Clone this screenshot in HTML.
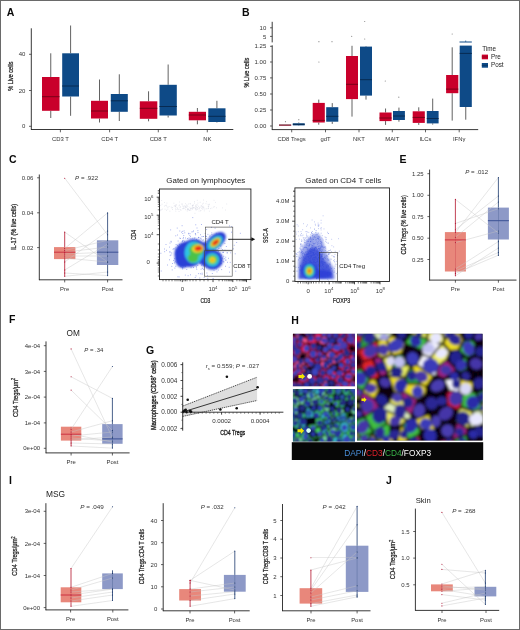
<!DOCTYPE html>
<html><head><meta charset="utf-8"><style>
html,body{margin:0;padding:0;background:#fff;}
body{width:520px;height:630px;overflow:hidden;}
svg{display:block;will-change:transform;}
text{font-family:"Liberation Sans", sans-serif;}
</style></head><body>
<svg width="520" height="630" viewBox="0 0 520 630">
<defs><filter id="bl0_4" x="-20%" y="-20%" width="140%" height="140%"><feGaussianBlur stdDeviation="0.4"/></filter><filter id="bl0_5" x="-20%" y="-20%" width="140%" height="140%"><feGaussianBlur stdDeviation="0.5"/></filter><filter id="bl0_6" x="-20%" y="-20%" width="140%" height="140%"><feGaussianBlur stdDeviation="0.6"/></filter><filter id="bl0_7" x="-20%" y="-20%" width="140%" height="140%"><feGaussianBlur stdDeviation="0.7"/></filter><filter id="bl0_8" x="-20%" y="-20%" width="140%" height="140%"><feGaussianBlur stdDeviation="0.8"/></filter><filter id="bl0_9" x="-20%" y="-20%" width="140%" height="140%"><feGaussianBlur stdDeviation="0.9"/></filter><filter id="bl1_0" x="-20%" y="-20%" width="140%" height="140%"><feGaussianBlur stdDeviation="1.0"/></filter><filter id="bl1_1" x="-20%" y="-20%" width="140%" height="140%"><feGaussianBlur stdDeviation="1.1"/></filter><filter id="bl1_2" x="-20%" y="-20%" width="140%" height="140%"><feGaussianBlur stdDeviation="1.2"/></filter><filter id="bl1_3" x="-20%" y="-20%" width="140%" height="140%"><feGaussianBlur stdDeviation="1.3"/></filter><filter id="bl1_4" x="-20%" y="-20%" width="140%" height="140%"><feGaussianBlur stdDeviation="1.4"/></filter><filter id="bl1_5" x="-20%" y="-20%" width="140%" height="140%"><feGaussianBlur stdDeviation="1.5"/></filter></defs>
<rect x="0" y="0" width="520" height="630" fill="#fff"/>
<text x="6.7" y="15.7" font-size="10.5" text-anchor="start" fill="#0a0a0a" font-weight="bold">A</text>
<line x1="31.3" y1="28.3" x2="31.3" y2="129.8" stroke="#222" stroke-width="0.9"/>
<line x1="31.0" y1="129.5" x2="233.3" y2="129.5" stroke="#222" stroke-width="0.9"/>
<line x1="29" y1="126.3" x2="31.3" y2="126.3" stroke="#222" stroke-width="0.7"/>
<text x="25.4" y="128.4" font-size="6" text-anchor="end" fill="#333" font-weight="normal">0</text>
<line x1="29" y1="90.5" x2="31.3" y2="90.5" stroke="#222" stroke-width="0.7"/>
<text x="25.4" y="92.6" font-size="6" text-anchor="end" fill="#333" font-weight="normal">20</text>
<line x1="29" y1="54.3" x2="31.3" y2="54.3" stroke="#222" stroke-width="0.7"/>
<text x="25.4" y="56.4" font-size="6" text-anchor="end" fill="#333" font-weight="normal">40</text>
<text x="13.4" y="76.2" font-size="7.2" text-anchor="middle" fill="#222" font-weight="normal" transform="rotate(-90 13.4 76.2)" textLength="29.3" lengthAdjust="spacingAndGlyphs" stroke="#222" stroke-width="0.25">% Live cells</text>
<line x1="50.75" y1="53.3" x2="50.75" y2="77" stroke="#3a3a3a" stroke-width="0.8"/>
<line x1="50.75" y1="110.8" x2="50.75" y2="118" stroke="#3a3a3a" stroke-width="0.8"/>
<rect x="42" y="77" width="17.5" height="33.8" fill="#c9002b" stroke="none" stroke-width="0"/>
<line x1="42" y1="96.7" x2="59.5" y2="96.7" stroke="#7a0018" stroke-width="1.0"/>
<line x1="70.6" y1="25.5" x2="70.6" y2="53.3" stroke="#3a3a3a" stroke-width="0.8"/>
<line x1="70.6" y1="96.5" x2="70.6" y2="115.8" stroke="#3a3a3a" stroke-width="0.8"/>
<rect x="62.2" y="53.3" width="16.799999999999997" height="43.2" fill="#0e4a87" stroke="none" stroke-width="0"/>
<line x1="62.2" y1="86" x2="79" y2="86" stroke="#072a52" stroke-width="1.0"/>
<line x1="99.5" y1="79.5" x2="99.5" y2="100.8" stroke="#3a3a3a" stroke-width="0.8"/>
<line x1="99.5" y1="118.5" x2="99.5" y2="122.5" stroke="#3a3a3a" stroke-width="0.8"/>
<rect x="91" y="100.8" width="17" height="17.700000000000003" fill="#c9002b" stroke="none" stroke-width="0"/>
<line x1="91" y1="111" x2="108" y2="111" stroke="#7a0018" stroke-width="1.0"/>
<line x1="119.3" y1="74.3" x2="119.3" y2="94" stroke="#3a3a3a" stroke-width="0.8"/>
<line x1="119.3" y1="111.8" x2="119.3" y2="121" stroke="#3a3a3a" stroke-width="0.8"/>
<rect x="110.8" y="94" width="17.0" height="17.799999999999997" fill="#0e4a87" stroke="none" stroke-width="0"/>
<line x1="110.8" y1="100.8" x2="127.8" y2="100.8" stroke="#072a52" stroke-width="1.0"/>
<line x1="148.55" y1="91.3" x2="148.55" y2="101.3" stroke="#3a3a3a" stroke-width="0.8"/>
<line x1="148.55" y1="118.8" x2="148.55" y2="121.3" stroke="#3a3a3a" stroke-width="0.8"/>
<rect x="139.8" y="101.3" width="17.5" height="17.5" fill="#c9002b" stroke="none" stroke-width="0"/>
<line x1="139.8" y1="108.3" x2="157.3" y2="108.3" stroke="#7a0018" stroke-width="1.0"/>
<line x1="168.15" y1="64.5" x2="168.15" y2="84.8" stroke="#3a3a3a" stroke-width="0.8"/>
<line x1="168.15" y1="115.5" x2="168.15" y2="117.5" stroke="#3a3a3a" stroke-width="0.8"/>
<rect x="159.5" y="84.8" width="17.30000000000001" height="30.700000000000003" fill="#0e4a87" stroke="none" stroke-width="0"/>
<line x1="159.5" y1="106.5" x2="176.8" y2="106.5" stroke="#072a52" stroke-width="1.0"/>
<line x1="197.4" y1="108" x2="197.4" y2="111.8" stroke="#3a3a3a" stroke-width="0.8"/>
<line x1="197.4" y1="120.3" x2="197.4" y2="124.3" stroke="#3a3a3a" stroke-width="0.8"/>
<rect x="188.8" y="111.8" width="17.19999999999999" height="8.5" fill="#c9002b" stroke="none" stroke-width="0"/>
<line x1="188.8" y1="115" x2="206" y2="115" stroke="#7a0018" stroke-width="1.0"/>
<line x1="216.9" y1="100.8" x2="216.9" y2="108.3" stroke="#3a3a3a" stroke-width="0.8"/>
<line x1="216.9" y1="122" x2="216.9" y2="122.5" stroke="#3a3a3a" stroke-width="0.8"/>
<rect x="208.3" y="108.3" width="17.19999999999999" height="13.700000000000003" fill="#0e4a87" stroke="none" stroke-width="0"/>
<line x1="208.3" y1="116.3" x2="225.5" y2="116.3" stroke="#072a52" stroke-width="1.0"/>
<line x1="60.4" y1="129.5" x2="60.4" y2="132.3" stroke="#222" stroke-width="0.7"/>
<text x="60.4" y="140.8" font-size="5.9" text-anchor="middle" fill="#333" font-weight="normal">CD3 T</text>
<line x1="109.6" y1="129.5" x2="109.6" y2="132.3" stroke="#222" stroke-width="0.7"/>
<text x="109.6" y="140.8" font-size="5.9" text-anchor="middle" fill="#333" font-weight="normal">CD4 T</text>
<line x1="158.3" y1="129.5" x2="158.3" y2="132.3" stroke="#222" stroke-width="0.7"/>
<text x="158.3" y="140.8" font-size="5.9" text-anchor="middle" fill="#333" font-weight="normal">CD8 T</text>
<line x1="207.3" y1="129.5" x2="207.3" y2="132.3" stroke="#222" stroke-width="0.7"/>
<text x="207.3" y="140.8" font-size="5.9" text-anchor="middle" fill="#333" font-weight="normal">NK</text>
<text x="242.0" y="15.7" font-size="10.5" text-anchor="start" fill="#0a0a0a" font-weight="bold">B</text>
<line x1="272.2" y1="21.8" x2="272.2" y2="42.4" stroke="#222" stroke-width="0.9"/>
<line x1="272.2" y1="45.3" x2="272.2" y2="129.9" stroke="#222" stroke-width="0.9"/>
<line x1="271.9" y1="129.6" x2="478.2" y2="129.6" stroke="#222" stroke-width="0.9"/>
<line x1="270" y1="27.8" x2="272.2" y2="27.8" stroke="#222" stroke-width="0.7"/>
<text x="266.3" y="29.900000000000002" font-size="6" text-anchor="end" fill="#333" font-weight="normal">10</text>
<line x1="270" y1="36.4" x2="272.2" y2="36.4" stroke="#222" stroke-width="0.7"/>
<text x="266.3" y="38.5" font-size="6" text-anchor="end" fill="#333" font-weight="normal">5</text>
<line x1="270" y1="46.3" x2="272.2" y2="46.3" stroke="#222" stroke-width="0.7"/>
<text x="266.3" y="48.4" font-size="6" text-anchor="end" fill="#333" font-weight="normal">1.25</text>
<line x1="270" y1="62.0" x2="272.2" y2="62.0" stroke="#222" stroke-width="0.7"/>
<text x="266.3" y="64.1" font-size="6" text-anchor="end" fill="#333" font-weight="normal">1.00</text>
<line x1="270" y1="77.9" x2="272.2" y2="77.9" stroke="#222" stroke-width="0.7"/>
<text x="266.3" y="80.0" font-size="6" text-anchor="end" fill="#333" font-weight="normal">0.75</text>
<line x1="270" y1="94.0" x2="272.2" y2="94.0" stroke="#222" stroke-width="0.7"/>
<text x="266.3" y="96.1" font-size="6" text-anchor="end" fill="#333" font-weight="normal">0.50</text>
<line x1="270" y1="110.0" x2="272.2" y2="110.0" stroke="#222" stroke-width="0.7"/>
<text x="266.3" y="112.1" font-size="6" text-anchor="end" fill="#333" font-weight="normal">0.25</text>
<line x1="270" y1="126.0" x2="272.2" y2="126.0" stroke="#222" stroke-width="0.7"/>
<text x="266.3" y="128.1" font-size="6" text-anchor="end" fill="#333" font-weight="normal">0.00</text>
<text x="248.6" y="72.6" font-size="7.2" text-anchor="middle" fill="#222" font-weight="normal" transform="rotate(-90 248.6 72.6)" textLength="29.7" lengthAdjust="spacingAndGlyphs" stroke="#222" stroke-width="0.25">% Live cells</text>
<line x1="285.1" y1="124.9" x2="285.1" y2="124.9" stroke="#3a3a3a" stroke-width="0.8"/>
<line x1="285.1" y1="125.1" x2="285.1" y2="125.1" stroke="#3a3a3a" stroke-width="0.8"/>
<rect x="279" y="124.9" width="12.199999999999989" height="0.6" fill="#c9002b" stroke="none" stroke-width="0"/>
<line x1="279" y1="125" x2="291.2" y2="125" stroke="#5a1020" stroke-width="1.0"/>
<line x1="298.75" y1="122.5" x2="298.75" y2="123.3" stroke="#3a3a3a" stroke-width="0.8"/>
<line x1="298.75" y1="125.4" x2="298.75" y2="125.8" stroke="#3a3a3a" stroke-width="0.8"/>
<rect x="292.8" y="123.3" width="11.899999999999977" height="2.1000000000000085" fill="#0e4a87" stroke="none" stroke-width="0"/>
<line x1="292.8" y1="124.3" x2="304.7" y2="124.3" stroke="#072a52" stroke-width="1.0"/>
<line x1="318.75" y1="99.6" x2="318.75" y2="102.9" stroke="#3a3a3a" stroke-width="0.8"/>
<line x1="318.75" y1="122.5" x2="318.75" y2="124.7" stroke="#3a3a3a" stroke-width="0.8"/>
<rect x="312.7" y="102.9" width="12.100000000000023" height="19.599999999999994" fill="#c9002b" stroke="none" stroke-width="0"/>
<line x1="312.7" y1="120.4" x2="324.8" y2="120.4" stroke="#7a0018" stroke-width="1.0"/>
<line x1="332.25" y1="103.1" x2="332.25" y2="107.2" stroke="#3a3a3a" stroke-width="0.8"/>
<line x1="332.25" y1="121.7" x2="332.25" y2="123.9" stroke="#3a3a3a" stroke-width="0.8"/>
<rect x="326.2" y="107.2" width="12.100000000000023" height="14.5" fill="#0e4a87" stroke="none" stroke-width="0"/>
<line x1="326.2" y1="116.3" x2="338.3" y2="116.3" stroke="#072a52" stroke-width="1.0"/>
<line x1="352.0" y1="45.8" x2="352.0" y2="56" stroke="#3a3a3a" stroke-width="0.8"/>
<line x1="352.0" y1="99.1" x2="352.0" y2="116.6" stroke="#3a3a3a" stroke-width="0.8"/>
<rect x="346" y="56" width="12" height="43.099999999999994" fill="#c9002b" stroke="none" stroke-width="0"/>
<line x1="346" y1="84.3" x2="358" y2="84.3" stroke="#7a0018" stroke-width="1.0"/>
<line x1="366.0" y1="46" x2="366.0" y2="46.6" stroke="#3a3a3a" stroke-width="0.8"/>
<line x1="366.0" y1="95.6" x2="366.0" y2="99.6" stroke="#3a3a3a" stroke-width="0.8"/>
<rect x="360" y="46.6" width="12" height="48.99999999999999" fill="#0e4a87" stroke="none" stroke-width="0"/>
<line x1="360" y1="79.7" x2="372" y2="79.7" stroke="#072a52" stroke-width="1.0"/>
<line x1="385.55" y1="108.5" x2="385.55" y2="112.5" stroke="#3a3a3a" stroke-width="0.8"/>
<line x1="385.55" y1="121.1" x2="385.55" y2="124.9" stroke="#3a3a3a" stroke-width="0.8"/>
<rect x="379.5" y="112.5" width="12.100000000000023" height="8.599999999999994" fill="#c9002b" stroke="none" stroke-width="0"/>
<line x1="379.5" y1="118" x2="391.6" y2="118" stroke="#7a0018" stroke-width="1.0"/>
<line x1="398.95" y1="107.6" x2="398.95" y2="111" stroke="#3a3a3a" stroke-width="0.8"/>
<line x1="398.95" y1="120" x2="398.95" y2="121.7" stroke="#3a3a3a" stroke-width="0.8"/>
<rect x="393" y="111" width="11.899999999999977" height="9" fill="#0e4a87" stroke="none" stroke-width="0"/>
<line x1="393" y1="116" x2="404.9" y2="116" stroke="#072a52" stroke-width="1.0"/>
<line x1="418.75" y1="107.3" x2="418.75" y2="111.3" stroke="#3a3a3a" stroke-width="0.8"/>
<line x1="418.75" y1="122.9" x2="418.75" y2="124.9" stroke="#3a3a3a" stroke-width="0.8"/>
<rect x="412.7" y="111.3" width="12.100000000000023" height="11.600000000000009" fill="#c9002b" stroke="none" stroke-width="0"/>
<line x1="412.7" y1="117.4" x2="424.8" y2="117.4" stroke="#7a0018" stroke-width="1.0"/>
<line x1="432.70000000000005" y1="98.6" x2="432.70000000000005" y2="111" stroke="#3a3a3a" stroke-width="0.8"/>
<line x1="432.70000000000005" y1="123.4" x2="432.70000000000005" y2="124.6" stroke="#3a3a3a" stroke-width="0.8"/>
<rect x="426.8" y="111" width="11.800000000000011" height="12.400000000000006" fill="#0e4a87" stroke="none" stroke-width="0"/>
<line x1="426.8" y1="118.5" x2="438.6" y2="118.5" stroke="#072a52" stroke-width="1.0"/>
<line x1="452.20000000000005" y1="47.3" x2="452.20000000000005" y2="75" stroke="#3a3a3a" stroke-width="0.8"/>
<line x1="452.20000000000005" y1="93.2" x2="452.20000000000005" y2="120.6" stroke="#3a3a3a" stroke-width="0.8"/>
<rect x="446.1" y="75" width="12.199999999999989" height="18.200000000000003" fill="#c9002b" stroke="none" stroke-width="0"/>
<line x1="446.1" y1="89.1" x2="458.3" y2="89.1" stroke="#7a0018" stroke-width="1.0"/>
<line x1="465.75" y1="45.6" x2="465.75" y2="45.6" stroke="#3a3a3a" stroke-width="0.8"/>
<line x1="465.75" y1="107" x2="465.75" y2="119.7" stroke="#3a3a3a" stroke-width="0.8"/>
<rect x="459.7" y="45.6" width="12.100000000000023" height="61.4" fill="#0e4a87" stroke="none" stroke-width="0"/>
<line x1="459.7" y1="53.4" x2="471.8" y2="53.4" stroke="#072a52" stroke-width="1.0"/>
<line x1="459.5" y1="42.0" x2="471.8" y2="42.0" stroke="#0e4a87" stroke-width="1.0"/>
<line x1="465.7" y1="40.5" x2="465.7" y2="42" stroke="#0e4a87" stroke-width="0.7"/>
<circle cx="285.5" cy="121.7" r="0.6" fill="#888"/>
<circle cx="298.8" cy="119.7" r="0.6" fill="#888"/>
<circle cx="318.9" cy="41.7" r="0.6" fill="#888"/>
<circle cx="332" cy="41.7" r="0.6" fill="#888"/>
<circle cx="318.9" cy="62" r="0.6" fill="#888"/>
<circle cx="351.7" cy="36.3" r="0.6" fill="#888"/>
<circle cx="364.7" cy="21.5" r="0.6" fill="#888"/>
<circle cx="364.7" cy="39" r="0.6" fill="#888"/>
<circle cx="385.3" cy="81" r="0.6" fill="#888"/>
<circle cx="398.8" cy="97.2" r="0.6" fill="#888"/>
<circle cx="452.2" cy="34" r="0.6" fill="#888"/>
<line x1="291.7" y1="129.6" x2="291.7" y2="132.3" stroke="#222" stroke-width="0.7"/>
<text x="291.7" y="141.0" font-size="5.9" text-anchor="middle" fill="#333" font-weight="normal">CD8 Tregs</text>
<line x1="325.5" y1="129.6" x2="325.5" y2="132.3" stroke="#222" stroke-width="0.7"/>
<text x="325.5" y="141.0" font-size="5.9" text-anchor="middle" fill="#333" font-weight="normal">gdT</text>
<line x1="359" y1="129.6" x2="359" y2="132.3" stroke="#222" stroke-width="0.7"/>
<text x="359" y="141.0" font-size="5.9" text-anchor="middle" fill="#333" font-weight="normal">NKT</text>
<line x1="392.3" y1="129.6" x2="392.3" y2="132.3" stroke="#222" stroke-width="0.7"/>
<text x="392.3" y="141.0" font-size="5.9" text-anchor="middle" fill="#333" font-weight="normal">MAIT</text>
<line x1="425.5" y1="129.6" x2="425.5" y2="132.3" stroke="#222" stroke-width="0.7"/>
<text x="425.5" y="141.0" font-size="5.9" text-anchor="middle" fill="#333" font-weight="normal">ILCs</text>
<line x1="459.2" y1="129.6" x2="459.2" y2="132.3" stroke="#222" stroke-width="0.7"/>
<text x="459.2" y="141.0" font-size="5.9" text-anchor="middle" fill="#333" font-weight="normal">IFNγ</text>
<text x="482.3" y="50.8" font-size="6.3" text-anchor="start" fill="#222" font-weight="normal">Time</text>
<rect x="481.8" y="54.6" width="6.2" height="4.7" fill="#c9002b" stroke="none" stroke-width="0"/>
<line x1="481.8" y1="56.95" x2="488" y2="56.95" stroke="#7a0018" stroke-width="0.6"/>
<text x="491.0" y="59.0" font-size="6.3" text-anchor="start" fill="#222" font-weight="normal">Pre</text>
<rect x="481.8" y="63.0" width="6.2" height="4.7" fill="#0e4a87" stroke="none" stroke-width="0"/>
<line x1="481.8" y1="65.35" x2="488" y2="65.35" stroke="#072a52" stroke-width="0.6"/>
<text x="491.0" y="67.4" font-size="6.3" text-anchor="start" fill="#222" font-weight="normal">Post</text>
<text x="9.1" y="163.4" font-size="10.5" text-anchor="start" fill="#0a0a0a" font-weight="bold">C</text>
<line x1="39.3" y1="174.5" x2="39.3" y2="280.1" stroke="#222" stroke-width="0.9"/>
<line x1="39.0" y1="279.8" x2="122.5" y2="279.8" stroke="#222" stroke-width="0.9"/>
<line x1="37.099999999999994" y1="177.8" x2="39.3" y2="177.8" stroke="#222" stroke-width="0.7"/>
<text x="33.4" y="179.9" font-size="6" text-anchor="end" fill="#333" font-weight="normal">0.06</text>
<line x1="37.099999999999994" y1="212.8" x2="39.3" y2="212.8" stroke="#222" stroke-width="0.7"/>
<text x="33.4" y="214.9" font-size="6" text-anchor="end" fill="#333" font-weight="normal">0.04</text>
<line x1="37.099999999999994" y1="247.6" x2="39.3" y2="247.6" stroke="#222" stroke-width="0.7"/>
<text x="33.4" y="249.7" font-size="6" text-anchor="end" fill="#333" font-weight="normal">0.02</text>
<line x1="64.7" y1="279.8" x2="64.7" y2="282.40000000000003" stroke="#222" stroke-width="0.7"/>
<text x="64.7" y="290.90000000000003" font-size="5.9" text-anchor="middle" fill="#333" font-weight="normal">Pre</text>
<line x1="107.6" y1="279.8" x2="107.6" y2="282.40000000000003" stroke="#222" stroke-width="0.7"/>
<text x="107.6" y="290.90000000000003" font-size="5.9" text-anchor="middle" fill="#333" font-weight="normal">Post</text>
<text x="15.8" y="226.9" font-size="7.2" text-anchor="middle" fill="#222" font-weight="normal" transform="rotate(-90 15.8 226.9)" textLength="46.3" lengthAdjust="spacingAndGlyphs" stroke="#222" stroke-width="0.25">IL-17 (% live cells)</text>
<rect x="54.0" y="247.1" width="21.4" height="12.000000000000028" fill="#e8877b" stroke="none" stroke-width="0"/>
<rect x="96.89999999999999" y="240.3" width="21.4" height="24.69999999999999" fill="#8d99c7" stroke="none" stroke-width="0"/>
<line x1="64.7" y1="178.2" x2="107.6" y2="234.8" stroke="#c4c4c4" stroke-width="0.5" opacity="0.85"/>
<line x1="64.7" y1="232.1" x2="107.6" y2="262" stroke="#c4c4c4" stroke-width="0.5" opacity="0.85"/>
<line x1="64.7" y1="248.5" x2="107.6" y2="212.9" stroke="#c4c4c4" stroke-width="0.5" opacity="0.85"/>
<line x1="64.7" y1="250.5" x2="107.6" y2="240.3" stroke="#c4c4c4" stroke-width="0.5" opacity="0.85"/>
<line x1="64.7" y1="252.2" x2="107.6" y2="247" stroke="#c4c4c4" stroke-width="0.5" opacity="0.85"/>
<line x1="64.7" y1="254" x2="107.6" y2="252.2" stroke="#c4c4c4" stroke-width="0.5" opacity="0.85"/>
<line x1="64.7" y1="256" x2="107.6" y2="256" stroke="#c4c4c4" stroke-width="0.5" opacity="0.85"/>
<line x1="64.7" y1="258" x2="107.6" y2="262" stroke="#c4c4c4" stroke-width="0.5" opacity="0.85"/>
<line x1="64.7" y1="262" x2="107.6" y2="231" stroke="#c4c4c4" stroke-width="0.5" opacity="0.85"/>
<line x1="64.7" y1="270" x2="107.6" y2="244" stroke="#c4c4c4" stroke-width="0.5" opacity="0.85"/>
<line x1="64.7" y1="276.3" x2="107.6" y2="272" stroke="#c4c4c4" stroke-width="0.5" opacity="0.85"/>
<line x1="64.7" y1="273" x2="107.6" y2="275.6" stroke="#c4c4c4" stroke-width="0.5" opacity="0.85"/>
<line x1="64.7" y1="232.1" x2="64.7" y2="247.1" stroke="#b3142c" stroke-width="0.8"/>
<line x1="64.7" y1="259.1" x2="64.7" y2="276.3" stroke="#b3142c" stroke-width="0.8"/>
<line x1="64.7" y1="247.1" x2="64.7" y2="259.1" stroke="#b3142c" stroke-width="0.5" opacity="0.5"/>
<line x1="54.0" y1="252.2" x2="75.4" y2="252.2" stroke="#cc3040" stroke-width="1.0"/>
<line x1="107.6" y1="212.9" x2="107.6" y2="240.3" stroke="#1d3a6f" stroke-width="0.8"/>
<line x1="107.6" y1="265" x2="107.6" y2="275.6" stroke="#1d3a6f" stroke-width="0.8"/>
<line x1="107.6" y1="240.3" x2="107.6" y2="265" stroke="#1d3a6f" stroke-width="0.5" opacity="0.5"/>
<line x1="96.89999999999999" y1="252.2" x2="118.3" y2="252.2" stroke="#3c5294" stroke-width="1.0"/>
<circle cx="64.7" cy="178.2" r="0.55" fill="#b01030"/>
<circle cx="107.6" cy="234.8" r="0.55" fill="#1d3a6f"/>
<circle cx="64.7" cy="232.1" r="0.55" fill="#b01030"/>
<circle cx="107.6" cy="262" r="0.55" fill="#1d3a6f"/>
<circle cx="64.7" cy="248.5" r="0.55" fill="#b01030"/>
<circle cx="107.6" cy="212.9" r="0.55" fill="#1d3a6f"/>
<circle cx="64.7" cy="250.5" r="0.55" fill="#b01030"/>
<circle cx="107.6" cy="240.3" r="0.55" fill="#1d3a6f"/>
<circle cx="64.7" cy="252.2" r="0.55" fill="#b01030"/>
<circle cx="107.6" cy="247" r="0.55" fill="#1d3a6f"/>
<circle cx="64.7" cy="254" r="0.55" fill="#b01030"/>
<circle cx="107.6" cy="252.2" r="0.55" fill="#1d3a6f"/>
<circle cx="64.7" cy="256" r="0.55" fill="#b01030"/>
<circle cx="107.6" cy="256" r="0.55" fill="#1d3a6f"/>
<circle cx="64.7" cy="258" r="0.55" fill="#b01030"/>
<circle cx="107.6" cy="262" r="0.55" fill="#1d3a6f"/>
<circle cx="64.7" cy="262" r="0.55" fill="#b01030"/>
<circle cx="107.6" cy="231" r="0.55" fill="#1d3a6f"/>
<circle cx="64.7" cy="270" r="0.55" fill="#b01030"/>
<circle cx="107.6" cy="244" r="0.55" fill="#1d3a6f"/>
<circle cx="64.7" cy="276.3" r="0.55" fill="#b01030"/>
<circle cx="107.6" cy="272" r="0.55" fill="#1d3a6f"/>
<circle cx="64.7" cy="273" r="0.55" fill="#b01030"/>
<circle cx="107.6" cy="275.6" r="0.55" fill="#1d3a6f"/>
<text x="75.1" y="179.5" font-size="6.2" fill="#333" textLength="23" lengthAdjust="spacingAndGlyphs"><tspan font-style="italic">P</tspan> = .922</text>
<text x="399.6" y="163.3" font-size="10.5" text-anchor="start" fill="#0a0a0a" font-weight="bold">E</text>
<line x1="429.6" y1="169.6" x2="429.6" y2="280.40000000000003" stroke="#222" stroke-width="0.9"/>
<line x1="429.3" y1="280.1" x2="516.5" y2="280.1" stroke="#222" stroke-width="0.9"/>
<line x1="427.40000000000003" y1="173.7" x2="429.6" y2="173.7" stroke="#222" stroke-width="0.7"/>
<text x="423.70000000000005" y="175.79999999999998" font-size="6" text-anchor="end" fill="#333" font-weight="normal">1.25</text>
<line x1="427.40000000000003" y1="195.3" x2="429.6" y2="195.3" stroke="#222" stroke-width="0.7"/>
<text x="423.70000000000005" y="197.4" font-size="6" text-anchor="end" fill="#333" font-weight="normal">1.00</text>
<line x1="427.40000000000003" y1="216.6" x2="429.6" y2="216.6" stroke="#222" stroke-width="0.7"/>
<text x="423.70000000000005" y="218.7" font-size="6" text-anchor="end" fill="#333" font-weight="normal">0.75</text>
<line x1="427.40000000000003" y1="238.2" x2="429.6" y2="238.2" stroke="#222" stroke-width="0.7"/>
<text x="423.70000000000005" y="240.29999999999998" font-size="6" text-anchor="end" fill="#333" font-weight="normal">0.50</text>
<line x1="427.40000000000003" y1="259.5" x2="429.6" y2="259.5" stroke="#222" stroke-width="0.7"/>
<text x="423.70000000000005" y="261.6" font-size="6" text-anchor="end" fill="#333" font-weight="normal">0.25</text>
<line x1="455.4" y1="280.1" x2="455.4" y2="282.70000000000005" stroke="#222" stroke-width="0.7"/>
<text x="455.4" y="291.20000000000005" font-size="5.9" text-anchor="middle" fill="#333" font-weight="normal">Pre</text>
<line x1="498.4" y1="280.1" x2="498.4" y2="282.70000000000005" stroke="#222" stroke-width="0.7"/>
<text x="498.4" y="291.20000000000005" font-size="5.9" text-anchor="middle" fill="#333" font-weight="normal">Post</text>
<text x="406.3" y="224.9" font-size="7.2" text-anchor="middle" fill="#222" font-weight="normal" transform="rotate(-90 406.3 224.9)" textLength="59.4" lengthAdjust="spacingAndGlyphs" stroke="#222" stroke-width="0.25">CD4 Tregs (% live cells)</text>
<rect x="444.9" y="232.1" width="21.0" height="39.400000000000006" fill="#e8877b" stroke="none" stroke-width="0"/>
<rect x="487.9" y="207.6" width="21.0" height="31.900000000000006" fill="#8d99c7" stroke="none" stroke-width="0"/>
<line x1="455.4" y1="199.4" x2="498.4" y2="233" stroke="#c4c4c4" stroke-width="0.5" opacity="0.85"/>
<line x1="455.4" y1="223.5" x2="498.4" y2="208.7" stroke="#c4c4c4" stroke-width="0.5" opacity="0.85"/>
<line x1="455.4" y1="229.7" x2="498.4" y2="196" stroke="#c4c4c4" stroke-width="0.5" opacity="0.85"/>
<line x1="455.4" y1="232.5" x2="498.4" y2="177.5" stroke="#c4c4c4" stroke-width="0.5" opacity="0.85"/>
<line x1="455.4" y1="237.3" x2="498.4" y2="202" stroke="#c4c4c4" stroke-width="0.5" opacity="0.85"/>
<line x1="455.4" y1="242.6" x2="498.4" y2="231" stroke="#c4c4c4" stroke-width="0.5" opacity="0.85"/>
<line x1="455.4" y1="269" x2="498.4" y2="241.6" stroke="#c4c4c4" stroke-width="0.5" opacity="0.85"/>
<line x1="455.4" y1="271" x2="498.4" y2="252.5" stroke="#c4c4c4" stroke-width="0.5" opacity="0.85"/>
<line x1="455.4" y1="273.4" x2="498.4" y2="255.2" stroke="#c4c4c4" stroke-width="0.5" opacity="0.85"/>
<line x1="455.4" y1="275.8" x2="498.4" y2="248" stroke="#c4c4c4" stroke-width="0.5" opacity="0.85"/>
<line x1="455.4" y1="199.4" x2="455.4" y2="232.1" stroke="#b3142c" stroke-width="0.8"/>
<line x1="455.4" y1="271.5" x2="455.4" y2="275.8" stroke="#b3142c" stroke-width="0.8"/>
<line x1="455.4" y1="232.1" x2="455.4" y2="271.5" stroke="#b3142c" stroke-width="0.5" opacity="0.5"/>
<line x1="444.9" y1="239.9" x2="465.9" y2="239.9" stroke="#cc3040" stroke-width="1.0"/>
<line x1="498.4" y1="177.5" x2="498.4" y2="207.6" stroke="#1d3a6f" stroke-width="0.8"/>
<line x1="498.4" y1="239.5" x2="498.4" y2="255.7" stroke="#1d3a6f" stroke-width="0.8"/>
<line x1="498.4" y1="207.6" x2="498.4" y2="239.5" stroke="#1d3a6f" stroke-width="0.5" opacity="0.5"/>
<line x1="487.9" y1="220.7" x2="508.9" y2="220.7" stroke="#3c5294" stroke-width="1.0"/>
<circle cx="455.4" cy="199.4" r="0.55" fill="#b01030"/>
<circle cx="498.4" cy="233" r="0.55" fill="#1d3a6f"/>
<circle cx="455.4" cy="223.5" r="0.55" fill="#b01030"/>
<circle cx="498.4" cy="208.7" r="0.55" fill="#1d3a6f"/>
<circle cx="455.4" cy="229.7" r="0.55" fill="#b01030"/>
<circle cx="498.4" cy="196" r="0.55" fill="#1d3a6f"/>
<circle cx="455.4" cy="232.5" r="0.55" fill="#b01030"/>
<circle cx="498.4" cy="177.5" r="0.55" fill="#1d3a6f"/>
<circle cx="455.4" cy="237.3" r="0.55" fill="#b01030"/>
<circle cx="498.4" cy="202" r="0.55" fill="#1d3a6f"/>
<circle cx="455.4" cy="242.6" r="0.55" fill="#b01030"/>
<circle cx="498.4" cy="231" r="0.55" fill="#1d3a6f"/>
<circle cx="455.4" cy="269" r="0.55" fill="#b01030"/>
<circle cx="498.4" cy="241.6" r="0.55" fill="#1d3a6f"/>
<circle cx="455.4" cy="271" r="0.55" fill="#b01030"/>
<circle cx="498.4" cy="252.5" r="0.55" fill="#1d3a6f"/>
<circle cx="455.4" cy="273.4" r="0.55" fill="#b01030"/>
<circle cx="498.4" cy="255.2" r="0.55" fill="#1d3a6f"/>
<circle cx="455.4" cy="275.8" r="0.55" fill="#b01030"/>
<circle cx="498.4" cy="248" r="0.55" fill="#1d3a6f"/>
<text x="465.2" y="174.1" font-size="6.2" fill="#333" textLength="23" lengthAdjust="spacingAndGlyphs"><tspan font-style="italic">P</tspan> = .012</text>
<text x="9.1" y="323.1" font-size="10.5" text-anchor="start" fill="#0a0a0a" font-weight="bold">F</text>
<text x="66.6" y="335.9" font-size="8.2" text-anchor="start" fill="#222" font-weight="normal" textLength="13.3" lengthAdjust="spacingAndGlyphs">OM</text>
<line x1="46.0" y1="341.4" x2="46.0" y2="453.2" stroke="#222" stroke-width="0.9"/>
<line x1="45.7" y1="452.9" x2="129.6" y2="452.9" stroke="#222" stroke-width="0.9"/>
<line x1="43.8" y1="345.7" x2="46.0" y2="345.7" stroke="#222" stroke-width="0.7"/>
<text x="40.1" y="347.8" font-size="6" text-anchor="end" fill="#333" font-weight="normal">4e-04</text>
<line x1="43.8" y1="371.4" x2="46.0" y2="371.4" stroke="#222" stroke-width="0.7"/>
<text x="40.1" y="373.5" font-size="6" text-anchor="end" fill="#333" font-weight="normal">3e-04</text>
<line x1="43.8" y1="397.1" x2="46.0" y2="397.1" stroke="#222" stroke-width="0.7"/>
<text x="40.1" y="399.20000000000005" font-size="6" text-anchor="end" fill="#333" font-weight="normal">2e-04</text>
<line x1="43.8" y1="422.9" x2="46.0" y2="422.9" stroke="#222" stroke-width="0.7"/>
<text x="40.1" y="425.0" font-size="6" text-anchor="end" fill="#333" font-weight="normal">1e-04</text>
<line x1="43.8" y1="448.3" x2="46.0" y2="448.3" stroke="#222" stroke-width="0.7"/>
<text x="40.1" y="450.40000000000003" font-size="6" text-anchor="end" fill="#333" font-weight="normal">0e+00</text>
<line x1="71.1" y1="452.9" x2="71.1" y2="455.5" stroke="#222" stroke-width="0.7"/>
<text x="71.1" y="464.0" font-size="5.9" text-anchor="middle" fill="#333" font-weight="normal">Pre</text>
<line x1="112.4" y1="452.9" x2="112.4" y2="455.5" stroke="#222" stroke-width="0.7"/>
<text x="112.4" y="464.0" font-size="5.9" text-anchor="middle" fill="#333" font-weight="normal">Post</text>
<text x="17.6" y="397.5" font-size="7.2" text-anchor="middle" fill="#222" font-weight="normal" transform="rotate(-90 17.6 397.5)" textLength="39" lengthAdjust="spacingAndGlyphs" stroke="#222" stroke-width="0.25">CD4 Tregs/μm<tspan dy="-2.5" font-size="4.5">2</tspan></text>
<rect x="60.89999999999999" y="426.7" width="20.4" height="13.900000000000034" fill="#e8877b" stroke="none" stroke-width="0"/>
<rect x="102.2" y="424.1" width="20.4" height="19.69999999999999" fill="#8d99c7" stroke="none" stroke-width="0"/>
<line x1="71.1" y1="348.9" x2="112.4" y2="437.9" stroke="#c4c4c4" stroke-width="0.5" opacity="0.85"/>
<line x1="71.1" y1="376.8" x2="112.4" y2="398.4" stroke="#c4c4c4" stroke-width="0.5" opacity="0.85"/>
<line x1="71.1" y1="390.1" x2="112.4" y2="430.4" stroke="#c4c4c4" stroke-width="0.5" opacity="0.85"/>
<line x1="71.1" y1="429.3" x2="112.4" y2="366.5" stroke="#c4c4c4" stroke-width="0.5" opacity="0.85"/>
<line x1="71.1" y1="432" x2="112.4" y2="420.7" stroke="#c4c4c4" stroke-width="0.5" opacity="0.85"/>
<line x1="71.1" y1="436" x2="112.4" y2="432" stroke="#c4c4c4" stroke-width="0.5" opacity="0.85"/>
<line x1="71.1" y1="438" x2="112.4" y2="441" stroke="#c4c4c4" stroke-width="0.5" opacity="0.85"/>
<line x1="71.1" y1="440" x2="112.4" y2="437" stroke="#c4c4c4" stroke-width="0.5" opacity="0.85"/>
<line x1="71.1" y1="443" x2="112.4" y2="444" stroke="#c4c4c4" stroke-width="0.5" opacity="0.85"/>
<line x1="71.1" y1="446" x2="112.4" y2="448.1" stroke="#c4c4c4" stroke-width="0.5" opacity="0.85"/>
<line x1="71.1" y1="434.2" x2="112.4" y2="442" stroke="#c4c4c4" stroke-width="0.5" opacity="0.85"/>
<line x1="71.1" y1="426.7" x2="71.1" y2="426.7" stroke="#b3142c" stroke-width="0.8"/>
<line x1="71.1" y1="440.6" x2="71.1" y2="446" stroke="#b3142c" stroke-width="0.8"/>
<line x1="71.1" y1="426.7" x2="71.1" y2="440.6" stroke="#b3142c" stroke-width="0.5" opacity="0.5"/>
<line x1="60.89999999999999" y1="434.2" x2="81.3" y2="434.2" stroke="#cc3040" stroke-width="1.0"/>
<line x1="112.4" y1="398.4" x2="112.4" y2="424.1" stroke="#1d3a6f" stroke-width="0.8"/>
<line x1="112.4" y1="443.8" x2="112.4" y2="448.1" stroke="#1d3a6f" stroke-width="0.8"/>
<line x1="112.4" y1="424.1" x2="112.4" y2="443.8" stroke="#1d3a6f" stroke-width="0.5" opacity="0.5"/>
<line x1="102.2" y1="438.9" x2="122.60000000000001" y2="438.9" stroke="#3c5294" stroke-width="1.0"/>
<circle cx="71.1" cy="348.9" r="0.55" fill="#b01030"/>
<circle cx="112.4" cy="437.9" r="0.55" fill="#1d3a6f"/>
<circle cx="71.1" cy="376.8" r="0.55" fill="#b01030"/>
<circle cx="112.4" cy="398.4" r="0.55" fill="#1d3a6f"/>
<circle cx="71.1" cy="390.1" r="0.55" fill="#b01030"/>
<circle cx="112.4" cy="430.4" r="0.55" fill="#1d3a6f"/>
<circle cx="71.1" cy="429.3" r="0.55" fill="#b01030"/>
<circle cx="112.4" cy="366.5" r="0.55" fill="#1d3a6f"/>
<circle cx="71.1" cy="432" r="0.55" fill="#b01030"/>
<circle cx="112.4" cy="420.7" r="0.55" fill="#1d3a6f"/>
<circle cx="71.1" cy="436" r="0.55" fill="#b01030"/>
<circle cx="112.4" cy="432" r="0.55" fill="#1d3a6f"/>
<circle cx="71.1" cy="438" r="0.55" fill="#b01030"/>
<circle cx="112.4" cy="441" r="0.55" fill="#1d3a6f"/>
<circle cx="71.1" cy="440" r="0.55" fill="#b01030"/>
<circle cx="112.4" cy="437" r="0.55" fill="#1d3a6f"/>
<circle cx="71.1" cy="443" r="0.55" fill="#b01030"/>
<circle cx="112.4" cy="444" r="0.55" fill="#1d3a6f"/>
<circle cx="71.1" cy="446" r="0.55" fill="#b01030"/>
<circle cx="112.4" cy="448.1" r="0.55" fill="#1d3a6f"/>
<circle cx="71.1" cy="434.2" r="0.55" fill="#b01030"/>
<circle cx="112.4" cy="442" r="0.55" fill="#1d3a6f"/>
<text x="84.3" y="352.2" font-size="6.2" fill="#333" textLength="19" lengthAdjust="spacingAndGlyphs"><tspan font-style="italic">P</tspan> = .34</text>
<text x="9.1" y="483.8" font-size="10.5" text-anchor="start" fill="#0a0a0a" font-weight="bold">I</text>
<text x="46.0" y="496.9" font-size="8.4" text-anchor="start" fill="#222" font-weight="normal" textLength="19.1" lengthAdjust="spacingAndGlyphs">MSG</text>
<line x1="45.9" y1="503.2" x2="45.9" y2="610.1999999999999" stroke="#222" stroke-width="0.9"/>
<line x1="45.6" y1="609.9" x2="128.4" y2="609.9" stroke="#222" stroke-width="0.9"/>
<line x1="43.699999999999996" y1="511.3" x2="45.9" y2="511.3" stroke="#222" stroke-width="0.7"/>
<text x="40.0" y="513.4" font-size="6" text-anchor="end" fill="#333" font-weight="normal">3e-04</text>
<line x1="43.699999999999996" y1="543.4" x2="45.9" y2="543.4" stroke="#222" stroke-width="0.7"/>
<text x="40.0" y="545.5" font-size="6" text-anchor="end" fill="#333" font-weight="normal">2e-04</text>
<line x1="43.699999999999996" y1="575.5" x2="45.9" y2="575.5" stroke="#222" stroke-width="0.7"/>
<text x="40.0" y="577.6" font-size="6" text-anchor="end" fill="#333" font-weight="normal">1e-04</text>
<line x1="43.699999999999996" y1="607.6" x2="45.9" y2="607.6" stroke="#222" stroke-width="0.7"/>
<text x="40.0" y="609.7" font-size="6" text-anchor="end" fill="#333" font-weight="normal">0e+00</text>
<line x1="70.6" y1="609.9" x2="70.6" y2="612.5" stroke="#222" stroke-width="0.7"/>
<text x="70.6" y="621.0" font-size="5.9" text-anchor="middle" fill="#333" font-weight="normal">Pre</text>
<line x1="112.8" y1="609.9" x2="112.8" y2="612.5" stroke="#222" stroke-width="0.7"/>
<text x="112.8" y="621.0" font-size="5.9" text-anchor="middle" fill="#333" font-weight="normal">Post</text>
<text x="17.2" y="556.2" font-size="7.2" text-anchor="middle" fill="#222" font-weight="normal" transform="rotate(-90 17.2 556.2)" textLength="39.3" lengthAdjust="spacingAndGlyphs" stroke="#222" stroke-width="0.25">CD4 Tregs/μm<tspan dy="-2.5" font-size="4.5">2</tspan></text>
<rect x="60.7" y="587.3" width="20.6" height="15.0" fill="#e8877b" stroke="none" stroke-width="0"/>
<rect x="102.2" y="573.4" width="20.6" height="15.700000000000045" fill="#8d99c7" stroke="none" stroke-width="0"/>
<line x1="71.0" y1="568.5" x2="112.5" y2="506.8" stroke="#c4c4c4" stroke-width="0.5" opacity="0.85"/>
<line x1="71.0" y1="587.3" x2="112.5" y2="573.4" stroke="#c4c4c4" stroke-width="0.5" opacity="0.85"/>
<line x1="71.0" y1="590" x2="112.5" y2="578" stroke="#c4c4c4" stroke-width="0.5" opacity="0.85"/>
<line x1="71.0" y1="592" x2="112.5" y2="589" stroke="#c4c4c4" stroke-width="0.5" opacity="0.85"/>
<line x1="71.0" y1="595" x2="112.5" y2="589.1" stroke="#c4c4c4" stroke-width="0.5" opacity="0.85"/>
<line x1="71.0" y1="598" x2="112.5" y2="592" stroke="#c4c4c4" stroke-width="0.5" opacity="0.85"/>
<line x1="71.0" y1="601" x2="112.5" y2="595" stroke="#c4c4c4" stroke-width="0.5" opacity="0.85"/>
<line x1="71.0" y1="606.3" x2="112.5" y2="600.5" stroke="#c4c4c4" stroke-width="0.5" opacity="0.85"/>
<line x1="71.0" y1="568.5" x2="71.0" y2="587.3" stroke="#b3142c" stroke-width="0.8"/>
<line x1="71.0" y1="602.3" x2="71.0" y2="606.3" stroke="#b3142c" stroke-width="0.8"/>
<line x1="71.0" y1="587.3" x2="71.0" y2="602.3" stroke="#b3142c" stroke-width="0.5" opacity="0.5"/>
<line x1="60.7" y1="595" x2="81.3" y2="595" stroke="#cc3040" stroke-width="1.0"/>
<line x1="112.5" y1="570.3" x2="112.5" y2="573.4" stroke="#1d3a6f" stroke-width="0.8"/>
<line x1="112.5" y1="589.1" x2="112.5" y2="600.5" stroke="#1d3a6f" stroke-width="0.8"/>
<line x1="112.5" y1="573.4" x2="112.5" y2="589.1" stroke="#1d3a6f" stroke-width="0.5" opacity="0.5"/>
<circle cx="71.0" cy="568.5" r="0.55" fill="#b01030"/>
<circle cx="112.5" cy="506.8" r="0.55" fill="#1d3a6f"/>
<circle cx="71.0" cy="587.3" r="0.55" fill="#b01030"/>
<circle cx="112.5" cy="573.4" r="0.55" fill="#1d3a6f"/>
<circle cx="71.0" cy="590" r="0.55" fill="#b01030"/>
<circle cx="112.5" cy="578" r="0.55" fill="#1d3a6f"/>
<circle cx="71.0" cy="592" r="0.55" fill="#b01030"/>
<circle cx="112.5" cy="589" r="0.55" fill="#1d3a6f"/>
<circle cx="71.0" cy="595" r="0.55" fill="#b01030"/>
<circle cx="112.5" cy="589.1" r="0.55" fill="#1d3a6f"/>
<circle cx="71.0" cy="598" r="0.55" fill="#b01030"/>
<circle cx="112.5" cy="592" r="0.55" fill="#1d3a6f"/>
<circle cx="71.0" cy="601" r="0.55" fill="#b01030"/>
<circle cx="112.5" cy="595" r="0.55" fill="#1d3a6f"/>
<circle cx="71.0" cy="606.3" r="0.55" fill="#b01030"/>
<circle cx="112.5" cy="600.5" r="0.55" fill="#1d3a6f"/>
<text x="80.2" y="509.2" font-size="6.2" fill="#333" textLength="23.6" lengthAdjust="spacingAndGlyphs"><tspan font-style="italic">P</tspan> = .049</text>
<line x1="163.2" y1="503.2" x2="163.2" y2="611.0999999999999" stroke="#222" stroke-width="0.9"/>
<line x1="162.89999999999998" y1="610.8" x2="249.7" y2="610.8" stroke="#222" stroke-width="0.9"/>
<line x1="161.0" y1="520.5" x2="163.2" y2="520.5" stroke="#222" stroke-width="0.7"/>
<text x="157.29999999999998" y="522.6" font-size="6" text-anchor="end" fill="#333" font-weight="normal">40</text>
<line x1="161.0" y1="542.7" x2="163.2" y2="542.7" stroke="#222" stroke-width="0.7"/>
<text x="157.29999999999998" y="544.8000000000001" font-size="6" text-anchor="end" fill="#333" font-weight="normal">30</text>
<line x1="161.0" y1="564.6" x2="163.2" y2="564.6" stroke="#222" stroke-width="0.7"/>
<text x="157.29999999999998" y="566.7" font-size="6" text-anchor="end" fill="#333" font-weight="normal">20</text>
<line x1="161.0" y1="586.8" x2="163.2" y2="586.8" stroke="#222" stroke-width="0.7"/>
<text x="157.29999999999998" y="588.9" font-size="6" text-anchor="end" fill="#333" font-weight="normal">10</text>
<line x1="161.0" y1="609" x2="163.2" y2="609" stroke="#222" stroke-width="0.7"/>
<text x="157.29999999999998" y="611.1" font-size="6" text-anchor="end" fill="#333" font-weight="normal">0</text>
<line x1="190.0" y1="610.8" x2="190.0" y2="613.4" stroke="#222" stroke-width="0.7"/>
<text x="190.0" y="621.9" font-size="5.9" text-anchor="middle" fill="#333" font-weight="normal">Pre</text>
<line x1="234.6" y1="610.8" x2="234.6" y2="613.4" stroke="#222" stroke-width="0.7"/>
<text x="234.6" y="621.9" font-size="5.9" text-anchor="middle" fill="#333" font-weight="normal">Post</text>
<text x="143.9" y="556.7" font-size="7.2" text-anchor="middle" fill="#222" font-weight="normal" transform="rotate(-90 143.9 556.7)" textLength="55.3" lengthAdjust="spacingAndGlyphs" stroke="#222" stroke-width="0.25">CD4 Tregs:CD4 T cells</text>
<rect x="179.2" y="589.1" width="21.8" height="11.399999999999977" fill="#e8877b" stroke="none" stroke-width="0"/>
<rect x="223.9" y="574.9" width="21.8" height="16.800000000000068" fill="#8d99c7" stroke="none" stroke-width="0"/>
<line x1="190.1" y1="580.4" x2="234.8" y2="551.1" stroke="#c4c4c4" stroke-width="0.5" opacity="0.85"/>
<line x1="190.1" y1="583" x2="234.8" y2="507.7" stroke="#c4c4c4" stroke-width="0.5" opacity="0.85"/>
<line x1="190.1" y1="580.4" x2="234.8" y2="590" stroke="#c4c4c4" stroke-width="0.5" opacity="0.85"/>
<line x1="190.1" y1="589.1" x2="234.8" y2="583" stroke="#c4c4c4" stroke-width="0.5" opacity="0.85"/>
<line x1="190.1" y1="592" x2="234.8" y2="587" stroke="#c4c4c4" stroke-width="0.5" opacity="0.85"/>
<line x1="190.1" y1="596" x2="234.8" y2="591.7" stroke="#c4c4c4" stroke-width="0.5" opacity="0.85"/>
<line x1="190.1" y1="600.5" x2="234.8" y2="594" stroke="#c4c4c4" stroke-width="0.5" opacity="0.85"/>
<line x1="190.1" y1="606.3" x2="234.8" y2="598.6" stroke="#c4c4c4" stroke-width="0.5" opacity="0.85"/>
<line x1="190.1" y1="580.4" x2="190.1" y2="589.1" stroke="#b3142c" stroke-width="0.8"/>
<line x1="190.1" y1="600.5" x2="190.1" y2="606.3" stroke="#b3142c" stroke-width="0.8"/>
<line x1="190.1" y1="589.1" x2="190.1" y2="600.5" stroke="#b3142c" stroke-width="0.5" opacity="0.5"/>
<line x1="234.8" y1="551.1" x2="234.8" y2="574.9" stroke="#1d3a6f" stroke-width="0.8"/>
<line x1="234.8" y1="591.7" x2="234.8" y2="598.6" stroke="#1d3a6f" stroke-width="0.8"/>
<line x1="234.8" y1="574.9" x2="234.8" y2="591.7" stroke="#1d3a6f" stroke-width="0.5" opacity="0.5"/>
<circle cx="190.1" cy="580.4" r="0.55" fill="#b01030"/>
<circle cx="234.8" cy="551.1" r="0.55" fill="#1d3a6f"/>
<circle cx="190.1" cy="583" r="0.55" fill="#b01030"/>
<circle cx="234.8" cy="507.7" r="0.55" fill="#1d3a6f"/>
<circle cx="190.1" cy="580.4" r="0.55" fill="#b01030"/>
<circle cx="234.8" cy="590" r="0.55" fill="#1d3a6f"/>
<circle cx="190.1" cy="589.1" r="0.55" fill="#b01030"/>
<circle cx="234.8" cy="583" r="0.55" fill="#1d3a6f"/>
<circle cx="190.1" cy="592" r="0.55" fill="#b01030"/>
<circle cx="234.8" cy="587" r="0.55" fill="#1d3a6f"/>
<circle cx="190.1" cy="596" r="0.55" fill="#b01030"/>
<circle cx="234.8" cy="591.7" r="0.55" fill="#1d3a6f"/>
<circle cx="190.1" cy="600.5" r="0.55" fill="#b01030"/>
<circle cx="234.8" cy="594" r="0.55" fill="#1d3a6f"/>
<circle cx="190.1" cy="606.3" r="0.55" fill="#b01030"/>
<circle cx="234.8" cy="598.6" r="0.55" fill="#1d3a6f"/>
<text x="200.7" y="508.8" font-size="6.2" fill="#333" textLength="23" lengthAdjust="spacingAndGlyphs"><tspan font-style="italic">P</tspan> = .032</text>
<line x1="282.5" y1="504" x2="282.5" y2="611.0999999999999" stroke="#222" stroke-width="0.9"/>
<line x1="282.2" y1="610.8" x2="370.5" y2="610.8" stroke="#222" stroke-width="0.9"/>
<line x1="280.3" y1="520.5" x2="282.5" y2="520.5" stroke="#222" stroke-width="0.7"/>
<text x="276.6" y="522.6" font-size="6" text-anchor="end" fill="#333" font-weight="normal">5</text>
<line x1="280.3" y1="539.2" x2="282.5" y2="539.2" stroke="#222" stroke-width="0.7"/>
<text x="276.6" y="541.3000000000001" font-size="6" text-anchor="end" fill="#333" font-weight="normal">4</text>
<line x1="280.3" y1="558" x2="282.5" y2="558" stroke="#222" stroke-width="0.7"/>
<text x="276.6" y="560.1" font-size="6" text-anchor="end" fill="#333" font-weight="normal">3</text>
<line x1="280.3" y1="576.7" x2="282.5" y2="576.7" stroke="#222" stroke-width="0.7"/>
<text x="276.6" y="578.8000000000001" font-size="6" text-anchor="end" fill="#333" font-weight="normal">2</text>
<line x1="280.3" y1="595.5" x2="282.5" y2="595.5" stroke="#222" stroke-width="0.7"/>
<text x="276.6" y="597.6" font-size="6" text-anchor="end" fill="#333" font-weight="normal">1</text>
<line x1="311.0" y1="610.8" x2="311.0" y2="613.4" stroke="#222" stroke-width="0.7"/>
<text x="311.0" y="621.9" font-size="5.9" text-anchor="middle" fill="#333" font-weight="normal">Pre</text>
<line x1="357.1" y1="610.8" x2="357.1" y2="613.4" stroke="#222" stroke-width="0.7"/>
<text x="357.1" y="621.9" font-size="5.9" text-anchor="middle" fill="#333" font-weight="normal">Post</text>
<text x="267.8" y="556.5" font-size="7.2" text-anchor="middle" fill="#222" font-weight="normal" transform="rotate(-90 267.8 556.5)" textLength="55.6" lengthAdjust="spacingAndGlyphs" stroke="#222" stroke-width="0.25">CD4 Tregs:CD8 T cells</text>
<rect x="299.59999999999997" y="588.2" width="22.6" height="15.399999999999977" fill="#e8877b" stroke="none" stroke-width="0"/>
<rect x="345.8" y="545.7" width="22.6" height="46.19999999999993" fill="#8d99c7" stroke="none" stroke-width="0"/>
<line x1="310.9" y1="570" x2="357.1" y2="558" stroke="#c4c4c4" stroke-width="0.5" opacity="0.85"/>
<line x1="310.9" y1="588.2" x2="357.1" y2="506.4" stroke="#c4c4c4" stroke-width="0.5" opacity="0.85"/>
<line x1="310.9" y1="590" x2="357.1" y2="524.7" stroke="#c4c4c4" stroke-width="0.5" opacity="0.85"/>
<line x1="310.9" y1="557.7" x2="357.1" y2="557.7" stroke="#c4c4c4" stroke-width="0.5" opacity="0.85"/>
<line x1="310.9" y1="593" x2="357.1" y2="552" stroke="#c4c4c4" stroke-width="0.5" opacity="0.85"/>
<line x1="310.9" y1="597" x2="357.1" y2="585.8" stroke="#c4c4c4" stroke-width="0.5" opacity="0.85"/>
<line x1="310.9" y1="600" x2="357.1" y2="590.8" stroke="#c4c4c4" stroke-width="0.5" opacity="0.85"/>
<line x1="310.9" y1="603.6" x2="357.1" y2="595" stroke="#c4c4c4" stroke-width="0.5" opacity="0.85"/>
<line x1="310.9" y1="606.3" x2="357.1" y2="596.8" stroke="#c4c4c4" stroke-width="0.5" opacity="0.85"/>
<line x1="310.9" y1="570" x2="310.9" y2="588.2" stroke="#b3142c" stroke-width="0.8"/>
<line x1="310.9" y1="603.6" x2="310.9" y2="606.3" stroke="#b3142c" stroke-width="0.8"/>
<line x1="310.9" y1="588.2" x2="310.9" y2="603.6" stroke="#b3142c" stroke-width="0.5" opacity="0.5"/>
<line x1="357.1" y1="506.4" x2="357.1" y2="545.7" stroke="#1d3a6f" stroke-width="0.8"/>
<line x1="357.1" y1="591.9" x2="357.1" y2="597.7" stroke="#1d3a6f" stroke-width="0.8"/>
<line x1="357.1" y1="545.7" x2="357.1" y2="591.9" stroke="#1d3a6f" stroke-width="0.5" opacity="0.5"/>
<circle cx="310.9" cy="570" r="0.55" fill="#b01030"/>
<circle cx="357.1" cy="558" r="0.55" fill="#1d3a6f"/>
<circle cx="310.9" cy="588.2" r="0.55" fill="#b01030"/>
<circle cx="357.1" cy="506.4" r="0.55" fill="#1d3a6f"/>
<circle cx="310.9" cy="590" r="0.55" fill="#b01030"/>
<circle cx="357.1" cy="524.7" r="0.55" fill="#1d3a6f"/>
<circle cx="310.9" cy="557.7" r="0.55" fill="#b01030"/>
<circle cx="357.1" cy="557.7" r="0.55" fill="#1d3a6f"/>
<circle cx="310.9" cy="593" r="0.55" fill="#b01030"/>
<circle cx="357.1" cy="552" r="0.55" fill="#1d3a6f"/>
<circle cx="310.9" cy="597" r="0.55" fill="#b01030"/>
<circle cx="357.1" cy="585.8" r="0.55" fill="#1d3a6f"/>
<circle cx="310.9" cy="600" r="0.55" fill="#b01030"/>
<circle cx="357.1" cy="590.8" r="0.55" fill="#1d3a6f"/>
<circle cx="310.9" cy="603.6" r="0.55" fill="#b01030"/>
<circle cx="357.1" cy="595" r="0.55" fill="#1d3a6f"/>
<circle cx="310.9" cy="606.3" r="0.55" fill="#b01030"/>
<circle cx="357.1" cy="596.8" r="0.55" fill="#1d3a6f"/>
<text x="322.6" y="508.8" font-size="6.2" fill="#333" textLength="23" lengthAdjust="spacingAndGlyphs"><tspan font-style="italic">P</tspan> = .042</text>
<text x="386.0" y="484.0" font-size="10.5" text-anchor="start" fill="#0a0a0a" font-weight="bold">J</text>
<text x="415.7" y="502.7" font-size="7.8" text-anchor="start" fill="#222" font-weight="normal" textLength="15.0" lengthAdjust="spacingAndGlyphs">Skin</text>
<line x1="415.4" y1="508.6" x2="415.4" y2="610.6999999999999" stroke="#222" stroke-width="0.9"/>
<line x1="415.09999999999997" y1="610.4" x2="499.2" y2="610.4" stroke="#222" stroke-width="0.9"/>
<line x1="413.2" y1="531.5" x2="415.4" y2="531.5" stroke="#222" stroke-width="0.7"/>
<text x="409.5" y="533.6" font-size="6" text-anchor="end" fill="#333" font-weight="normal">1.5</text>
<line x1="413.2" y1="558.1" x2="415.4" y2="558.1" stroke="#222" stroke-width="0.7"/>
<text x="409.5" y="560.2" font-size="6" text-anchor="end" fill="#333" font-weight="normal">1.0</text>
<line x1="413.2" y1="584.8" x2="415.4" y2="584.8" stroke="#222" stroke-width="0.7"/>
<text x="409.5" y="586.9" font-size="6" text-anchor="end" fill="#333" font-weight="normal">0.5</text>
<line x1="442.0" y1="610.4" x2="442.0" y2="613.0" stroke="#222" stroke-width="0.7"/>
<text x="442.0" y="621.5" font-size="5.9" text-anchor="middle" fill="#333" font-weight="normal">Pre</text>
<line x1="486.0" y1="610.4" x2="486.0" y2="613.0" stroke="#222" stroke-width="0.7"/>
<text x="486.0" y="621.5" font-size="5.9" text-anchor="middle" fill="#333" font-weight="normal">Post</text>
<text x="395.2" y="559.5" font-size="7.2" text-anchor="middle" fill="#222" font-weight="normal" transform="rotate(-90 395.2 559.5)" textLength="39.3" lengthAdjust="spacingAndGlyphs" stroke="#222" stroke-width="0.25">CD4 Tregs/μm<tspan dy="-2.5" font-size="4.5">2</tspan></text>
<rect x="431.0" y="584.4" width="21.8" height="6.899999999999977" fill="#e8877b" stroke="none" stroke-width="0"/>
<rect x="474.5" y="586.8" width="21.8" height="9.600000000000023" fill="#8d99c7" stroke="none" stroke-width="0"/>
<line x1="441.9" y1="512.4" x2="485.4" y2="583.1" stroke="#c4c4c4" stroke-width="0.5" opacity="0.85"/>
<line x1="441.9" y1="564.3" x2="485.4" y2="604.5" stroke="#c4c4c4" stroke-width="0.5" opacity="0.85"/>
<line x1="441.9" y1="569.4" x2="485.4" y2="573" stroke="#c4c4c4" stroke-width="0.5" opacity="0.85"/>
<line x1="441.9" y1="584" x2="485.4" y2="570.3" stroke="#c4c4c4" stroke-width="0.5" opacity="0.85"/>
<line x1="441.9" y1="586" x2="485.4" y2="590" stroke="#c4c4c4" stroke-width="0.5" opacity="0.85"/>
<line x1="441.9" y1="588" x2="485.4" y2="586.8" stroke="#c4c4c4" stroke-width="0.5" opacity="0.85"/>
<line x1="441.9" y1="589.5" x2="485.4" y2="596.4" stroke="#c4c4c4" stroke-width="0.5" opacity="0.85"/>
<line x1="441.9" y1="591.3" x2="485.4" y2="588" stroke="#c4c4c4" stroke-width="0.5" opacity="0.85"/>
<line x1="441.9" y1="594.6" x2="485.4" y2="600" stroke="#c4c4c4" stroke-width="0.5" opacity="0.85"/>
<line x1="441.9" y1="603.2" x2="485.4" y2="593" stroke="#c4c4c4" stroke-width="0.5" opacity="0.85"/>
<line x1="441.9" y1="605.9" x2="485.4" y2="598" stroke="#c4c4c4" stroke-width="0.5" opacity="0.85"/>
<line x1="485.4" y1="570.3" x2="485.4" y2="586.8" stroke="#1d3a6f" stroke-width="0.8"/>
<line x1="485.4" y1="596.4" x2="485.4" y2="604.5" stroke="#1d3a6f" stroke-width="0.8"/>
<line x1="485.4" y1="586.8" x2="485.4" y2="596.4" stroke="#1d3a6f" stroke-width="0.5" opacity="0.5"/>
<circle cx="441.9" cy="512.4" r="0.55" fill="#b01030"/>
<circle cx="485.4" cy="583.1" r="0.55" fill="#1d3a6f"/>
<circle cx="441.9" cy="564.3" r="0.55" fill="#b01030"/>
<circle cx="485.4" cy="604.5" r="0.55" fill="#1d3a6f"/>
<circle cx="441.9" cy="569.4" r="0.55" fill="#b01030"/>
<circle cx="485.4" cy="573" r="0.55" fill="#1d3a6f"/>
<circle cx="441.9" cy="584" r="0.55" fill="#b01030"/>
<circle cx="485.4" cy="570.3" r="0.55" fill="#1d3a6f"/>
<circle cx="441.9" cy="586" r="0.55" fill="#b01030"/>
<circle cx="485.4" cy="590" r="0.55" fill="#1d3a6f"/>
<circle cx="441.9" cy="588" r="0.55" fill="#b01030"/>
<circle cx="485.4" cy="586.8" r="0.55" fill="#1d3a6f"/>
<circle cx="441.9" cy="589.5" r="0.55" fill="#b01030"/>
<circle cx="485.4" cy="596.4" r="0.55" fill="#1d3a6f"/>
<circle cx="441.9" cy="591.3" r="0.55" fill="#b01030"/>
<circle cx="485.4" cy="588" r="0.55" fill="#1d3a6f"/>
<circle cx="441.9" cy="594.6" r="0.55" fill="#b01030"/>
<circle cx="485.4" cy="600" r="0.55" fill="#1d3a6f"/>
<circle cx="441.9" cy="603.2" r="0.55" fill="#b01030"/>
<circle cx="485.4" cy="593" r="0.55" fill="#1d3a6f"/>
<circle cx="441.9" cy="605.9" r="0.55" fill="#b01030"/>
<circle cx="485.4" cy="598" r="0.55" fill="#1d3a6f"/>
<text x="452.2" y="512.8" font-size="6.2" fill="#333" textLength="23.4" lengthAdjust="spacingAndGlyphs"><tspan font-style="italic">P</tspan> = .268</text>
<text x="131.3" y="162.9" font-size="10.5" text-anchor="start" fill="#0a0a0a" font-weight="bold">D</text>
<text x="205.8" y="182.9" font-size="8" text-anchor="middle" fill="#222" font-weight="normal" textLength="79" lengthAdjust="spacingAndGlyphs">Gated on lymphocytes</text>
<text x="343.3" y="182.9" font-size="8" text-anchor="middle" fill="#222" font-weight="normal" textLength="76" lengthAdjust="spacingAndGlyphs">Gated on CD4 T cells</text>
<path d="M184.4 208.3h0.7M184.8 206.2h0.7M175.0 206.4h0.7M203.6 208.1h0.7M202.5 207.6h0.7M193.5 207.5h0.7M164.7 209.2h0.7M195.1 208.3h0.7M164.3 202.5h0.7M175.5 205.8h0.7M192.3 206.9h0.7M195.3 205.3h0.7M192.3 208.0h0.7M178.7 211.5h0.7M195.8 210.1h0.7M179.3 205.1h0.7M183.2 206.7h0.7M196.8 207.6h0.7M181.7 204.5h0.7M180.7 210.2h0.7M176.7 207.6h0.7M194.0 203.1h0.7M188.7 210.4h0.7M186.5 204.9h0.7M195.0 206.8h0.7M167.5 209.2h0.7M197.4 209.5h0.7M208.2 207.9h0.7M189.7 203.6h0.7M196.6 205.4h0.7M181.7 203.7h0.7M174.5 205.6h0.7M206.0 201.7h0.7M167.6 207.6h0.7M208.2 208.5h0.7M161.4 200.5h0.7M193.0 205.1h0.7M172.3 209.5h0.7M203.4 207.4h0.7M191.4 208.1h0.7M210.3 208.6h0.7M195.3 208.4h0.7M166.0 210.3h0.7M201.4 208.4h0.7M160.4 205.4h0.7M199.8 202.3h0.7M185.4 209.7h0.7M169.6 211.2h0.7M195.7 206.6h0.7M192.5 208.7h0.7M189.7 210.0h0.7M178.7 205.9h0.7M202.6 207.1h0.7M175.7 209.5h0.7M208.5 205.8h0.7M168.7 206.6h0.7M185.9 206.2h0.7M207.7 204.3h0.7M205.6 203.7h0.7M177.0 208.6h0.7M203.8 209.2h0.7M192.8 207.4h0.7M190.1 208.5h0.7M185.5 207.7h0.7M196.0 207.0h0.7M198.7 208.5h0.7M216.1 207.8h0.7M182.0 206.0h0.7M187.8 209.4h0.7M183.3 208.0h0.7M213.7 200.3h0.7M172.3 207.6h0.7M193.6 207.6h0.7M182.0 208.7h0.7M191.9 205.6h0.7M222.0 207.9h0.7M180.2 206.7h0.7M184.8 206.8h0.7M202.1 204.0h0.7M187.1 209.5h0.7M200.0 210.9h0.7M164.2 206.1h0.7M183.2 208.6h0.7M203.3 200.0h0.7M203.2 203.2h0.7M197.6 203.1h0.7M190.5 210.1h0.7M185.9 207.5h0.7M199.2 207.4h0.7M186.8 211.0h0.7M202.7 206.2h0.7M226.4 204.0h0.7M200.8 206.3h0.7M189.9 208.8h0.7M191.1 208.7h0.7M166.6 203.1h0.7M196.6 204.5h0.7M173.6 203.2h0.7M205.7 208.9h0.7M208.6 204.6h0.7M188.0 204.0h0.7M198.7 211.1h0.7M175.5 211.1h0.7M201.8 206.5h0.7M160.4 210.7h0.7M186.7 205.4h0.7M193.6 208.1h0.7M209.0 204.3h0.7M203.9 210.9h0.7M208.3 206.5h0.7M177.6 209.6h0.7M189.6 207.3h0.7M207.9 206.3h0.7M162.0 209.1h0.7M192.4 205.4h0.7M187.9 209.2h0.7M189.1 210.4h0.7M187.1 209.7h0.7M208.9 211.2h0.7M178.6 209.3h0.7M161.7 204.2h0.7M160.5 209.8h0.7M170.8 207.0h0.7M185.3 206.9h0.7M179.7 207.6h0.7M213.1 207.1h0.7M195.4 209.6h0.7M185.2 203.7h0.7M180.2 209.8h0.7M165.0 205.4h0.7M202.1 209.1h0.7M188.1 209.1h0.7M190.3 203.9h0.7M166.1 205.3h0.7M200.9 205.5h0.7M175.4 205.0h0.7M166.6 206.7h0.7M171.5 207.9h0.7M179.0 202.0h0.7M198.1 206.3h0.7M192.1 205.8h0.7M198.9 208.9h0.7M197.3 207.8h0.7M206.7 208.7h0.7M194.3 201.6h0.7M200.6 210.4h0.7M183.8 205.8h0.7M215.2 202.4h0.7M194.6 213.3h0.7M175.0 208.8h0.7M214.4 206.7h0.7M195.9 209.3h0.7M175.3 206.8h0.7M192.1 209.1h0.7M187.5 206.5h0.7M173.8 206.1h0.7M200.5 207.3h0.7M176.1 204.8h0.7M225.3 210.0h0.7M196.9 200.3h0.7M196.7 208.2h0.7M211.6 208.1h0.7M187.1 208.4h0.7M160.8 209.7h0.7M192.5 205.2h0.7" stroke="#b8bcd0" stroke-width="0.7" opacity="0.6"/>
<path d="M217.9 270.1h0.8M177.0 245.3h0.8M202.4 253.8h0.8M192.0 242.3h0.8M229.8 262.4h0.8M180.1 238.5h0.8M223.5 261.9h0.8M225.3 260.1h0.8M184.9 254.6h0.8M165.6 244.5h0.8M197.1 257.2h0.8M187.1 250.8h0.8M204.9 255.8h0.8M207.6 254.1h0.8M193.1 259.9h0.8M198.7 243.7h0.8M188.6 252.0h0.8M196.4 253.6h0.8M198.0 253.8h0.8M196.0 239.4h0.8M204.3 262.5h0.8M204.5 250.1h0.8M204.7 242.3h0.8M169.6 252.6h0.8M184.0 259.4h0.8M181.7 225.7h0.8M182.4 267.8h0.8M192.3 238.3h0.8M186.5 257.2h0.8M205.5 253.8h0.8M220.3 259.1h0.8M197.7 258.0h0.8M222.8 261.7h0.8M213.4 241.2h0.8M195.8 259.3h0.8M193.6 262.7h0.8M206.9 261.1h0.8M194.8 277.5h0.8M216.6 249.8h0.8M199.4 278.0h0.8M192.9 260.7h0.8M212.7 252.1h0.8M180.5 253.9h0.8M203.4 263.3h0.8M209.7 252.2h0.8M210.8 257.4h0.8M201.1 252.6h0.8M194.3 258.9h0.8M182.2 245.7h0.8M198.1 237.4h0.8M191.5 231.9h0.8M187.8 257.7h0.8M206.5 251.5h0.8M194.5 237.8h0.8M225.4 257.2h0.8M214.4 243.2h0.8M195.2 233.8h0.8M209.7 261.4h0.8M169.5 251.5h0.8M207.5 234.4h0.8M170.6 241.3h0.8M188.6 238.0h0.8M198.5 254.5h0.8M207.5 259.0h0.8M220.5 263.6h0.8M178.3 246.9h0.8M182.1 241.2h0.8M196.8 252.1h0.8M205.4 236.1h0.8M179.4 251.8h0.8M195.0 248.9h0.8M197.1 244.4h0.8M208.5 255.5h0.8M196.7 245.3h0.8M195.4 224.8h0.8M183.3 252.4h0.8M175.4 254.0h0.8M200.2 238.2h0.8M194.2 248.9h0.8M204.9 258.1h0.8M197.5 243.5h0.8M195.8 251.3h0.8M209.0 254.9h0.8M187.2 238.5h0.8M192.4 244.6h0.8M181.3 250.8h0.8M190.6 253.1h0.8M205.8 247.9h0.8M232.9 248.8h0.8M214.5 253.2h0.8M214.7 228.2h0.8M186.7 254.5h0.8M207.0 275.4h0.8M202.8 264.8h0.8M209.5 261.5h0.8M205.7 250.4h0.8M205.6 241.2h0.8M215.7 241.8h0.8M201.7 273.2h0.8M194.6 252.2h0.8M215.4 252.3h0.8M185.9 254.6h0.8M206.7 259.1h0.8M186.4 269.5h0.8M223.0 252.2h0.8M202.0 247.7h0.8M219.2 245.0h0.8M208.1 247.2h0.8M187.6 259.2h0.8M218.0 251.9h0.8M187.8 260.1h0.8M197.3 255.1h0.8M220.8 263.3h0.8M190.2 274.8h0.8M198.1 259.9h0.8M188.3 251.6h0.8M171.8 269.9h0.8M218.5 239.8h0.8M175.4 235.8h0.8M215.6 247.4h0.8M197.1 248.9h0.8M196.2 241.1h0.8M198.4 237.6h0.8M196.9 255.1h0.8M205.0 249.7h0.8M184.4 253.6h0.8M190.7 267.7h0.8M209.5 250.8h0.8M190.9 245.0h0.8M183.9 248.5h0.8M202.4 257.2h0.8M206.5 273.0h0.8M187.4 252.1h0.8M239.9 233.3h0.8M190.2 253.7h0.8M200.3 256.1h0.8M194.4 255.7h0.8M198.8 259.7h0.8M169.6 243.1h0.8M198.0 241.7h0.8M182.3 258.3h0.8M188.3 258.3h0.8M209.2 255.1h0.8M205.6 251.0h0.8M176.9 251.7h0.8M204.8 246.7h0.8M196.5 259.5h0.8M184.8 258.4h0.8M225.9 246.5h0.8M200.2 250.5h0.8M221.1 255.2h0.8M211.5 245.1h0.8M197.8 251.9h0.8M171.4 266.4h0.8M211.5 234.5h0.8M209.2 250.7h0.8M204.7 255.7h0.8M175.5 249.9h0.8M220.4 246.3h0.8M182.7 238.4h0.8M179.7 255.4h0.8M223.4 256.3h0.8M201.7 274.3h0.8M190.2 245.3h0.8M205.9 257.5h0.8M182.8 240.3h0.8M202.4 254.5h0.8M178.4 250.0h0.8M189.9 256.6h0.8M196.2 251.1h0.8M192.7 262.5h0.8M218.9 248.3h0.8M210.7 244.4h0.8M199.1 259.5h0.8M220.7 248.2h0.8M196.9 254.0h0.8M175.5 252.2h0.8M187.9 255.7h0.8M181.1 232.2h0.8M198.6 254.6h0.8M189.8 260.9h0.8M193.9 245.9h0.8M205.2 236.3h0.8M187.8 251.8h0.8M210.7 250.4h0.8M202.6 245.4h0.8M202.5 268.6h0.8M187.7 275.7h0.8M188.3 252.2h0.8M200.6 262.2h0.8M179.4 231.0h0.8M207.1 260.0h0.8M207.4 278.3h0.8M201.1 254.5h0.8M211.9 255.7h0.8M223.0 239.6h0.8M192.4 217.6h0.8M210.2 248.3h0.8M211.9 273.5h0.8M197.9 249.5h0.8M190.5 243.6h0.8M188.5 258.4h0.8M198.6 252.7h0.8M195.4 261.1h0.8M205.4 250.6h0.8M208.0 250.5h0.8M180.7 266.6h0.8M205.0 242.4h0.8M214.2 255.4h0.8M174.5 268.1h0.8M203.0 260.9h0.8M201.0 250.5h0.8M174.8 261.7h0.8M198.5 249.1h0.8M203.3 252.8h0.8M208.1 248.3h0.8M197.5 230.6h0.8M191.7 258.8h0.8M218.1 248.4h0.8M196.2 267.8h0.8M193.1 259.3h0.8M223.2 252.4h0.8M216.4 244.9h0.8M201.1 251.2h0.8M199.7 263.3h0.8M233.8 245.3h0.8M189.4 257.0h0.8M182.2 257.0h0.8M206.6 249.2h0.8M206.0 236.5h0.8M209.4 236.6h0.8M187.6 246.4h0.8M192.0 260.6h0.8M199.2 248.0h0.8M206.2 267.8h0.8M198.1 255.7h0.8M216.6 254.7h0.8M178.7 276.9h0.8M231.1 232.2h0.8M197.4 256.2h0.8M212.5 258.7h0.8M193.9 241.5h0.8M199.5 262.3h0.8M181.7 241.7h0.8M197.6 232.6h0.8M194.1 247.6h0.8M204.8 245.0h0.8M184.8 248.1h0.8M197.3 245.4h0.8M198.2 259.5h0.8M215.8 269.0h0.8M186.2 247.8h0.8M160.8 271.0h0.8M187.1 251.7h0.8M205.8 238.4h0.8M205.0 251.7h0.8M170.6 254.9h0.8M215.9 233.3h0.8M210.1 254.1h0.8M205.1 256.4h0.8M217.6 249.8h0.8M211.1 247.9h0.8M208.9 243.9h0.8M196.4 269.3h0.8M204.7 250.4h0.8M180.8 244.1h0.8M200.9 261.4h0.8M204.4 257.2h0.8M197.4 265.5h0.8M192.1 246.5h0.8M211.3 252.6h0.8M193.8 246.2h0.8M194.1 258.2h0.8M203.3 239.9h0.8M204.4 253.8h0.8M183.0 259.7h0.8M193.8 248.6h0.8M209.9 265.2h0.8M187.7 256.4h0.8M184.9 275.1h0.8M190.6 263.9h0.8M188.3 260.1h0.8M231.3 226.6h0.8M191.5 257.0h0.8M196.6 245.3h0.8M230.3 252.8h0.8M173.3 260.5h0.8M172.2 263.5h0.8M189.3 253.4h0.8M216.9 253.2h0.8M177.1 235.0h0.8M215.7 259.4h0.8M185.8 260.6h0.8M205.4 258.5h0.8M164.1 249.0h0.8M211.5 259.3h0.8M211.2 227.4h0.8M200.5 256.9h0.8M236.3 242.5h0.8M193.1 252.4h0.8M211.3 247.6h0.8M215.2 244.1h0.8M202.0 246.7h0.8M200.4 245.1h0.8M174.0 262.9h0.8M202.6 246.4h0.8M201.0 261.9h0.8M183.3 250.9h0.8M206.1 257.3h0.8M193.0 230.9h0.8M216.6 255.3h0.8M198.2 249.2h0.8M202.0 247.7h0.8M182.6 244.6h0.8M189.0 245.9h0.8M180.6 258.4h0.8M178.4 258.6h0.8M182.8 255.5h0.8M218.6 254.0h0.8M187.0 252.5h0.8M200.2 234.7h0.8M188.9 253.6h0.8M191.0 252.8h0.8M209.0 259.7h0.8M211.6 257.9h0.8M193.7 251.8h0.8M193.9 248.9h0.8M195.3 234.8h0.8M193.0 251.8h0.8M183.4 251.8h0.8M205.7 250.4h0.8M229.1 225.9h0.8M194.9 233.7h0.8M212.7 278.5h0.8M160.5 253.3h0.8M205.8 249.0h0.8M206.3 229.6h0.8M210.8 255.7h0.8M198.3 246.1h0.8M207.6 247.1h0.8M201.3 246.9h0.8M164.3 251.7h0.8M201.0 259.5h0.8M184.9 251.7h0.8M207.3 253.5h0.8M216.6 271.9h0.8M184.4 232.8h0.8M210.8 267.3h0.8M211.8 260.1h0.8M188.7 244.9h0.8M211.3 242.9h0.8M170.8 242.0h0.8M235.4 271.2h0.8M187.7 244.7h0.8M201.5 244.5h0.8M217.7 251.2h0.8M181.7 265.1h0.8M189.3 254.2h0.8M197.8 248.9h0.8M202.9 245.1h0.8M170.3 229.9h0.8M179.0 244.4h0.8M197.7 252.6h0.8M206.3 253.2h0.8M186.1 244.9h0.8M166.2 250.3h0.8M205.3 257.3h0.8M196.2 250.3h0.8M212.0 252.2h0.8M209.1 257.8h0.8M201.2 265.1h0.8M189.4 248.4h0.8M185.9 244.0h0.8M221.3 269.6h0.8M198.3 257.7h0.8M215.6 260.1h0.8M216.1 239.4h0.8M188.4 256.5h0.8M219.5 253.0h0.8M185.1 248.5h0.8M188.1 243.4h0.8M220.5 245.7h0.8M198.3 273.6h0.8M215.8 255.4h0.8M188.8 256.1h0.8M222.3 258.2h0.8M216.9 253.0h0.8M205.7 250.0h0.8M204.4 265.0h0.8M176.5 251.4h0.8M201.6 246.3h0.8M193.4 259.9h0.8M228.0 258.3h0.8M202.9 236.5h0.8M226.9 252.8h0.8M197.5 240.8h0.8M197.1 241.0h0.8M199.1 256.7h0.8M198.5 254.8h0.8M185.2 266.3h0.8M188.2 233.8h0.8M195.2 244.4h0.8M182.9 248.5h0.8M202.4 240.2h0.8M195.9 266.3h0.8M208.2 250.5h0.8M199.9 250.8h0.8M197.3 259.3h0.8M196.6 228.0h0.8M197.7 243.1h0.8M207.8 245.9h0.8M200.2 273.8h0.8M182.3 240.8h0.8M176.8 228.1h0.8M169.8 255.6h0.8M188.4 233.3h0.8M175.8 258.2h0.8M186.4 248.3h0.8M203.0 265.6h0.8M227.1 262.3h0.8M200.2 253.8h0.8M225.0 266.3h0.8M193.3 256.6h0.8M202.3 252.5h0.8M190.5 238.7h0.8M190.0 236.6h0.8M216.4 257.4h0.8M179.9 266.0h0.8M211.4 232.9h0.8M225.6 260.1h0.8M229.0 239.7h0.8M206.0 256.2h0.8M201.0 253.7h0.8M213.8 237.1h0.8M179.4 238.1h0.8M189.6 245.9h0.8M203.5 254.7h0.8M198.5 245.2h0.8M191.4 261.5h0.8M209.5 253.0h0.8M193.2 267.5h0.8M189.1 258.5h0.8M215.3 249.3h0.8M210.4 240.8h0.8M213.2 254.0h0.8M174.2 258.7h0.8M184.6 264.8h0.8M187.8 250.4h0.8M202.2 248.7h0.8M201.9 246.5h0.8M208.1 252.1h0.8M201.2 224.5h0.8M215.4 252.3h0.8M171.3 253.0h0.8M205.0 262.7h0.8M181.8 267.5h0.8M195.6 275.9h0.8M195.8 258.8h0.8M192.5 240.8h0.8M214.4 261.1h0.8M221.1 260.6h0.8M189.4 235.4h0.8M188.2 245.2h0.8M185.8 257.8h0.8M202.9 249.3h0.8M200.6 250.5h0.8M201.2 259.5h0.8M212.4 245.1h0.8M175.4 266.3h0.8M199.7 263.1h0.8M173.4 248.7h0.8M198.4 237.6h0.8M190.3 259.2h0.8M214.2 267.9h0.8M185.0 238.0h0.8M205.8 261.4h0.8M200.9 239.0h0.8M209.7 259.9h0.8M206.3 247.1h0.8M202.6 259.9h0.8M189.6 233.6h0.8M202.9 256.8h0.8M198.2 260.9h0.8M189.2 251.2h0.8M193.4 257.7h0.8M221.9 249.5h0.8M228.8 267.3h0.8M209.9 257.9h0.8M224.6 250.2h0.8M196.3 241.4h0.8M205.1 265.4h0.8M206.0 256.2h0.8M195.0 253.7h0.8M176.6 262.5h0.8M191.9 241.0h0.8M186.7 243.8h0.8M210.8 262.6h0.8M177.6 261.3h0.8M211.3 246.2h0.8M175.7 244.5h0.8M188.5 255.4h0.8M192.6 231.7h0.8M201.5 236.7h0.8M211.6 239.9h0.8M187.6 243.5h0.8M189.9 265.0h0.8M210.8 258.0h0.8M202.8 236.5h0.8M190.2 246.5h0.8M183.3 257.1h0.8M186.9 244.9h0.8M182.3 231.4h0.8M206.9 265.3h0.8M200.6 242.2h0.8M216.2 255.0h0.8M211.9 266.8h0.8M214.9 247.6h0.8M213.8 259.8h0.8M174.9 247.9h0.8M176.6 250.9h0.8M206.7 241.3h0.8M167.2 265.0h0.8M203.7 266.7h0.8M178.1 262.6h0.8M229.1 272.1h0.8M194.8 254.7h0.8M195.7 262.0h0.8M213.6 252.9h0.8M177.6 259.4h0.8M191.0 258.3h0.8M201.9 268.2h0.8M215.1 247.5h0.8M203.2 269.6h0.8M189.9 256.3h0.8M215.9 264.6h0.8M205.8 238.8h0.8M179.1 254.5h0.8M203.8 277.5h0.8M185.1 263.4h0.8M209.6 235.3h0.8M185.7 253.7h0.8M190.6 250.5h0.8M205.1 243.9h0.8M205.0 245.6h0.8M189.8 257.4h0.8M189.4 254.9h0.8M222.0 252.3h0.8M195.8 259.4h0.8M192.5 262.8h0.8M178.8 258.2h0.8M190.3 244.0h0.8M224.5 243.5h0.8M224.4 258.6h0.8M219.8 242.2h0.8M216.0 266.6h0.8M196.3 250.7h0.8M234.8 253.8h0.8M191.7 245.7h0.8M204.7 255.3h0.8M200.7 269.2h0.8M193.1 256.7h0.8M219.9 242.0h0.8M213.6 270.3h0.8M177.7 241.0h0.8M182.4 233.5h0.8M204.8 233.4h0.8M205.5 266.5h0.8M173.8 248.8h0.8M169.2 259.8h0.8M186.9 249.3h0.8M198.8 257.5h0.8M192.8 252.2h0.8M189.8 253.1h0.8M180.4 252.6h0.8M169.0 247.1h0.8M226.7 252.8h0.8M179.1 254.6h0.8M183.4 235.5h0.8M187.0 259.4h0.8M203.8 251.0h0.8M184.1 241.2h0.8M218.2 254.4h0.8M183.7 230.9h0.8M177.5 276.8h0.8M180.8 251.2h0.8M201.2 250.4h0.8M193.8 238.3h0.8M182.2 268.9h0.8M186.7 260.5h0.8M172.6 249.3h0.8M201.9 262.4h0.8M181.2 258.0h0.8M203.8 244.6h0.8M205.2 243.0h0.8M186.1 251.8h0.8M183.0 237.4h0.8M191.6 259.6h0.8M191.9 264.7h0.8" stroke="#4a60dc" stroke-width="0.8" opacity="0.7"/>
<g filter="url(#bl0_9)">
<ellipse cx="189" cy="254" rx="14.5" ry="13" transform="rotate(0 189 254)" fill="#2b3fd6" opacity="1"/>
<ellipse cx="194" cy="246" rx="10" ry="7" transform="rotate(0 194 246)" fill="#2b3fd6" opacity="1"/>
<ellipse cx="215.5" cy="241.5" rx="12" ry="7" transform="rotate(-40 215.5 241.5)" fill="#2b3fd6" opacity="1"/>
<ellipse cx="212.5" cy="259.7" rx="10.5" ry="10" transform="rotate(0 212.5 259.7)" fill="#2b3fd6" opacity="1"/>
<ellipse cx="204" cy="254" rx="6" ry="12" transform="rotate(0 204 254)" fill="#2b3fd6" opacity="1"/>
<ellipse cx="183" cy="259" rx="8" ry="9" transform="rotate(0 183 259)" fill="#2b3fd6" opacity="1"/>
<ellipse cx="194" cy="252.5" rx="9.5" ry="11" transform="rotate(0 194 252.5)" fill="#2ec4e6" opacity="1"/>
<ellipse cx="215" cy="242.8" rx="9" ry="5.3" transform="rotate(-40 215 242.8)" fill="#2ec4e6" opacity="1"/>
<ellipse cx="212.4" cy="259.7" rx="7" ry="6.8" transform="rotate(0 212.4 259.7)" fill="#2ec4e6" opacity="1"/>
<ellipse cx="196.5" cy="250" rx="7.5" ry="6.5" transform="rotate(-10 196.5 250)" fill="#4cc24a" opacity="1"/>
<ellipse cx="193" cy="258" rx="5.5" ry="4.5" transform="rotate(0 193 258)" fill="#4cc24a" opacity="1"/>
<ellipse cx="215.2" cy="242.6" rx="6.6" ry="4" transform="rotate(-40 215.2 242.6)" fill="#4cc24a" opacity="1"/>
<ellipse cx="212.4" cy="259.7" rx="5" ry="4.8" transform="rotate(0 212.4 259.7)" fill="#4cc24a" opacity="1"/>
<ellipse cx="197.8" cy="248.6" rx="5.8" ry="4.0" transform="rotate(-10 197.8 248.6)" fill="#f2e52a" opacity="1"/>
<ellipse cx="215.4" cy="242.5" rx="5.6" ry="3.0" transform="rotate(-40 215.4 242.5)" fill="#f2e52a" opacity="1"/>
<ellipse cx="212.4" cy="259.9" rx="3.0" ry="2.8" transform="rotate(0 212.4 259.9)" fill="#f2e52a" opacity="1"/>
<ellipse cx="198.2" cy="248.5" rx="4.4" ry="3.0" transform="rotate(-10 198.2 248.5)" fill="#f58a1e" opacity="1"/>
<ellipse cx="215.5" cy="242.5" rx="4.4" ry="2.3" transform="rotate(-40 215.5 242.5)" fill="#f58a1e" opacity="1"/>
<ellipse cx="212.4" cy="260" rx="1.4" ry="1.3" transform="rotate(0 212.4 260)" fill="#f58a1e" opacity="1"/>
<ellipse cx="198.5" cy="248.4" rx="3.2" ry="2.0" transform="rotate(-10 198.5 248.4)" fill="#e41f1a" opacity="1"/>
<ellipse cx="215.6" cy="242.5" rx="3.3" ry="1.6" transform="rotate(-40 215.6 242.5)" fill="#e41f1a" opacity="1"/>
</g>
<rect x="159.5" y="189" width="91.4" height="90.6" fill="none" stroke="#222" stroke-width="0.9"/>
<rect x="205.6" y="227.1" width="27.2" height="23.1" fill="none" stroke="#444" stroke-width="0.6"/>
<rect x="204.5" y="250.8" width="27.7" height="25.4" fill="none" stroke="#444" stroke-width="0.6"/>
<text x="220.0" y="224.2" font-size="6" text-anchor="middle" fill="#222" font-weight="normal">CD4 T</text>
<text x="233.3" y="267.6" font-size="6" text-anchor="start" fill="#222" font-weight="normal" textLength="17.4" lengthAdjust="spacingAndGlyphs">CD8 T</text>
<line x1="228.2" y1="239.3" x2="252.5" y2="239.3" stroke="#111" stroke-width="0.9"/>
<path d="M255.2 239.3 L251.4 237.3 L251.4 241.3 Z" fill="#111"/>
<line x1="156.7" y1="197.2" x2="159.5" y2="197.2" stroke="#222" stroke-width="0.8"/>
<line x1="156.7" y1="215.2" x2="159.5" y2="215.2" stroke="#222" stroke-width="0.8"/>
<line x1="156.7" y1="234.7" x2="159.5" y2="234.7" stroke="#222" stroke-width="0.8"/>
<line x1="156.7" y1="263.1" x2="159.5" y2="263.1" stroke="#222" stroke-width="0.8"/>
<path d="M157.8 209.8h1.7M157.8 206.6h1.7M157.8 204.4h1.7M157.8 202.6h1.7M157.8 201.2h1.7M157.8 200.0h1.7M157.8 198.9h1.7M157.8 198.0h1.7M157.8 228.8h1.7M157.8 225.4h1.7M157.8 223.0h1.7M157.8 221.1h1.7M157.8 219.5h1.7M157.8 218.2h1.7M157.8 217.1h1.7M157.8 216.1h1.7M157.8 244.0h1.7M157.8 250.0h1.7M157.8 254.0h1.7M157.8 257.0h1.7M157.8 259.5h1.7M157.8 261.0h1.7M157.8 262.0h1.7M157.8 264.2h1.7M157.8 265.5h1.7M157.8 268.0h1.7M157.8 272.0h1.7M157.8 276.0h1.7M157.8 270.0h1.7M157.8 190.5h1.7M157.8 192.0h1.7M157.8 193.5h1.7" stroke="#222" stroke-width="0.6"/>
<text x="144.2" y="200.9" font-size="6" fill="#333" text-anchor="start">10<tspan dy="-2.6" font-size="4.3">6</tspan></text>
<text x="144.2" y="219.0" font-size="6" fill="#333" text-anchor="start">10<tspan dy="-2.6" font-size="4.3">5</tspan></text>
<text x="144.2" y="237.7" font-size="6" fill="#333" text-anchor="start">10<tspan dy="-2.6" font-size="4.3">4</tspan></text>
<text x="149.8" y="264.4" font-size="6" text-anchor="end" fill="#333" font-weight="normal">0</text>
<text x="136.2" y="235" font-size="6.8" text-anchor="middle" fill="#222" font-weight="normal" transform="rotate(-90 136.2 235)" textLength="10" lengthAdjust="spacingAndGlyphs" stroke="#222" stroke-width="0.2">CD4</text>
<path d="M182.3 279.5v2.6M213.0 279.5v2.6M232.8 279.5v2.6M246.5 279.5v2.6" stroke="#222" stroke-width="0.8"/>
<path d="M219.0 279.5v1.8M222.4 279.5v1.8M224.9 279.5v1.8M226.8 279.5v1.8M228.4 279.5v1.8M229.7 279.5v1.8M230.9 279.5v1.8M231.9 279.5v1.8M236.9 279.5v1.8M239.3 279.5v1.8M241.0 279.5v1.8M242.4 279.5v1.8M243.5 279.5v1.8M244.4 279.5v1.8M245.2 279.5v1.8M245.9 279.5v1.8M163.0 279.5v1.8M166.0 279.5v1.8M169.0 279.5v1.8M172.0 279.5v1.8M175.0 279.5v1.8M177.0 279.5v1.8M179.0 279.5v1.8M180.5 279.5v1.8M184.0 279.5v1.8M185.5 279.5v1.8M187.0 279.5v1.8M190.0 279.5v1.8M193.0 279.5v1.8M196.0 279.5v1.8M200.0 279.5v1.8M204.0 279.5v1.8M208.0 279.5v1.8" stroke="#222" stroke-width="0.6"/>
<text x="182.3" y="291.2" font-size="6" text-anchor="middle" fill="#333" font-weight="normal">0</text>
<text x="208.4" y="291.2" font-size="6" fill="#333" text-anchor="start">10<tspan dy="-2.6" font-size="4.3">4</tspan></text>
<text x="228.2" y="291.2" font-size="6" fill="#333" text-anchor="start">10<tspan dy="-2.6" font-size="4.3">5</tspan></text>
<text x="241.5" y="291.2" font-size="6" fill="#333" text-anchor="start">10<tspan dy="-2.6" font-size="4.3">6</tspan></text>
<text x="205.4" y="302.6" font-size="6.8" text-anchor="middle" fill="#222" font-weight="normal" textLength="10" lengthAdjust="spacingAndGlyphs" stroke="#222" stroke-width="0.2">CD3</text>
<path d="M300.6 231.6h0.8M325.0 250.4h0.8M319.5 236.9h0.8M318.2 248.9h0.8M316.8 246.3h0.8M321.9 238.9h0.8M302.3 229.7h0.8M321.4 237.9h0.8M301.6 235.7h0.8M307.0 232.0h0.8M308.4 239.1h0.8M306.0 235.4h0.8M311.3 240.9h0.8M312.0 248.7h0.8M314.1 221.9h0.8M306.2 237.2h0.8M318.0 228.6h0.8M304.6 242.8h0.8M308.0 256.9h0.8M307.0 256.6h0.8M297.8 226.1h0.8M322.0 250.8h0.8M315.4 247.4h0.8M315.4 232.6h0.8M319.5 240.1h0.8M319.9 247.0h0.8M321.1 244.5h0.8M307.4 248.7h0.8M307.2 240.0h0.8M311.9 247.6h0.8M324.7 246.5h0.8M327.9 265.8h0.8M326.4 257.7h0.8M312.2 247.5h0.8M309.7 238.0h0.8M310.4 239.0h0.8M325.8 251.9h0.8M307.0 224.9h0.8M310.5 241.4h0.8M301.2 233.5h0.8M310.4 274.4h0.8M310.7 244.4h0.8M324.0 247.5h0.8M312.5 241.9h0.8M305.6 262.5h0.8M320.0 264.9h0.8M307.9 246.3h0.8M303.1 256.6h0.8M298.5 252.2h0.8M320.9 261.5h0.8M302.5 258.0h0.8M304.6 237.7h0.8M299.1 258.7h0.8M325.8 239.5h0.8M304.2 242.3h0.8M333.6 257.0h0.8M306.1 226.3h0.8M304.9 259.1h0.8M327.8 243.1h0.8M304.8 240.4h0.8M301.2 257.7h0.8M295.6 232.0h0.8M313.6 237.6h0.8M318.0 246.1h0.8M300.4 252.8h0.8M318.6 225.0h0.8M327.4 251.5h0.8M317.8 225.5h0.8M304.5 242.2h0.8M320.7 229.9h0.8M303.0 223.7h0.8M308.8 249.8h0.8M295.8 239.5h0.8M315.6 263.4h0.8M317.0 242.7h0.8M300.4 235.7h0.8M305.0 247.6h0.8M310.6 264.3h0.8M313.6 234.2h0.8M324.9 256.4h0.8M311.9 238.1h0.8M319.2 237.2h0.8M299.1 248.2h0.8M313.2 252.7h0.8M316.9 261.5h0.8M303.4 256.8h0.8M302.1 253.6h0.8M312.6 248.7h0.8M319.7 245.8h0.8M321.0 255.6h0.8M312.2 239.8h0.8M304.2 240.2h0.8M309.2 245.7h0.8M337.8 253.0h0.8M317.9 236.5h0.8M304.6 242.5h0.8M312.7 234.6h0.8M325.5 239.8h0.8M320.7 220.3h0.8M310.9 249.1h0.8M312.7 252.6h0.8M313.5 247.8h0.8M313.8 243.9h0.8M303.6 239.6h0.8M327.6 265.0h0.8M310.5 260.2h0.8M296.7 224.7h0.8M306.7 236.4h0.8M306.0 248.1h0.8M338.2 238.7h0.8M311.4 249.0h0.8M310.7 256.2h0.8M327.0 232.3h0.8M312.5 243.1h0.8M314.2 229.2h0.8M315.7 248.1h0.8M311.7 220.0h0.8M307.6 237.7h0.8M298.3 235.9h0.8M317.3 252.0h0.8M310.8 251.7h0.8M305.6 246.8h0.8M311.4 252.1h0.8M310.4 244.4h0.8M309.8 238.9h0.8M331.1 251.7h0.8M314.9 271.2h0.8M323.6 228.9h0.8M317.3 255.2h0.8M328.0 260.5h0.8M317.9 233.1h0.8M303.2 249.0h0.8M315.5 234.8h0.8M307.5 241.6h0.8M311.5 249.7h0.8M308.4 232.4h0.8M322.2 263.6h0.8M310.0 257.3h0.8M315.0 253.3h0.8M315.3 237.6h0.8M316.2 257.1h0.8M302.9 267.6h0.8M329.8 266.1h0.8M328.9 254.2h0.8M308.0 239.4h0.8M303.7 247.3h0.8M310.7 253.4h0.8M331.5 245.7h0.8M317.1 251.2h0.8M313.5 243.7h0.8M309.9 236.9h0.8M312.6 245.7h0.8M313.9 236.6h0.8M311.4 246.5h0.8M316.4 234.3h0.8M314.8 256.8h0.8M316.4 241.9h0.8M306.6 243.4h0.8M317.6 263.1h0.8M309.6 238.9h0.8M314.4 248.2h0.8M302.8 237.9h0.8M310.1 253.4h0.8M300.3 234.8h0.8M315.5 232.5h0.8M312.0 249.9h0.8M310.0 234.8h0.8M310.5 242.3h0.8M314.0 236.8h0.8M320.8 227.6h0.8M309.4 246.1h0.8M319.7 239.3h0.8M315.9 239.8h0.8M317.6 265.1h0.8M307.4 250.9h0.8M302.7 256.7h0.8M321.9 246.4h0.8M300.8 250.4h0.8M321.3 258.0h0.8M318.3 225.9h0.8M304.9 261.6h0.8M300.0 258.4h0.8M327.9 254.4h0.8M321.1 242.3h0.8M300.0 244.9h0.8M309.2 245.5h0.8M317.3 244.4h0.8M312.7 250.7h0.8M311.0 266.3h0.8M315.0 246.9h0.8M309.1 239.1h0.8M323.1 247.7h0.8M301.3 239.8h0.8M309.8 241.1h0.8M320.8 233.2h0.8M315.4 247.6h0.8M300.4 246.5h0.8M310.2 251.5h0.8M306.9 249.3h0.8M296.0 234.1h0.8M318.1 257.5h0.8M310.9 239.4h0.8M320.7 223.0h0.8M303.8 253.4h0.8M316.9 234.6h0.8M312.4 236.1h0.8M311.5 255.9h0.8M317.7 223.1h0.8M317.9 226.4h0.8M321.3 250.4h0.8M331.3 239.3h0.8M311.0 257.5h0.8M305.2 238.2h0.8M307.7 245.2h0.8M301.3 251.3h0.8M315.9 246.8h0.8M326.3 242.4h0.8M322.8 240.0h0.8M317.8 224.7h0.8M312.8 244.1h0.8M306.5 239.3h0.8M307.9 238.1h0.8M306.1 240.2h0.8M301.5 244.5h0.8M318.1 243.2h0.8M306.6 260.9h0.8M319.8 256.1h0.8M321.4 242.4h0.8M309.8 258.2h0.8M306.0 244.7h0.8M314.4 250.1h0.8M308.5 256.8h0.8M309.4 254.0h0.8M320.6 253.3h0.8M317.6 233.2h0.8M299.2 239.2h0.8M315.3 262.5h0.8M300.0 249.4h0.8M303.3 237.9h0.8M308.5 253.6h0.8M312.9 259.0h0.8M302.1 255.8h0.8M319.4 246.8h0.8M315.3 239.8h0.8M301.2 241.5h0.8M305.2 277.8h0.8M306.6 264.2h0.8M312.8 249.4h0.8M317.7 237.4h0.8M319.2 250.1h0.8M297.4 252.6h0.8M316.0 251.0h0.8M325.3 241.4h0.8M315.6 254.2h0.8M302.9 259.2h0.8M297.9 231.7h0.8M315.7 234.0h0.8M310.0 227.9h0.8M311.6 233.5h0.8M314.1 229.1h0.8M315.0 243.1h0.8M311.6 245.3h0.8M312.2 231.5h0.8M302.6 241.0h0.8M314.8 224.2h0.8M304.1 239.3h0.8M301.5 249.6h0.8M309.7 237.0h0.8M302.1 254.9h0.8M305.1 252.4h0.8M315.0 225.2h0.8M301.2 246.0h0.8M314.1 254.6h0.8M318.2 257.4h0.8M307.6 243.7h0.8M318.0 241.3h0.8M320.5 228.5h0.8M316.9 244.1h0.8M313.8 246.2h0.8M301.3 240.9h0.8M324.6 236.9h0.8M300.2 244.5h0.8M307.5 236.0h0.8M303.4 257.5h0.8M298.0 267.5h0.8M306.1 234.0h0.8M318.1 252.2h0.8M301.6 254.2h0.8M321.1 243.2h0.8M299.3 251.7h0.8M319.3 245.8h0.8M314.8 254.5h0.8M327.7 243.2h0.8M306.7 245.6h0.8M321.9 235.6h0.8M322.7 215.8h0.8M318.2 238.6h0.8M315.1 253.6h0.8M300.4 245.0h0.8M313.2 252.5h0.8M302.6 235.1h0.8M309.3 243.6h0.8M297.5 256.2h0.8" stroke="#6a7ce0" stroke-width="0.8" opacity="0.6"/>
<path d="M318.7 273.5h0.8M329.8 262.2h0.8M328.8 253.1h0.8M320.4 257.4h0.8M312.8 262.1h0.8M321.8 273.5h0.8M296.2 256.6h0.8M315.7 258.3h0.8M326.4 265.2h0.8M323.2 258.2h0.8M327.0 264.9h0.8M308.3 259.9h0.8M312.0 252.5h0.8M324.2 262.5h0.8M323.9 255.0h0.8M321.4 254.7h0.8M326.1 267.5h0.8M337.0 272.1h0.8M316.6 258.3h0.8M315.5 264.4h0.8M338.8 267.7h0.8M305.4 251.9h0.8M312.7 266.1h0.8M323.0 264.4h0.8M337.3 255.4h0.8M316.2 277.7h0.8M325.7 255.8h0.8M306.8 249.8h0.8M303.4 262.5h0.8M323.4 269.9h0.8M321.9 256.5h0.8M317.1 277.2h0.8M308.9 263.4h0.8M323.2 266.9h0.8M319.8 266.0h0.8M329.5 260.8h0.8M319.3 260.5h0.8M315.3 260.3h0.8M320.6 263.7h0.8M333.7 272.5h0.8M319.4 266.8h0.8M325.4 268.1h0.8M323.2 264.1h0.8M319.2 255.7h0.8M330.0 272.4h0.8M328.3 265.5h0.8M325.1 258.4h0.8M308.7 267.3h0.8M324.6 257.6h0.8M315.3 272.2h0.8M308.6 276.1h0.8M328.1 281.0h0.8M317.3 261.8h0.8M318.9 263.2h0.8M321.3 256.0h0.8M331.6 255.7h0.8M318.9 266.4h0.8M318.7 258.5h0.8M325.8 259.1h0.8M313.0 261.2h0.8M321.2 275.6h0.8M314.2 269.8h0.8M316.7 259.2h0.8M320.4 264.2h0.8M329.9 276.0h0.8M317.9 272.6h0.8M331.0 268.5h0.8M316.9 269.2h0.8M322.1 264.8h0.8M320.8 267.3h0.8M331.9 271.0h0.8M321.4 270.0h0.8M334.6 254.5h0.8M334.8 251.3h0.8M327.3 266.8h0.8M334.9 264.2h0.8M319.2 255.6h0.8M313.0 268.1h0.8M321.1 256.3h0.8M327.3 255.9h0.8M319.5 258.3h0.8M336.2 273.7h0.8M321.7 249.4h0.8M325.2 262.6h0.8M325.8 266.5h0.8M320.4 269.4h0.8M329.7 263.7h0.8M319.7 258.2h0.8M328.5 253.2h0.8M321.7 256.0h0.8M311.9 266.8h0.8M322.8 262.3h0.8M330.0 250.0h0.8M322.5 264.3h0.8M329.7 253.3h0.8M328.7 263.8h0.8M333.8 271.1h0.8M327.4 279.2h0.8M323.0 258.6h0.8M320.3 254.5h0.8M322.8 247.0h0.8M322.3 265.4h0.8M330.9 259.2h0.8M334.1 256.8h0.8M321.9 247.0h0.8M316.9 255.7h0.8M334.7 266.1h0.8M314.4 266.2h0.8M326.8 260.2h0.8M323.2 259.6h0.8M318.8 248.2h0.8M322.3 272.0h0.8M334.2 259.8h0.8M317.2 260.3h0.8M330.0 264.7h0.8M318.4 264.8h0.8M321.4 266.0h0.8M319.8 250.5h0.8M323.5 267.9h0.8M314.4 261.2h0.8M329.8 259.1h0.8M317.9 277.8h0.8M329.5 270.0h0.8M315.6 274.7h0.8M310.1 258.0h0.8M328.8 272.4h0.8M315.8 256.8h0.8M324.5 247.0h0.8M328.0 266.4h0.8M319.5 266.2h0.8M329.0 264.4h0.8M327.1 273.8h0.8M319.3 263.3h0.8M318.9 270.0h0.8M319.8 265.7h0.8M324.1 262.5h0.8M336.3 261.3h0.8M334.0 268.4h0.8M333.2 260.7h0.8M330.2 267.9h0.8M318.2 264.1h0.8M322.0 261.7h0.8M333.1 256.4h0.8M310.0 248.5h0.8M319.5 257.0h0.8M323.1 266.4h0.8M336.6 264.4h0.8M326.6 256.3h0.8M327.5 272.5h0.8M333.3 246.9h0.8M329.9 274.2h0.8M329.4 250.5h0.8M320.6 266.5h0.8M326.2 255.7h0.8M316.1 269.4h0.8M312.7 273.1h0.8M323.2 264.3h0.8M312.7 257.4h0.8M328.3 250.7h0.8M338.9 251.2h0.8" stroke="#5a6ed8" stroke-width="0.8" opacity="0.6"/>
<g filter="url(#bl0_9)">
<path d="M298 279 L298 262 L300 252 L304 244 L309 238 L314 234 L319 234 L323 241 L326 251 L330 262 L334 268 L335 279 Z" fill="#3a4ed6" opacity="0.5"/>
<path d="M299 279 L300 266 L303 257 L308 250 L314 247 L319 250 L323 258 L331 268 L333 279 Z" fill="#2e42d4" opacity="0.75"/>
</g>
<path d="M304.8 258.4h0.8M316.2 265.1h0.8M310.5 256.0h0.8M311.4 252.5h0.8M295.6 267.2h0.8M314.7 259.5h0.8M308.8 260.4h0.8M312.9 257.3h0.8M320.4 241.5h0.8M314.7 247.8h0.8M310.9 272.4h0.8M305.7 257.0h0.8M309.0 267.1h0.8M306.4 241.8h0.8M316.5 254.6h0.8M310.9 268.4h0.8M307.0 254.4h0.8M314.0 262.0h0.8M309.5 267.9h0.8M328.1 254.1h0.8M325.6 237.7h0.8M322.5 254.7h0.8M313.9 254.7h0.8M308.7 245.7h0.8M310.3 270.4h0.8M320.7 254.7h0.8M309.5 251.3h0.8M304.9 275.3h0.8M317.5 259.1h0.8M309.7 248.2h0.8M321.8 265.5h0.8M306.6 267.5h0.8M305.6 264.2h0.8M306.5 254.0h0.8M316.3 262.2h0.8M319.8 250.0h0.8M323.6 270.9h0.8M312.9 262.5h0.8M307.8 256.5h0.8M304.1 258.9h0.8M314.3 270.9h0.8M319.4 265.8h0.8M310.6 255.8h0.8M310.7 260.1h0.8M300.0 265.4h0.8M302.5 253.1h0.8M313.1 253.1h0.8M324.2 257.1h0.8M323.6 269.3h0.8M309.7 261.8h0.8M321.7 254.8h0.8M313.6 252.6h0.8M313.4 254.6h0.8M313.6 267.6h0.8M322.4 259.3h0.8M314.4 266.2h0.8M311.1 247.8h0.8M320.5 249.0h0.8M319.3 248.7h0.8M325.3 248.0h0.8M318.7 272.4h0.8M306.5 272.3h0.8M307.5 241.1h0.8M317.9 264.7h0.8M311.6 233.8h0.8M312.6 255.1h0.8M310.5 255.2h0.8M301.0 252.6h0.8M325.1 272.8h0.8M310.6 251.2h0.8M315.7 268.2h0.8M317.9 246.8h0.8M314.1 259.3h0.8M322.7 269.5h0.8M316.5 269.7h0.8M310.3 272.8h0.8M310.1 261.8h0.8M319.2 249.2h0.8M308.3 241.1h0.8M314.1 257.5h0.8M310.8 262.8h0.8M298.8 257.8h0.8M313.6 255.4h0.8M318.3 274.8h0.8M310.0 249.0h0.8M308.9 258.9h0.8M316.9 249.7h0.8M319.7 248.2h0.8M318.6 262.1h0.8M316.1 278.7h0.8M311.2 256.4h0.8M316.2 266.3h0.8M304.0 260.6h0.8M308.0 264.1h0.8M322.2 258.5h0.8M312.3 259.8h0.8M316.8 259.6h0.8M310.3 251.0h0.8M311.8 269.6h0.8M312.3 270.9h0.8M295.7 253.6h0.8M314.8 257.9h0.8M301.8 251.6h0.8M321.4 245.6h0.8M306.3 247.5h0.8M309.3 264.2h0.8M317.0 238.5h0.8M322.8 252.3h0.8M309.0 274.0h0.8M312.5 246.1h0.8M308.7 251.0h0.8M306.2 254.8h0.8M318.9 261.4h0.8M306.3 259.1h0.8M313.2 265.3h0.8M310.8 262.4h0.8M327.2 258.9h0.8M305.7 261.2h0.8M307.6 254.4h0.8M314.3 261.2h0.8M311.1 266.1h0.8M311.7 245.5h0.8M318.9 254.5h0.8M321.2 251.7h0.8M316.8 261.0h0.8M305.5 271.5h0.8M300.3 266.8h0.8M320.3 262.8h0.8M317.5 253.2h0.8M312.9 260.2h0.8M315.8 264.8h0.8M311.6 251.3h0.8M309.2 261.9h0.8M301.8 246.0h0.8M310.2 252.7h0.8M311.2 232.4h0.8M310.7 255.6h0.8M318.2 239.0h0.8M310.9 262.6h0.8M316.3 269.5h0.8M320.1 247.9h0.8M317.3 254.8h0.8M307.6 272.7h0.8M308.8 249.8h0.8M310.3 249.8h0.8M319.8 261.7h0.8M322.4 262.0h0.8M308.9 268.1h0.8M308.6 253.6h0.8M311.9 258.4h0.8M321.0 252.2h0.8M315.4 257.7h0.8M304.5 247.5h0.8M311.5 261.9h0.8M315.2 262.6h0.8M313.3 253.7h0.8M315.9 248.3h0.8M303.9 254.8h0.8M303.4 253.0h0.8M308.0 252.7h0.8M312.7 250.3h0.8M310.1 241.5h0.8M314.0 249.5h0.8M315.7 230.7h0.8M307.6 260.3h0.8M296.5 254.5h0.8M313.6 259.0h0.8M302.9 260.2h0.8M314.0 248.6h0.8M318.0 257.5h0.8M313.1 253.7h0.8M316.7 258.9h0.8M320.7 262.4h0.8M308.8 255.8h0.8M319.2 254.5h0.8M315.6 263.0h0.8M311.8 235.5h0.8M313.9 260.1h0.8M313.9 250.7h0.8M321.2 256.7h0.8M308.8 251.1h0.8M315.4 247.5h0.8M306.2 277.3h0.8M321.9 268.2h0.8M322.2 263.8h0.8M301.6 269.6h0.8M321.4 262.7h0.8M299.7 270.0h0.8M322.3 253.2h0.8M313.9 265.5h0.8M312.4 268.6h0.8M313.6 264.7h0.8M313.6 243.7h0.8M314.9 270.7h0.8M320.7 274.6h0.8M316.8 252.2h0.8M313.1 239.4h0.8M311.7 266.8h0.8M298.3 259.9h0.8M318.6 270.9h0.8M306.7 251.7h0.8M300.3 248.1h0.8M316.6 278.1h0.8M305.2 271.4h0.8M315.9 253.2h0.8M327.9 233.5h0.8M312.5 260.1h0.8M327.5 275.5h0.8M328.4 259.3h0.8M319.7 271.3h0.8M316.5 261.5h0.8M311.8 254.0h0.8M304.6 276.9h0.8M310.0 237.8h0.8M314.8 257.7h0.8M314.2 275.6h0.8M312.3 255.4h0.8M307.9 257.8h0.8M310.0 260.0h0.8M334.3 261.8h0.8M307.2 276.8h0.8M318.9 265.9h0.8M317.9 266.0h0.8M317.6 271.7h0.8M319.9 271.1h0.8M309.6 258.0h0.8M308.0 267.3h0.8M318.7 253.5h0.8M321.4 247.1h0.8M312.4 264.2h0.8M312.8 261.8h0.8M321.0 261.2h0.8M305.5 265.0h0.8M312.3 259.1h0.8M309.1 244.5h0.8M304.5 254.6h0.8M305.7 231.6h0.8M320.8 246.7h0.8M308.1 263.2h0.8M296.6 271.1h0.8M307.8 264.4h0.8M309.7 261.0h0.8M313.7 258.0h0.8M300.5 243.7h0.8M312.7 271.7h0.8M309.3 263.2h0.8M314.1 262.7h0.8M319.8 243.4h0.8M314.9 256.3h0.8M310.9 249.7h0.8M307.6 248.0h0.8M324.6 258.1h0.8M318.1 248.5h0.8" stroke="#3048d8" stroke-width="0.8" opacity="0.7"/>
<g filter="url(#bl0_8)">
<ellipse cx="309.4" cy="270.7" rx="8.5" ry="8" transform="rotate(0 309.4 270.7)" fill="#2b3fd6" opacity="1"/>
<ellipse cx="322" cy="274" rx="10" ry="4" transform="rotate(0 322 274)" fill="#2b3fd6" opacity="0.9"/>
<ellipse cx="309.4" cy="270.9" rx="5.2" ry="6.6" transform="rotate(0 309.4 270.9)" fill="#2ec4e6" opacity="1"/>
<ellipse cx="309.4" cy="271.0" rx="4.0" ry="5.0" transform="rotate(0 309.4 271.0)" fill="#4cc24a" opacity="1"/>
<ellipse cx="309.4" cy="271.0" rx="2.7" ry="3.3" transform="rotate(0 309.4 271.0)" fill="#f2e52a" opacity="1"/>
<ellipse cx="309.4" cy="271.0" rx="1.7" ry="2.1" transform="rotate(0 309.4 271.0)" fill="#f58a1e" opacity="1"/>
<ellipse cx="309.4" cy="271.0" rx="1.0" ry="1.2" transform="rotate(0 309.4 271.0)" fill="#e41f1a" opacity="1"/>
</g>
<rect x="294.9" y="187.9" width="94.6" height="93.6" fill="none" stroke="#222" stroke-width="0.9"/>
<rect x="319.6" y="252.3" width="18" height="29.4" fill="none" stroke="#333" stroke-width="0.6"/>
<text x="339.2" y="267.6" font-size="6" text-anchor="start" fill="#222" font-weight="normal" textLength="25.9" lengthAdjust="spacingAndGlyphs">CD4 Treg</text>
<path d="M292.2 201.2h2.7M292.2 221.2h2.7M292.2 241.2h2.7M292.2 261.2h2.7M292.2 281.2h2.7" stroke="#222" stroke-width="0.8"/>
<path d="M293.2 191.2h1.7M293.2 206.2h1.7M293.2 211.2h1.7M293.2 216.2h1.7M293.2 226.2h1.7M293.2 231.2h1.7M293.2 236.2h1.7M293.2 246.2h1.7M293.2 251.2h1.7M293.2 256.2h1.7M293.2 266.2h1.7M293.2 271.2h1.7M293.2 276.2h1.7M293.2 191.2h1.7M293.2 196.2h1.7" stroke="#222" stroke-width="0.6"/>
<text x="289.4" y="203.2" font-size="6" text-anchor="end" fill="#333" font-weight="normal">4.0M</text>
<text x="289.4" y="223.2" font-size="6" text-anchor="end" fill="#333" font-weight="normal">3.0M</text>
<text x="289.4" y="243.2" font-size="6" text-anchor="end" fill="#333" font-weight="normal">2.0M</text>
<text x="289.4" y="263.2" font-size="6" text-anchor="end" fill="#333" font-weight="normal">1.0M</text>
<text x="289.4" y="283.3" font-size="6" text-anchor="end" fill="#333" font-weight="normal">0</text>
<text x="268.4" y="235.6" font-size="6.8" text-anchor="middle" fill="#222" font-weight="normal" transform="rotate(-90 268.4 235.6)" textLength="15" lengthAdjust="spacingAndGlyphs" stroke="#222" stroke-width="0.2">SSC-A</text>
<path d="M308.2 281.7v2.6M329.2 281.7v2.6M354.5 281.7v2.6M380 281.7v2.6" stroke="#222" stroke-width="0.8"/>
<path d="M333.0 281.7v1.8M335.2 281.7v1.8M336.8 281.7v1.8M338.0 281.7v1.8M339.0 281.7v1.8M339.9 281.7v1.8M340.6 281.7v1.8M341.3 281.7v1.8M345.7 281.7v1.8M347.9 281.7v1.8M349.5 281.7v1.8M350.7 281.7v1.8M351.7 281.7v1.8M352.5 281.7v1.8M353.3 281.7v1.8M353.9 281.7v1.8M358.3 281.7v1.8M360.6 281.7v1.8M362.2 281.7v1.8M363.4 281.7v1.8M364.4 281.7v1.8M365.3 281.7v1.8M366.0 281.7v1.8M366.7 281.7v1.8M371.1 281.7v1.8M373.3 281.7v1.8M374.9 281.7v1.8M376.2 281.7v1.8M377.2 281.7v1.8M378.0 281.7v1.8M378.8 281.7v1.8M379.4 281.7v1.8M298.0 281.7v1.8M300.5 281.7v1.8M303.0 281.7v1.8M305.0 281.7v1.8M306.5 281.7v1.8M310.0 281.7v1.8M311.5 281.7v1.8M313.5 281.7v1.8M316.0 281.7v1.8M319.0 281.7v1.8M322.0 281.7v1.8M325.0 281.7v1.8" stroke="#222" stroke-width="0.6"/>
<text x="308.2" y="292.6" font-size="6" text-anchor="middle" fill="#333" font-weight="normal">0</text>
<text x="324.3" y="292.6" font-size="6" fill="#333" text-anchor="start">10<tspan dy="-2.6" font-size="4.3">4</tspan></text>
<text x="350.2" y="292.6" font-size="6" fill="#333" text-anchor="start">10<tspan dy="-2.6" font-size="4.3">6</tspan></text>
<text x="375.8" y="292.6" font-size="6" fill="#333" text-anchor="start">10<tspan dy="-2.6" font-size="4.3">8</tspan></text>
<text x="341.5" y="302.6" font-size="6.8" text-anchor="middle" fill="#222" font-weight="normal" textLength="17.5" lengthAdjust="spacingAndGlyphs" stroke="#222" stroke-width="0.2">FOXP3</text>
<text x="145.9" y="354.2" font-size="10.5" text-anchor="start" fill="#0a0a0a" font-weight="bold">G</text>
<path d="M182.7 406.1 L257.1 377.2 L257.1 400.5 L182.7 416.4 Z" fill="#dedede"/>
<line x1="182.7" y1="406.1" x2="257.1" y2="377.2" stroke="#222" stroke-width="0.8" stroke-dasharray="1.2,0.8"/>
<line x1="182.7" y1="416.4" x2="257.1" y2="400.5" stroke="#222" stroke-width="0.8" stroke-dasharray="1.2,0.8"/>
<line x1="182.7" y1="412" x2="257.1" y2="389.1" stroke="#222" stroke-width="0.9"/>
<line x1="182.7" y1="362.3" x2="182.7" y2="430.7" stroke="#222" stroke-width="0.9"/>
<line x1="182.4" y1="412.2" x2="283.4" y2="412.2" stroke="#222" stroke-width="0.9"/>
<line x1="180.4" y1="364.6" x2="182.7" y2="364.6" stroke="#222" stroke-width="0.7"/>
<text x="177.3" y="366.8" font-size="6.4" text-anchor="end" fill="#333" font-weight="normal">0.006</text>
<line x1="180.4" y1="380.5" x2="182.7" y2="380.5" stroke="#222" stroke-width="0.7"/>
<text x="177.3" y="382.7" font-size="6.4" text-anchor="end" fill="#333" font-weight="normal">0.004</text>
<line x1="180.4" y1="396.3" x2="182.7" y2="396.3" stroke="#222" stroke-width="0.7"/>
<text x="177.3" y="398.5" font-size="6.4" text-anchor="end" fill="#333" font-weight="normal">0.002</text>
<line x1="180.4" y1="412.2" x2="182.7" y2="412.2" stroke="#222" stroke-width="0.7"/>
<text x="177.3" y="414.4" font-size="6.4" text-anchor="end" fill="#333" font-weight="normal">0.000</text>
<line x1="180.4" y1="428.6" x2="182.7" y2="428.6" stroke="#222" stroke-width="0.7"/>
<text x="177.3" y="430.8" font-size="6.4" text-anchor="end" fill="#333" font-weight="normal">-0.002</text>
<path d="M181.3 364.6h1.4M181.3 372.6h1.4M181.3 380.5h1.4M181.3 388.5h1.4M181.3 396.4h1.4M181.3 404.4h1.4M181.3 412.3h1.4M181.3 420.2h1.4M181.3 428.2h1.4" stroke="#222" stroke-width="0.5"/>
<path d="M183.0 412.2v1.6M186.8 412.2v1.6M190.7 412.2v1.6M194.6 412.2v1.6M198.4 412.2v1.6M202.2 412.2v1.6M206.1 412.2v1.6M209.9 412.2v1.6M213.8 412.2v1.6M217.7 412.2v1.6M221.5 412.2v1.6M225.3 412.2v1.6M229.2 412.2v1.6M233.1 412.2v1.6M236.9 412.2v1.6M240.8 412.2v1.6M244.6 412.2v1.6M248.4 412.2v1.6M252.3 412.2v1.6M256.1 412.2v1.6M260.0 412.2v1.6M263.9 412.2v1.6M267.7 412.2v1.6M271.6 412.2v1.6M275.4 412.2v1.6M279.2 412.2v1.6" stroke="#222" stroke-width="0.5"/>
<line x1="221.6" y1="412.2" x2="221.6" y2="414.8" stroke="#222" stroke-width="0.7"/>
<text x="221.6" y="423.2" font-size="6.2" text-anchor="middle" fill="#333" font-weight="normal">0.0002</text>
<line x1="260.1" y1="412.2" x2="260.1" y2="414.8" stroke="#222" stroke-width="0.7"/>
<text x="260.1" y="423.2" font-size="6.2" text-anchor="middle" fill="#333" font-weight="normal">0.0004</text>
<text x="155.6" y="395.2" font-size="7.6" text-anchor="middle" fill="#222" font-weight="normal" transform="rotate(-90 155.6 395.2)" textLength="69.6" lengthAdjust="spacingAndGlyphs" stroke="#222" stroke-width="0.35">Macrophages (CD68<tspan dy="-2.4" font-size="4.5">+</tspan><tspan dy="2.4"> cells)</tspan></text>
<text x="232.7" y="434.8" font-size="7.7" text-anchor="middle" fill="#222" font-weight="normal" textLength="25.1" lengthAdjust="spacingAndGlyphs" stroke="#222" stroke-width="0.35">CD4 Tregs</text>
<text x="205.8" y="368.3" font-size="6.2" fill="#333"><tspan font-style="italic">r</tspan><tspan dy="1.5" font-size="4">s</tspan><tspan dy="-1.5"> = 0.559; </tspan><tspan font-style="italic">P</tspan> = .027</text>
<circle cx="226.9" cy="376.8" r="1.3" fill="#111"/>
<circle cx="257.6" cy="387.3" r="1.3" fill="#111"/>
<circle cx="187.7" cy="399.7" r="1.3" fill="#111"/>
<circle cx="220.4" cy="409.5" r="1.3" fill="#111"/>
<circle cx="236.7" cy="408.2" r="1.3" fill="#111"/>
<circle cx="185.7" cy="409.7" r="1.3" fill="#111"/>
<circle cx="189.8" cy="411" r="1.3" fill="#111"/>
<circle cx="183.5" cy="411.5" r="1.3" fill="#111"/>
<circle cx="186.5" cy="412" r="1.3" fill="#111"/>
<circle cx="191" cy="411.6" r="1.3" fill="#111"/>
<circle cx="184.5" cy="410.5" r="1.3" fill="#111"/>
<text x="291.3" y="323.5" font-size="10.5" text-anchor="start" fill="#0a0a0a" font-weight="bold">H</text>
<clipPath id="cl11"><rect x="292.9" y="333.7" width="62.1" height="52.8"/></clipPath>
<g clip-path="url(#cl11)">
<rect x="292.9" y="333.7" width="62.1" height="52.8" fill="#10060e" stroke="none" stroke-width="0"/>
<g filter="url(#bl0_8)">
<path d="M294.2 331.7L296.4 335.0L297.1 334.6L300.2 331.7Z" fill="#d01848" stroke="#050308" stroke-width="0.8"/>
<path d="M313.7 331.7L314.0 334.8L314.0 334.8L318.9 332.8L318.5 331.7Z" fill="#e82058" stroke="#050308" stroke-width="0.8"/>
<path d="M321.4 331.7L320.0 333.3L318.9 332.8L318.5 331.7Z" fill="#d01848" stroke="#050308" stroke-width="0.6"/>
<path d="M290.9 331.7L294.2 331.7L296.4 335.0L295.9 336.0L290.9 336.8Z" fill="#e82058" stroke="#050308" stroke-width="1.0"/>
<path d="M307.6 339.0L297.1 334.6L300.2 331.7L300.4 331.7L308.7 336.0Z" fill="#d01848" stroke="#050308" stroke-width="0.9"/>
<path d="M308.9 331.7L309.4 335.2L308.7 336.0L300.4 331.7Z" fill="#a01448" stroke="#050308" stroke-width="1.0"/>
<path d="M313.7 331.7L308.9 331.7L309.4 335.2L314.0 334.8Z" fill="#a01448" stroke="#050308" stroke-width="0.7"/>
<path d="M322.2 335.9L326.2 336.4L327.6 331.7L321.4 331.7L320.0 333.3Z" fill="#f05088" stroke="#050308" stroke-width="1.2"/>
<path d="M333.8 331.7L331.8 336.9L327.7 337.8L326.2 336.4L327.6 331.7Z" fill="#a01448" stroke="#050308" stroke-width="0.7"/>
<path d="M338.5 331.7L338.9 336.3L335.9 339.4L331.8 336.9L333.8 331.7Z" fill="#e82058" stroke="#050308" stroke-width="1.3"/>
<path d="M345.8 339.1L338.9 336.3L338.5 331.7L345.4 331.7L346.7 337.7Z" fill="#e82058" stroke="#050308" stroke-width="1.3"/>
<path d="M345.4 331.7L346.7 337.7L353.9 335.6L353.4 331.7Z" fill="#a01448" stroke="#050308" stroke-width="0.6"/>
<path d="M353.9 335.6L353.4 331.7L357.0 331.7L357.0 336.4L355.9 337.1Z" fill="#e82058" stroke="#050308" stroke-width="1.1"/>
<path d="M290.9 336.8L295.9 336.0L296.5 338.4L290.9 344.1Z" fill="#e82058" stroke="#050308" stroke-width="0.5"/>
<path d="M296.8 344.5L290.9 346.8L290.9 344.1L296.5 338.4L297.2 339.6Z" fill="#a01448" stroke="#050308" stroke-width="0.8"/>
<path d="M297.2 339.6L296.5 338.4L295.9 336.0L296.4 335.0L297.1 334.6L307.6 339.0L307.5 343.2L306.1 343.5Z" fill="#f05088" stroke="#050308" stroke-width="0.6"/>
<path d="M314.0 334.8L309.4 335.2L308.7 336.0L307.6 339.0L307.5 343.2L308.0 343.6L317.4 343.4L314.0 334.8Z" fill="#e82058" stroke="#050308" stroke-width="1.1"/>
<path d="M318.0 343.4L322.2 335.9L320.0 333.3L318.9 332.8L314.0 334.8L317.4 343.4L317.6 343.5Z" fill="#e82058" stroke="#050308" stroke-width="0.6"/>
<path d="M318.0 343.4L322.2 335.9L326.2 336.4L327.7 337.8L327.7 341.9L325.5 345.2L324.0 345.3Z" fill="#f05088" stroke="#050308" stroke-width="1.3"/>
<path d="M336.4 343.2L334.5 344.0L327.7 341.9L327.7 337.8L331.8 336.9L335.9 339.4Z" fill="#200818" stroke="#050308" stroke-width="0.6"/>
<path d="M345.8 339.1L345.8 340.7L337.1 343.6L336.4 343.2L335.9 339.4L338.9 336.3Z" fill="#d01848" stroke="#050308" stroke-width="1.1"/>
<path d="M345.8 339.1L345.8 340.7L347.9 345.0L352.2 344.4L355.9 337.4L355.9 337.1L353.9 335.6L346.7 337.7Z" fill="#d01848" stroke="#050308" stroke-width="1.1"/>
<path d="M352.2 344.4L355.9 337.4L357.0 338.5L357.0 345.8L356.3 346.9Z" fill="#e82058" stroke="#050308" stroke-width="0.5"/>
<path d="M357.0 336.4L355.9 337.1L355.9 337.4L357.0 338.5Z" fill="#e82058" stroke="#050308" stroke-width="0.5"/>
<path d="M296.8 344.5L290.9 346.8L290.9 349.1L292.0 351.0L299.1 347.5Z" fill="#d01848" stroke="#050308" stroke-width="0.9"/>
<path d="M296.8 344.5L299.1 347.5L300.6 348.1L306.1 343.5L297.2 339.6Z" fill="#d01848" stroke="#050308" stroke-width="0.6"/>
<path d="M306.1 343.5L307.5 343.2L308.0 343.6L309.6 351.9L308.7 353.9L301.1 351.9L300.6 348.1Z" fill="#e82058" stroke="#050308" stroke-width="0.6"/>
<path d="M316.9 350.4L309.6 351.9L308.0 343.6L317.4 343.4L317.6 343.5Z" fill="#a01448" stroke="#050308" stroke-width="1.3"/>
<path d="M316.9 350.4L317.6 343.5L318.0 343.4L324.0 345.3L321.5 351.3L317.1 350.6Z" fill="#200818" stroke="#050308" stroke-width="0.5"/>
<path d="M334.5 344.0L327.7 341.9L325.5 345.2L329.2 350.5L330.5 350.5Z" fill="#e82058" stroke="#050308" stroke-width="1.3"/>
<path d="M337.1 343.6L340.5 350.5L340.4 350.6L336.4 354.1L330.5 350.5L334.5 344.0L336.4 343.2Z" fill="#d01848" stroke="#050308" stroke-width="1.1"/>
<path d="M346.6 348.2L340.5 350.5L337.1 343.6L345.8 340.7L347.9 345.0Z" fill="#e82058" stroke="#050308" stroke-width="0.9"/>
<path d="M346.6 348.2L350.5 353.8L357.0 350.1L357.0 348.3L356.3 346.9L352.2 344.4L347.9 345.0Z" fill="#d01848" stroke="#050308" stroke-width="0.8"/>
<path d="M357.0 348.3L357.0 345.8L356.3 346.9Z" fill="#d01848" stroke="#050308" stroke-width="0.5"/>
<path d="M290.9 355.6L292.6 354.6L292.0 351.0L290.9 349.1Z" fill="#f05088" stroke="#050308" stroke-width="1.2"/>
<path d="M300.6 348.1L301.1 351.9L296.9 356.9L292.6 354.6L292.0 351.0L299.1 347.5Z" fill="#e82058" stroke="#050308" stroke-width="0.9"/>
<path d="M308.7 353.9L309.0 355.8L304.7 358.8L297.7 358.7L296.9 356.9L301.1 351.9Z" fill="#f05088" stroke="#050308" stroke-width="0.8"/>
<path d="M316.9 350.4L309.6 351.9L308.7 353.9L309.0 355.8L310.6 357.5L312.7 358.7L317.6 356.3L317.1 350.6Z" fill="#e82058" stroke="#050308" stroke-width="0.6"/>
<path d="M317.1 350.6L317.6 356.3L320.0 357.2L324.5 354.3L321.5 351.3Z" fill="#d01848" stroke="#050308" stroke-width="0.5"/>
<path d="M321.5 351.3L324.5 354.3L325.7 354.4L329.2 350.5L325.5 345.2L324.0 345.3Z" fill="#a01448" stroke="#050308" stroke-width="1.2"/>
<path d="M336.4 354.5L336.4 354.1L330.5 350.5L329.2 350.5L325.7 354.4L327.2 358.0L332.6 357.9Z" fill="#f05088" stroke="#050308" stroke-width="1.2"/>
<path d="M336.4 354.5L336.4 354.1L340.4 350.6L346.1 358.1L341.7 362.3L340.6 362.2Z" fill="#d01848" stroke="#050308" stroke-width="0.8"/>
<path d="M346.6 348.2L340.5 350.5L340.4 350.6L346.1 358.1L348.9 357.1L350.4 354.5L350.5 353.8Z" fill="#d01848" stroke="#050308" stroke-width="0.9"/>
<path d="M357.0 350.1L350.5 353.8L350.4 354.5L357.0 357.8Z" fill="#200818" stroke="#050308" stroke-width="1.2"/>
<path d="M293.5 364.9L290.9 362.7L290.9 355.6L292.6 354.6L296.9 356.9L297.7 358.7L297.6 360.2Z" fill="#e82058" stroke="#050308" stroke-width="1.3"/>
<path d="M301.9 365.8L305.5 364.9L304.7 358.8L297.7 358.7L297.6 360.2Z" fill="#f05088" stroke="#050308" stroke-width="1.2"/>
<path d="M310.6 357.5L306.9 365.3L305.5 364.9L304.7 358.8L309.0 355.8Z" fill="#a01448" stroke="#050308" stroke-width="0.8"/>
<path d="M319.9 363.5L314.4 363.5L312.7 358.7L317.6 356.3L320.0 357.2L320.9 361.7Z" fill="#a01448" stroke="#050308" stroke-width="1.2"/>
<path d="M325.7 354.4L327.2 358.0L326.6 360.7L320.9 361.7L320.0 357.2L324.5 354.3Z" fill="#f05088" stroke="#050308" stroke-width="1.1"/>
<path d="M329.9 366.5L326.6 360.7L327.2 358.0L332.6 357.9L332.3 364.5Z" fill="#f05088" stroke="#050308" stroke-width="0.8"/>
<path d="M332.3 364.5L332.6 357.9L336.4 354.5L340.6 362.2L340.4 362.3Z" fill="#f05088" stroke="#050308" stroke-width="0.5"/>
<path d="M346.1 358.1L341.7 362.3L343.0 363.8L350.2 364.9L351.8 362.1L348.9 357.1Z" fill="#e82058" stroke="#050308" stroke-width="0.9"/>
<path d="M357.0 357.8L350.4 354.5L348.9 357.1L351.8 362.1L356.9 362.0L357.0 361.3Z" fill="#e82058" stroke="#050308" stroke-width="0.8"/>
<path d="M357.0 362.1L356.9 362.0L357.0 361.3Z" fill="#d01848" stroke="#050308" stroke-width="1.0"/>
<path d="M290.9 369.7L290.9 362.7L293.5 364.9L292.6 369.2L292.6 369.3L291.6 369.8Z" fill="#e82058" stroke="#050308" stroke-width="1.3"/>
<path d="M293.5 364.9L297.6 360.2L301.9 365.8L301.3 367.4L292.6 369.2Z" fill="#f05088" stroke="#050308" stroke-width="0.8"/>
<path d="M302.9 373.6L302.8 373.6L301.3 367.4L301.9 365.8L305.5 364.9L306.9 365.3L308.6 366.7Z" fill="#f05088" stroke="#050308" stroke-width="1.0"/>
<path d="M312.7 358.7L314.4 363.5L312.5 366.8L310.9 367.4L308.6 366.7L306.9 365.3L310.6 357.5Z" fill="#d01848" stroke="#050308" stroke-width="0.8"/>
<path d="M319.9 363.5L314.4 363.5L312.5 366.8L318.3 372.1L322.1 367.8Z" fill="#200818" stroke="#050308" stroke-width="1.0"/>
<path d="M329.6 367.9L328.2 368.4L322.1 367.8L319.9 363.5L320.9 361.7L326.6 360.7L329.9 366.5Z" fill="#f05088" stroke="#050308" stroke-width="1.1"/>
<path d="M329.6 367.9L332.9 371.2L335.4 372.0L337.6 370.2L340.4 362.3L332.3 364.5L329.9 366.5Z" fill="#200818" stroke="#050308" stroke-width="0.5"/>
<path d="M337.6 370.2L340.4 370.3L343.3 365.1L343.0 363.8L341.7 362.3L340.6 362.2L340.4 362.3Z" fill="#d01848" stroke="#050308" stroke-width="1.1"/>
<path d="M350.2 364.9L343.0 363.8L343.3 365.1L346.3 372.4L349.9 371.5L351.0 368.0Z" fill="#e82058" stroke="#050308" stroke-width="0.8"/>
<path d="M357.0 366.8L351.0 368.0L350.2 364.9L351.8 362.1L356.9 362.0L357.0 362.1Z" fill="#e82058" stroke="#050308" stroke-width="0.6"/>
<path d="M290.9 369.7L291.6 369.8L291.2 373.3L290.9 373.8Z" fill="#e82058" stroke="#050308" stroke-width="0.5"/>
<path d="M291.6 369.8L292.6 369.3L299.9 375.7L299.6 376.8L292.2 375.1L291.2 373.3Z" fill="#e82058" stroke="#050308" stroke-width="1.3"/>
<path d="M292.6 369.2L292.6 369.3L299.9 375.7L302.8 373.6L301.3 367.4Z" fill="#d01848" stroke="#050308" stroke-width="0.9"/>
<path d="M309.2 375.6L302.9 373.6L308.6 366.7L310.9 367.4L309.6 375.4Z" fill="#200818" stroke="#050308" stroke-width="1.0"/>
<path d="M317.6 376.3L309.6 375.4L310.9 367.4L312.5 366.8L318.3 372.1L318.1 376.0Z" fill="#200818" stroke="#050308" stroke-width="1.0"/>
<path d="M328.2 368.4L322.1 367.8L318.3 372.1L318.1 376.0L322.5 377.2L325.6 374.3Z" fill="#a01448" stroke="#050308" stroke-width="0.5"/>
<path d="M329.6 367.9L328.2 368.4L325.6 374.3L330.4 377.0L332.9 371.2Z" fill="#d01848" stroke="#050308" stroke-width="1.1"/>
<path d="M335.4 372.0L337.0 374.4L343.7 377.2L345.9 372.9L340.4 370.3L337.6 370.2Z" fill="#e82058" stroke="#050308" stroke-width="1.3"/>
<path d="M343.3 365.1L346.3 372.4L345.9 372.9L340.4 370.3Z" fill="#e82058" stroke="#050308" stroke-width="0.9"/>
<path d="M357.0 366.8L351.0 368.0L349.9 371.5L353.0 373.5L356.3 373.6L357.0 372.4Z" fill="#e82058" stroke="#050308" stroke-width="0.9"/>
<path d="M357.0 374.5L356.3 373.6L357.0 372.4Z" fill="#d01848" stroke="#050308" stroke-width="0.5"/>
<path d="M290.9 381.0L290.9 373.8L291.2 373.3L292.2 375.1L295.1 381.5Z" fill="#200818" stroke="#050308" stroke-width="0.8"/>
<path d="M295.1 381.5L292.2 375.1L299.6 376.8L298.5 381.4L297.0 382.2Z" fill="#d01848" stroke="#050308" stroke-width="1.0"/>
<path d="M302.5 383.0L298.5 381.4L299.6 376.8L299.9 375.7L302.8 373.6L302.9 373.6L309.2 375.6L308.1 381.4Z" fill="#e82058" stroke="#050308" stroke-width="0.7"/>
<path d="M308.1 381.4L309.2 375.6L309.6 375.4L317.6 376.3L316.1 382.6L314.1 384.1L311.5 384.5Z" fill="#d01848" stroke="#050308" stroke-width="1.0"/>
<path d="M321.1 385.6L316.1 382.6L317.6 376.3L318.1 376.0L322.5 377.2L325.1 380.5L321.6 385.6Z" fill="#e82058" stroke="#050308" stroke-width="1.1"/>
<path d="M330.4 377.0L325.6 374.3L322.5 377.2L325.1 380.5L327.2 381.0L330.5 379.3Z" fill="#e82058" stroke="#050308" stroke-width="0.5"/>
<path d="M335.4 372.0L337.0 374.4L334.2 380.7L330.5 379.3L330.4 377.0L332.9 371.2Z" fill="#e82058" stroke="#050308" stroke-width="0.5"/>
<path d="M337.0 374.4L343.7 377.2L344.2 380.2L341.8 382.5L335.9 383.2L334.2 380.7Z" fill="#e82058" stroke="#050308" stroke-width="1.1"/>
<path d="M345.9 372.9L343.7 377.2L344.2 380.2L349.2 382.3L350.8 382.2L353.0 373.5L349.9 371.5L346.3 372.4Z" fill="#e82058" stroke="#050308" stroke-width="1.3"/>
<path d="M357.0 384.2L356.6 384.6L350.8 382.2L353.0 373.5L356.3 373.6L357.0 374.5Z" fill="#f05088" stroke="#050308" stroke-width="0.5"/>
<path d="M290.9 388.5L291.8 388.5L290.9 387.5Z" fill="#200818" stroke="#050308" stroke-width="1.3"/>
<path d="M290.9 387.5L291.8 388.5L294.6 388.5L295.4 387.9L297.0 382.2L295.1 381.5L290.9 381.0Z" fill="#e82058" stroke="#050308" stroke-width="1.3"/>
<path d="M303.2 384.8L302.5 388.5L296.2 388.5L295.4 387.9L297.0 382.2L298.5 381.4L302.5 383.0Z" fill="#e82058" stroke="#050308" stroke-width="0.9"/>
<path d="M303.2 384.8L306.8 388.5L309.6 388.5L311.5 384.5L308.1 381.4L302.5 383.0Z" fill="#200818" stroke="#050308" stroke-width="0.7"/>
<path d="M319.1 388.5L315.7 388.5L314.1 384.1L316.1 382.6L321.1 385.6Z" fill="#d01848" stroke="#050308" stroke-width="1.3"/>
<path d="M324.4 388.5L327.3 388.5L328.9 386.4L327.2 381.0L325.1 380.5L321.6 385.6Z" fill="#f05088" stroke="#050308" stroke-width="0.9"/>
<path d="M330.5 379.3L327.2 381.0L328.9 386.4L334.4 386.1L335.9 383.2L334.2 380.7Z" fill="#200818" stroke="#050308" stroke-width="1.2"/>
<path d="M334.4 386.1L335.0 388.5L342.4 388.5L341.8 382.5L335.9 383.2Z" fill="#d01848" stroke="#050308" stroke-width="0.6"/>
<path d="M342.4 388.5L341.8 382.5L344.2 380.2L349.2 382.3L347.6 388.5Z" fill="#d01848" stroke="#050308" stroke-width="0.9"/>
<path d="M355.0 388.5L356.6 384.9L356.6 384.6L350.8 382.2L349.2 382.3L347.6 388.5Z" fill="#e82058" stroke="#050308" stroke-width="0.5"/>
<path d="M357.0 384.2L356.6 384.6L356.6 384.9L357.0 385.4Z" fill="#d01848" stroke="#050308" stroke-width="0.6"/>
<path d="M294.6 388.5L295.4 387.9L296.2 388.5Z" fill="#d01848" stroke="#050308" stroke-width="1.1"/>
<path d="M306.8 388.5L303.2 384.8L302.5 388.5Z" fill="#d01848" stroke="#050308" stroke-width="0.7"/>
<path d="M315.7 388.5L314.1 384.1L311.5 384.5L309.6 388.5Z" fill="#d01848" stroke="#050308" stroke-width="0.8"/>
<path d="M319.1 388.5L321.1 385.6L321.6 385.6L324.4 388.5Z" fill="#f05088" stroke="#050308" stroke-width="0.9"/>
<path d="M335.0 388.5L334.4 386.1L328.9 386.4L327.3 388.5Z" fill="#200818" stroke="#050308" stroke-width="1.3"/>
<path d="M357.0 388.5L355.0 388.5L356.6 384.9L357.0 385.4Z" fill="#f05088" stroke="#050308" stroke-width="0.7"/>
<ellipse cx="297.3" cy="333.4" rx="1.7" ry="1.4" transform="rotate(110 297.3 333.4)" fill="#3a40b8"/>
<ellipse cx="315.4" cy="332.9" rx="1.6" ry="1.3" transform="rotate(45 315.4 332.9)" fill="#2a3098"/>
<ellipse cx="320.2" cy="331.8" rx="0.9" ry="0.7" transform="rotate(47 320.2 331.8)" fill="#2e36a8"/>
<path d="M291.7 332.5L294.0 332.5L295.6 334.8L295.2 335.5L291.7 336.1Z" fill="#050308"/>
<path d="M306.2 337.7L298.8 334.6L301.0 332.6L301.1 332.6L307.0 335.6Z" fill="#050308"/>
<ellipse cx="307.2" cy="334.1" rx="1.8" ry="1.6" transform="rotate(114 307.2 334.1)" fill="#2a3098"/>
<ellipse cx="311.1" cy="333.2" rx="1.8" ry="1.4" transform="rotate(157 311.1 333.2)" fill="#3438a0"/>
<ellipse cx="323.9" cy="334.2" rx="2.3" ry="1.9" transform="rotate(76 323.9 334.2)" fill="#3c44c0"/>
<ellipse cx="329.3" cy="335.1" rx="2.9" ry="2.4" transform="rotate(99 329.3 335.1)" fill="#4a3ab0"/>
<ellipse cx="335.7" cy="335.1" rx="3.2" ry="2.7" transform="rotate(58 335.7 335.1)" fill="#2e36a8"/>
<ellipse cx="343.1" cy="335.7" rx="3.0" ry="2.4" transform="rotate(140 343.1 335.7)" fill="#262c88"/>
<ellipse cx="350.1" cy="333.7" rx="2.5" ry="2.2" transform="rotate(138 350.1 333.7)" fill="#3a40b8"/>
<ellipse cx="355.1" cy="334.7" rx="2.0" ry="1.7" transform="rotate(21 355.1 334.7)" fill="#3a40b8"/>
<ellipse cx="294.0" cy="339.4" rx="2.4" ry="2.0" transform="rotate(145 294.0 339.4)" fill="#3a40b8"/>
<ellipse cx="294.3" cy="343.2" rx="2.3" ry="1.8" transform="rotate(65 294.3 343.2)" fill="#4a3ab0"/>
<ellipse cx="300.4" cy="338.5" rx="3.0" ry="2.8" transform="rotate(66 300.4 338.5)" fill="#2a3098"/>
<ellipse cx="310.9" cy="338.4" rx="3.0" ry="2.9" transform="rotate(159 310.9 338.4)" fill="#2e36a8"/>
<ellipse cx="318.3" cy="338.2" rx="2.6" ry="2.2" transform="rotate(4 318.3 338.2)" fill="#4a3ab0"/>
<ellipse cx="324.6" cy="340.6" rx="3.6" ry="2.8" transform="rotate(15 324.6 340.6)" fill="#4a3ab0"/>
<ellipse cx="331.8" cy="340.7" rx="3.6" ry="2.8" transform="rotate(147 331.8 340.7)" fill="#2a3098"/>
<ellipse cx="340.0" cy="340.9" rx="3.0" ry="2.8" transform="rotate(71 340.0 340.9)" fill="#3a40b8"/>
<ellipse cx="350.7" cy="339.6" rx="3.9" ry="3.7" transform="rotate(13 350.7 339.6)" fill="#4a3ab0"/>
<ellipse cx="356.0" cy="343.2" rx="1.8" ry="1.8" transform="rotate(145 356.0 343.2)" fill="#3a40b8"/>
<ellipse cx="357.0" cy="337.5" rx="0.6" ry="0.5" transform="rotate(2 357.0 337.5)" fill="#4a3ab0"/>
<ellipse cx="294.4" cy="347.5" rx="2.6" ry="2.6" transform="rotate(68 294.4 347.5)" fill="#2a3098"/>
<ellipse cx="299.9" cy="344.4" rx="2.6" ry="2.3" transform="rotate(132 299.9 344.4)" fill="#2e36a8"/>
<ellipse cx="306.4" cy="348.5" rx="3.1" ry="2.7" transform="rotate(105 306.4 348.5)" fill="#3c44c0"/>
<ellipse cx="313.4" cy="346.2" rx="3.0" ry="2.7" transform="rotate(108 313.4 346.2)" fill="#2a3098"/>
<ellipse cx="319.1" cy="347.9" rx="2.9" ry="2.3" transform="rotate(136 319.1 347.9)" fill="#262c88"/>
<ellipse cx="329.8" cy="346.4" rx="3.0" ry="2.6" transform="rotate(72 329.8 346.4)" fill="#3a40b8"/>
<ellipse cx="336.8" cy="347.6" rx="3.8" ry="3.1" transform="rotate(9 336.8 347.6)" fill="#3c44c0"/>
<ellipse cx="343.4" cy="345.6" rx="3.8" ry="3.6" transform="rotate(142 343.4 345.6)" fill="#4a3ab0"/>
<path d="M348.4 348.2L351.1 352.1L355.7 349.5L355.7 348.2L355.2 347.3L352.3 345.5L349.3 345.9Z" fill="#050308"/>
<ellipse cx="357.2" cy="347.5" rx="0.4" ry="0.4" transform="rotate(128 357.2 347.5)" fill="#262c88"/>
<ellipse cx="291.2" cy="352.4" rx="1.0" ry="0.9" transform="rotate(146 291.2 352.4)" fill="#3a40b8"/>
<ellipse cx="297.2" cy="351.7" rx="3.7" ry="2.9" transform="rotate(139 297.2 351.7)" fill="#2e36a8"/>
<path d="M307.0 354.5L307.2 355.8L304.2 358.0L299.3 357.9L298.7 356.6L301.7 353.1Z" fill="#050308"/>
<ellipse cx="313.1" cy="353.9" rx="3.5" ry="3.2" transform="rotate(95 313.1 353.9)" fill="#3a40b8"/>
<ellipse cx="319.6" cy="354.2" rx="2.5" ry="2.4" transform="rotate(55 319.6 354.2)" fill="#4a3ab0"/>
<ellipse cx="325.6" cy="349.7" rx="2.8" ry="2.4" transform="rotate(7 325.6 349.7)" fill="#3c44c0"/>
<ellipse cx="331.7" cy="354.8" rx="3.3" ry="2.7" transform="rotate(14 331.7 354.8)" fill="#3a40b8"/>
<ellipse cx="340.5" cy="356.8" rx="3.6" ry="2.8" transform="rotate(120 340.5 356.8)" fill="#3438a0"/>
<ellipse cx="346.6" cy="352.8" rx="3.8" ry="2.9" transform="rotate(68 346.6 352.8)" fill="#262c88"/>
<ellipse cx="353.8" cy="354.0" rx="2.0" ry="1.9" transform="rotate(152 353.8 354.0)" fill="#2e36a8"/>
<ellipse cx="293.9" cy="359.2" rx="3.4" ry="3.2" transform="rotate(172 293.9 359.2)" fill="#4a3ab0"/>
<ellipse cx="301.0" cy="361.3" rx="2.7" ry="2.6" transform="rotate(59 301.0 361.3)" fill="#262c88"/>
<ellipse cx="307.6" cy="360.3" rx="2.6" ry="2.2" transform="rotate(18 307.6 360.3)" fill="#3c44c0"/>
<ellipse cx="317.7" cy="359.8" rx="2.6" ry="2.2" transform="rotate(151 317.7 359.8)" fill="#2a3098"/>
<ellipse cx="323.8" cy="357.3" rx="2.3" ry="2.0" transform="rotate(139 323.8 357.3)" fill="#2e36a8"/>
<ellipse cx="330.2" cy="361.1" rx="2.9" ry="2.7" transform="rotate(148 330.2 361.1)" fill="#2a3098"/>
<ellipse cx="336.3" cy="359.7" rx="2.9" ry="2.6" transform="rotate(57 336.3 359.7)" fill="#262c88"/>
<ellipse cx="347.6" cy="361.4" rx="2.8" ry="2.4" transform="rotate(62 347.6 361.4)" fill="#3a40b8"/>
<ellipse cx="353.5" cy="359.2" rx="2.5" ry="2.1" transform="rotate(18 353.5 359.2)" fill="#3c44c0"/>
<ellipse cx="357.0" cy="361.6" rx="0.1" ry="0.1" transform="rotate(90 357.0 361.6)" fill="#2a3098"/>
<ellipse cx="292.6" cy="367.6" rx="1.7" ry="1.5" transform="rotate(168 292.6 367.6)" fill="#3438a0"/>
<ellipse cx="297.6" cy="365.8" rx="2.6" ry="2.1" transform="rotate(104 297.6 365.8)" fill="#2a3098"/>
<ellipse cx="304.8" cy="368.0" rx="2.3" ry="2.2" transform="rotate(81 304.8 368.0)" fill="#262c88"/>
<ellipse cx="311.0" cy="363.8" rx="2.7" ry="2.4" transform="rotate(48 311.0 363.8)" fill="#2e36a8"/>
<ellipse cx="317.8" cy="366.9" rx="3.5" ry="3.4" transform="rotate(1 317.8 366.9)" fill="#2e36a8"/>
<ellipse cx="325.6" cy="365.1" rx="3.3" ry="2.6" transform="rotate(99 325.6 365.1)" fill="#2a3098"/>
<ellipse cx="333.6" cy="368.4" rx="3.0" ry="2.4" transform="rotate(136 333.6 368.4)" fill="#3438a0"/>
<ellipse cx="341.2" cy="365.3" rx="2.7" ry="2.1" transform="rotate(36 341.2 365.3)" fill="#3c44c0"/>
<ellipse cx="347.2" cy="367.7" rx="2.6" ry="2.2" transform="rotate(24 347.2 367.7)" fill="#2a3098"/>
<ellipse cx="353.4" cy="364.7" rx="2.9" ry="2.6" transform="rotate(26 353.4 364.7)" fill="#3438a0"/>
<ellipse cx="291.1" cy="371.5" rx="0.6" ry="0.6" transform="rotate(102 291.1 371.5)" fill="#4a3ab0"/>
<ellipse cx="295.0" cy="373.3" rx="2.2" ry="2.1" transform="rotate(149 295.0 373.3)" fill="#3c44c0"/>
<ellipse cx="298.4" cy="370.8" rx="2.6" ry="2.2" transform="rotate(163 298.4 370.8)" fill="#4a3ab0"/>
<ellipse cx="308.5" cy="372.2" rx="2.4" ry="2.0" transform="rotate(58 308.5 372.2)" fill="#3438a0"/>
<ellipse cx="314.9" cy="372.0" rx="3.8" ry="3.3" transform="rotate(90 314.9 372.0)" fill="#3c44c0"/>
<ellipse cx="322.7" cy="372.7" rx="2.9" ry="2.6" transform="rotate(118 322.7 372.7)" fill="#2a3098"/>
<ellipse cx="329.9" cy="372.0" rx="3.0" ry="2.8" transform="rotate(156 329.9 372.0)" fill="#3c44c0"/>
<ellipse cx="339.7" cy="373.1" rx="3.4" ry="2.7" transform="rotate(13 339.7 373.1)" fill="#4a3ab0"/>
<ellipse cx="344.5" cy="370.3" rx="1.9" ry="1.4" transform="rotate(44 344.5 370.3)" fill="#262c88"/>
<ellipse cx="353.5" cy="371.4" rx="2.5" ry="2.2" transform="rotate(25 353.5 371.4)" fill="#3c44c0"/>
<ellipse cx="356.5" cy="373.4" rx="0.4" ry="0.3" transform="rotate(90 356.5 373.4)" fill="#3a40b8"/>
<ellipse cx="292.0" cy="376.6" rx="2.1" ry="2.0" transform="rotate(125 292.0 376.6)" fill="#3a40b8"/>
<path d="M295.5 380.8L293.5 376.4L298.7 377.6L297.9 380.8L296.8 381.4Z" fill="#050308"/>
<ellipse cx="303.4" cy="377.1" rx="4.0" ry="3.9" transform="rotate(179 303.4 377.1)" fill="#3438a0"/>
<ellipse cx="312.0" cy="380.5" rx="3.6" ry="3.3" transform="rotate(55 312.0 380.5)" fill="#2e36a8"/>
<ellipse cx="320.0" cy="380.5" rx="3.9" ry="3.2" transform="rotate(172 320.0 380.5)" fill="#2a3098"/>
<ellipse cx="326.5" cy="378.7" rx="2.4" ry="2.2" transform="rotate(35 326.5 378.7)" fill="#2e36a8"/>
<ellipse cx="333.6" cy="376.1" rx="2.4" ry="2.3" transform="rotate(94 333.6 376.1)" fill="#3a40b8"/>
<ellipse cx="340.0" cy="380.2" rx="3.3" ry="3.1" transform="rotate(50 340.0 380.2)" fill="#2a3098"/>
<ellipse cx="348.5" cy="376.4" rx="3.4" ry="2.6" transform="rotate(163 348.5 376.4)" fill="#4a3ab0"/>
<path d="M356.4 382.6L356.1 382.8L352.1 381.2L353.6 375.0L356.0 375.1L356.4 375.8Z" fill="#050308"/>
<ellipse cx="291.1" cy="388.2" rx="0.3" ry="0.2" transform="rotate(136 291.1 388.2)" fill="#2a3098"/>
<ellipse cx="293.7" cy="384.9" rx="2.3" ry="2.3" transform="rotate(6 293.7 384.9)" fill="#2a3098"/>
<ellipse cx="299.2" cy="385.7" rx="3.3" ry="2.6" transform="rotate(12 299.2 385.7)" fill="#262c88"/>
<ellipse cx="306.7" cy="385.1" rx="3.2" ry="2.8" transform="rotate(91 306.7 385.1)" fill="#2e36a8"/>
<ellipse cx="317.3" cy="386.4" rx="2.3" ry="2.1" transform="rotate(139 317.3 386.4)" fill="#2a3098"/>
<ellipse cx="325.9" cy="385.2" rx="2.5" ry="2.4" transform="rotate(142 325.9 385.2)" fill="#3a40b8"/>
<ellipse cx="331.5" cy="382.9" rx="3.0" ry="2.5" transform="rotate(36 331.5 382.9)" fill="#262c88"/>
<ellipse cx="337.8" cy="386.2" rx="2.5" ry="2.0" transform="rotate(3 337.8 386.2)" fill="#3a40b8"/>
<ellipse cx="345.0" cy="384.1" rx="3.2" ry="2.4" transform="rotate(21 345.0 384.1)" fill="#3c44c0"/>
<ellipse cx="352.7" cy="385.4" rx="3.1" ry="2.5" transform="rotate(56 352.7 385.4)" fill="#4a3ab0"/>
<path d="M356.9 384.4L356.7 384.6L356.6 384.9L356.9 385.2Z" fill="#050308"/>
<ellipse cx="295.4" cy="388.0" rx="0.3" ry="0.3" transform="rotate(117 295.4 388.0)" fill="#4a3ab0"/>
<ellipse cx="303.9" cy="387.3" rx="1.1" ry="1.1" transform="rotate(142 303.9 387.3)" fill="#3438a0"/>
<ellipse cx="312.6" cy="386.1" rx="2.0" ry="1.5" transform="rotate(136 312.6 386.1)" fill="#2e36a8"/>
<ellipse cx="321.8" cy="387.1" rx="1.2" ry="0.9" transform="rotate(74 321.8 387.1)" fill="#2e36a8"/>
<ellipse cx="331.5" cy="387.3" rx="1.4" ry="1.4" transform="rotate(122 331.5 387.3)" fill="#2e36a8"/>
<ellipse cx="356.5" cy="386.6" rx="1.0" ry="0.9" transform="rotate(44 356.5 386.6)" fill="#2e36a8"/>
</g>
<path d="M298.5 374.9 h3.3 v-1.6 l3.3 3.1 l-3.3 3.1 v-1.6 h-3.3 z" fill="#f2e600"/>
<g filter="url(#bl0_5)"><circle cx="309.6" cy="376.4" r="2.4" fill="#ffffff"/></g>
</g>
<clipPath id="cl23"><rect x="292.9" y="389.0" width="62.1" height="52.6"/></clipPath>
<g clip-path="url(#cl23)">
<rect x="292.9" y="389.0" width="62.1" height="52.6" fill="#040612" stroke="none" stroke-width="0"/>
<g filter="url(#bl0_8)">
<path d="M300.4 387.0L292.6 387.0L296.6 388.6L297.6 388.6Z" fill="#40c85a" stroke="#050308" stroke-width="0.9"/>
<path d="M302.5 387.0L307.0 387.0L307.0 387.0L303.4 387.3Z" fill="#40c85a" stroke="#050308" stroke-width="0.5"/>
<path d="M327.0 387.0L325.6 387.3L325.2 387.0Z" fill="#78e0a0" stroke="#050308" stroke-width="1.3"/>
<path d="M350.9 387.0L349.1 389.6L344.1 387.0Z" fill="#38b8c8" stroke="#050308" stroke-width="1.1"/>
<path d="M290.9 387.0L292.5 387.0L290.9 389.0Z" fill="#40c85a" stroke="#050308" stroke-width="1.0"/>
<path d="M290.9 396.1L290.9 389.0L292.5 387.0L292.6 387.0L296.6 388.6L293.5 396.1L291.0 396.7Z" fill="#78e0a0" stroke="#050308" stroke-width="1.1"/>
<path d="M302.5 387.0L300.4 387.0L297.6 388.6L300.0 396.2L300.4 396.1L303.1 394.4L303.4 387.3Z" fill="#38b880" stroke="#050308" stroke-width="0.5"/>
<path d="M303.4 387.3L307.0 387.0L309.2 391.0L306.5 395.2L303.1 394.4Z" fill="#060c14" stroke="#050308" stroke-width="0.7"/>
<path d="M307.0 387.0L307.0 387.0L309.2 391.0L314.5 393.0L316.7 387.0Z" fill="#38b8c8" stroke="#050308" stroke-width="0.9"/>
<path d="M325.2 387.0L325.6 387.3L325.3 390.4L315.6 395.6L314.5 393.0L316.7 387.0Z" fill="#38b8c8" stroke="#050308" stroke-width="0.8"/>
<path d="M326.1 393.1L328.5 395.5L333.2 395.3L335.3 393.7L335.1 387.0L327.0 387.0L325.6 387.3L325.3 390.4Z" fill="#40c85a" stroke="#050308" stroke-width="0.8"/>
<path d="M342.1 392.0L342.4 387.0L335.1 387.0L335.3 393.7L338.6 395.7Z" fill="#38b880" stroke="#050308" stroke-width="1.2"/>
<path d="M346.0 396.1L350.4 392.2L349.1 389.6L344.1 387.0L342.4 387.0L342.1 392.0Z" fill="#38b880" stroke="#050308" stroke-width="1.0"/>
<path d="M350.4 392.2L349.1 389.6L350.9 387.0L357.0 387.0L357.0 389.9L351.6 392.7Z" fill="#38b880" stroke="#050308" stroke-width="1.1"/>
<path d="M290.9 396.8L291.0 396.7L290.9 396.1Z" fill="#40c85a" stroke="#050308" stroke-width="1.2"/>
<path d="M297.6 388.6L296.6 388.6L293.5 396.1L298.9 397.4L300.0 396.2Z" fill="#060c14" stroke="#050308" stroke-width="0.5"/>
<path d="M308.0 398.3L306.5 395.2L303.1 394.4L300.4 396.1L306.2 399.8Z" fill="#38b8c8" stroke="#050308" stroke-width="1.2"/>
<path d="M308.0 398.3L306.5 395.2L309.2 391.0L314.5 393.0L315.6 395.6L315.6 396.6L310.8 399.0Z" fill="#78e0a0" stroke="#050308" stroke-width="0.5"/>
<path d="M315.6 395.6L325.3 390.4L326.1 393.1L321.9 398.3L317.6 398.9L315.6 396.6Z" fill="#78e0a0" stroke="#050308" stroke-width="1.1"/>
<path d="M321.9 398.3L326.8 402.3L327.9 402.1L328.5 395.5L326.1 393.1Z" fill="#78e0a0" stroke="#050308" stroke-width="1.3"/>
<path d="M333.9 401.2L339.7 400.4L340.5 399.6L338.6 395.7L335.3 393.7L333.2 395.3Z" fill="#060c14" stroke="#050308" stroke-width="1.0"/>
<path d="M346.0 396.1L342.1 392.0L338.6 395.7L340.5 399.6L344.7 399.6Z" fill="#060c14" stroke="#050308" stroke-width="0.6"/>
<path d="M353.2 400.1L345.7 400.7L344.7 399.6L346.0 396.1L350.4 392.2L351.6 392.7L354.4 397.8Z" fill="#40c85a" stroke="#050308" stroke-width="0.9"/>
<path d="M357.0 397.6L357.0 389.9L351.6 392.7L354.4 397.8Z" fill="#38b880" stroke="#050308" stroke-width="1.3"/>
<path d="M290.9 403.4L294.2 405.6L298.1 405.6L299.9 404.5L298.9 397.4L293.5 396.1L291.0 396.7L290.9 396.8Z" fill="#78e0a0" stroke="#050308" stroke-width="1.0"/>
<path d="M302.9 405.0L299.9 404.5L298.9 397.4L300.0 396.2L300.4 396.1L306.2 399.8Z" fill="#78e0a0" stroke="#050308" stroke-width="1.3"/>
<path d="M308.2 407.8L310.6 405.5L310.8 399.0L308.0 398.3L306.2 399.8L302.9 405.0L306.7 408.1Z" fill="#38b880" stroke="#050308" stroke-width="1.1"/>
<path d="M310.6 405.5L317.9 404.9L318.1 404.8L317.6 398.9L315.6 396.6L310.8 399.0Z" fill="#78e0a0" stroke="#050308" stroke-width="0.8"/>
<path d="M317.6 398.9L318.1 404.8L322.8 405.8L326.8 402.3L321.9 398.3Z" fill="#40c85a" stroke="#050308" stroke-width="0.6"/>
<path d="M329.9 403.2L332.2 402.9L333.9 401.2L333.2 395.3L328.5 395.5L327.9 402.1Z" fill="#40c85a" stroke="#050308" stroke-width="0.8"/>
<path d="M339.1 407.1L339.7 400.4L333.9 401.2L332.2 402.9L336.7 408.2Z" fill="#40c85a" stroke="#050308" stroke-width="0.5"/>
<path d="M343.1 408.6L346.2 403.8L345.7 400.7L344.7 399.6L340.5 399.6L339.7 400.4L339.1 407.1Z" fill="#38b880" stroke="#050308" stroke-width="0.8"/>
<path d="M354.4 405.5L351.9 407.3L346.2 403.8L345.7 400.7L353.2 400.1Z" fill="#060c14" stroke="#050308" stroke-width="1.2"/>
<path d="M357.0 397.6L354.4 397.8L353.2 400.1L354.4 405.5L357.0 406.1Z" fill="#78e0a0" stroke="#050308" stroke-width="1.2"/>
<path d="M290.9 410.5L292.7 409.0L294.2 405.6L290.9 403.4Z" fill="#40c85a" stroke="#050308" stroke-width="0.6"/>
<path d="M296.0 415.9L298.3 412.2L298.1 405.6L294.2 405.6L292.7 409.0Z" fill="#78e0a0" stroke="#050308" stroke-width="0.7"/>
<path d="M306.7 408.1L305.3 413.2L298.3 412.2L298.1 405.6L299.9 404.5L302.9 405.0Z" fill="#060c14" stroke="#050308" stroke-width="0.8"/>
<path d="M308.2 407.8L313.8 412.1L317.1 409.6L317.9 404.9L310.6 405.5Z" fill="#060c14" stroke="#050308" stroke-width="0.7"/>
<path d="M318.1 404.8L317.9 404.9L317.1 409.6L321.8 413.7L325.0 411.1L322.8 405.8Z" fill="#40c85a" stroke="#050308" stroke-width="1.0"/>
<path d="M329.9 403.2L329.3 411.7L325.0 411.1L322.8 405.8L326.8 402.3L327.9 402.1Z" fill="#78e0a0" stroke="#050308" stroke-width="0.7"/>
<path d="M330.4 412.5L335.9 409.6L336.7 408.2L332.2 402.9L329.9 403.2L329.3 411.7L330.2 412.4Z" fill="#060c14" stroke="#050308" stroke-width="1.3"/>
<path d="M344.9 412.3L343.1 408.6L339.1 407.1L336.7 408.2L335.9 409.6L339.2 414.9L339.4 415.0Z" fill="#78e0a0" stroke="#050308" stroke-width="1.3"/>
<path d="M344.9 412.3L343.1 408.6L346.2 403.8L351.9 407.3L350.4 411.5L345.5 412.6Z" fill="#060c14" stroke="#050308" stroke-width="0.6"/>
<path d="M354.0 415.1L357.0 413.2L357.0 406.1L354.4 405.5L351.9 407.3L350.4 411.5Z" fill="#78e0a0" stroke="#050308" stroke-width="1.1"/>
<path d="M296.0 415.9L292.7 409.0L290.9 410.5L290.9 415.5L296.0 416.0Z" fill="#78e0a0" stroke="#050308" stroke-width="0.8"/>
<path d="M296.0 415.9L298.3 412.2L305.3 413.2L306.0 418.1L297.8 418.9L297.1 418.2L296.0 416.0Z" fill="#38b880" stroke="#050308" stroke-width="1.0"/>
<path d="M308.2 407.8L313.8 412.1L313.8 417.5L306.3 418.4L306.0 418.1L305.3 413.2L306.7 408.1Z" fill="#38b8c8" stroke="#050308" stroke-width="0.5"/>
<path d="M313.8 412.1L313.8 417.5L315.4 418.6L320.6 417.6L321.8 413.7L317.1 409.6Z" fill="#38b880" stroke="#050308" stroke-width="0.7"/>
<path d="M322.8 419.6L320.6 417.6L321.8 413.7L325.0 411.1L329.3 411.7L330.2 412.4Z" fill="#38b8c8" stroke="#050308" stroke-width="0.6"/>
<path d="M323.6 420.5L330.5 418.5L331.6 416.1L330.4 412.5L330.2 412.4L322.8 419.6Z" fill="#40c85a" stroke="#050308" stroke-width="0.6"/>
<path d="M339.2 414.9L335.9 409.6L330.4 412.5L331.6 416.1L335.6 417.1Z" fill="#40c85a" stroke="#050308" stroke-width="0.8"/>
<path d="M342.2 422.2L339.4 415.0L344.9 412.3L345.5 412.6L346.1 419.7L345.6 421.8Z" fill="#38b8c8" stroke="#050308" stroke-width="0.8"/>
<path d="M346.1 419.7L353.6 416.1L354.1 415.3L354.0 415.1L350.4 411.5L345.5 412.6Z" fill="#40c85a" stroke="#050308" stroke-width="1.1"/>
<path d="M354.1 415.3L357.0 417.9L357.0 413.2L354.0 415.1Z" fill="#40c85a" stroke="#050308" stroke-width="1.0"/>
<path d="M290.9 415.5L296.0 416.0L297.1 418.2L290.9 421.4Z" fill="#38b8c8" stroke="#050308" stroke-width="0.9"/>
<path d="M297.8 418.9L297.5 422.7L292.7 427.0L290.9 427.6L290.9 421.4L297.1 418.2Z" fill="#78e0a0" stroke="#050308" stroke-width="1.0"/>
<path d="M306.0 418.1L306.3 418.4L306.4 425.3L303.7 428.4L297.5 422.7L297.8 418.9Z" fill="#38b8c8" stroke="#050308" stroke-width="1.1"/>
<path d="M315.2 424.1L315.4 418.6L313.8 417.5L306.3 418.4L306.4 425.3L307.5 425.6Z" fill="#060c14" stroke="#050308" stroke-width="1.1"/>
<path d="M323.6 420.5L324.0 424.4L320.2 427.2L316.7 426.8L315.2 424.1L315.4 418.6L320.6 417.6L322.8 419.6Z" fill="#40c85a" stroke="#050308" stroke-width="0.9"/>
<path d="M323.6 420.5L324.0 424.4L325.8 425.4L331.8 422.6L330.5 418.5Z" fill="#38b8c8" stroke="#050308" stroke-width="1.2"/>
<path d="M333.2 423.6L331.8 422.6L330.5 418.5L331.6 416.1L335.6 417.1L337.2 421.4Z" fill="#78e0a0" stroke="#050308" stroke-width="1.2"/>
<path d="M342.2 422.2L341.2 422.7L337.2 421.4L335.6 417.1L339.2 414.9L339.4 415.0Z" fill="#38b8c8" stroke="#050308" stroke-width="0.9"/>
<path d="M345.6 421.8L349.1 425.0L352.4 423.8L353.6 416.1L346.1 419.7Z" fill="#78e0a0" stroke="#050308" stroke-width="0.5"/>
<path d="M354.1 415.3L357.0 417.9L357.0 423.0L355.2 424.1L352.4 423.8L353.6 416.1Z" fill="#38b880" stroke="#050308" stroke-width="1.1"/>
<path d="M294.8 433.2L290.9 429.0L290.9 427.6L292.7 427.0L300.6 430.4Z" fill="#060c14" stroke="#050308" stroke-width="1.2"/>
<path d="M303.1 430.5L303.7 428.4L297.5 422.7L292.7 427.0L300.6 430.4Z" fill="#38b880" stroke="#050308" stroke-width="0.7"/>
<path d="M303.1 430.6L309.5 435.0L313.7 430.9L307.5 425.6L306.4 425.3L303.7 428.4L303.1 430.5Z" fill="#060c14" stroke="#050308" stroke-width="1.0"/>
<path d="M313.7 430.9L307.5 425.6L315.2 424.1L316.7 426.8L314.0 430.8Z" fill="#40c85a" stroke="#050308" stroke-width="0.5"/>
<path d="M324.0 424.4L320.2 427.2L322.8 435.2L328.1 429.3L325.8 425.4Z" fill="#38b8c8" stroke="#050308" stroke-width="1.0"/>
<path d="M333.2 423.6L331.8 422.6L325.8 425.4L328.1 429.3L329.3 429.5L333.7 427.3Z" fill="#40c85a" stroke="#050308" stroke-width="1.3"/>
<path d="M333.2 423.6L337.2 421.4L341.2 422.7L339.0 428.8L336.7 429.1L333.7 427.3Z" fill="#38b880" stroke="#050308" stroke-width="1.1"/>
<path d="M342.2 422.2L341.2 422.7L339.0 428.8L344.2 433.4L345.9 432.9L348.6 430.4L349.1 425.0L345.6 421.8Z" fill="#38b8c8" stroke="#050308" stroke-width="0.7"/>
<path d="M352.4 423.8L349.1 425.0L348.6 430.4L354.1 432.4L357.0 431.2L357.0 427.9L355.2 424.1Z" fill="#38b880" stroke="#050308" stroke-width="0.6"/>
<path d="M357.0 423.0L355.2 424.1L357.0 427.9Z" fill="#78e0a0" stroke="#050308" stroke-width="0.8"/>
<path d="M295.4 438.0L294.7 438.7L290.9 437.7L290.9 429.0L294.8 433.2Z" fill="#38b8c8" stroke="#050308" stroke-width="0.6"/>
<path d="M303.1 430.6L300.3 437.0L295.4 438.0L294.8 433.2L300.6 430.4L303.1 430.5Z" fill="#40c85a" stroke="#050308" stroke-width="0.8"/>
<path d="M303.1 430.6L309.5 435.0L309.7 436.2L304.8 441.4L303.0 440.5L300.3 437.0Z" fill="#40c85a" stroke="#050308" stroke-width="0.8"/>
<path d="M319.4 435.9L314.0 430.8L313.7 430.9L309.5 435.0L309.7 436.2L311.3 437.6Z" fill="#060c14" stroke="#050308" stroke-width="1.2"/>
<path d="M321.9 436.9L321.9 436.9L322.6 436.1L322.8 435.2L320.2 427.2L316.7 426.8L314.0 430.8L319.4 435.9Z" fill="#40c85a" stroke="#050308" stroke-width="1.2"/>
<path d="M328.1 429.3L329.3 429.5L332.7 436.3L322.6 436.1L322.8 435.2Z" fill="#40c85a" stroke="#050308" stroke-width="0.7"/>
<path d="M333.7 427.3L329.3 429.5L332.7 436.3L333.4 436.7L336.7 429.1Z" fill="#78e0a0" stroke="#050308" stroke-width="0.7"/>
<path d="M336.7 429.1L333.4 436.7L333.4 436.7L341.5 437.4L344.2 433.4L339.0 428.8Z" fill="#40c85a" stroke="#050308" stroke-width="0.5"/>
<path d="M351.4 440.7L345.9 432.9L348.6 430.4L354.1 432.4L354.3 434.5Z" fill="#40c85a" stroke="#050308" stroke-width="0.6"/>
<path d="M357.0 437.0L354.3 434.5L354.1 432.4L357.0 431.2Z" fill="#060c14" stroke="#050308" stroke-width="0.5"/>
<path d="M290.9 443.6L290.9 437.7L294.7 438.7L294.8 443.6Z" fill="#38b880" stroke="#050308" stroke-width="0.6"/>
<path d="M299.0 443.6L303.0 440.5L300.3 437.0L295.4 438.0L294.7 438.7L294.8 443.6Z" fill="#78e0a0" stroke="#050308" stroke-width="0.5"/>
<path d="M314.0 443.4L313.5 443.6L305.6 443.6L304.8 441.4L309.7 436.2L311.3 437.6Z" fill="#38b880" stroke="#050308" stroke-width="1.1"/>
<path d="M315.1 443.6L314.0 443.4L311.3 437.6L319.4 435.9L321.9 436.9L316.3 443.6Z" fill="#40c85a" stroke="#050308" stroke-width="0.8"/>
<path d="M324.2 443.6L316.3 443.6L321.9 436.9L321.9 436.9L325.0 441.5Z" fill="#40c85a" stroke="#050308" stroke-width="0.9"/>
<path d="M331.5 443.6L325.0 441.5L321.9 436.9L322.6 436.1L332.7 436.3L333.4 436.7L333.4 436.7L332.1 443.6Z" fill="#78e0a0" stroke="#050308" stroke-width="0.5"/>
<path d="M342.4 443.6L342.6 443.5L341.5 437.4L333.4 436.7L332.1 443.6Z" fill="#38b8c8" stroke="#050308" stroke-width="0.7"/>
<path d="M351.7 442.1L351.1 443.6L342.8 443.6L342.6 443.5L341.5 437.4L344.2 433.4L345.9 432.9L351.4 440.7Z" fill="#38b8c8" stroke="#050308" stroke-width="0.6"/>
<path d="M357.0 437.0L354.3 434.5L351.4 440.7L351.7 442.1L357.0 440.5Z" fill="#40c85a" stroke="#050308" stroke-width="0.6"/>
<path d="M305.6 443.6L304.8 441.4L303.0 440.5L299.0 443.6Z" fill="#40c85a" stroke="#050308" stroke-width="0.7"/>
<path d="M315.1 443.6L314.0 443.4L313.5 443.6Z" fill="#40c85a" stroke="#050308" stroke-width="0.5"/>
<path d="M331.5 443.6L325.0 441.5L324.2 443.6Z" fill="#38b8c8" stroke="#050308" stroke-width="0.9"/>
<path d="M342.8 443.6L342.6 443.5L342.4 443.6Z" fill="#38b880" stroke="#050308" stroke-width="0.9"/>
<path d="M357.0 443.6L357.0 440.5L351.7 442.1L351.1 443.6Z" fill="#38b8c8" stroke="#050308" stroke-width="0.5"/>
<path d="M299.3 387.2L293.9 387.2L296.6 388.4L297.4 388.4Z" fill="#050308"/>
<ellipse cx="305.0" cy="387.2" rx="0.3" ry="0.3" transform="rotate(103 305.0 387.2)" fill="#222a80"/>
<ellipse cx="326.2" cy="386.9" rx="0.2" ry="0.2" transform="rotate(120 326.2 386.9)" fill="#2a58a8"/>
<ellipse cx="348.4" cy="387.9" rx="1.4" ry="1.1" transform="rotate(52 348.4 387.9)" fill="#2632a0"/>
<ellipse cx="291.6" cy="387.9" rx="0.6" ry="0.5" transform="rotate(142 291.6 387.9)" fill="#24308a"/>
<ellipse cx="293.1" cy="391.0" rx="2.3" ry="1.9" transform="rotate(114 293.1 391.0)" fill="#222a80"/>
<ellipse cx="301.6" cy="391.1" rx="2.5" ry="2.0" transform="rotate(36 301.6 391.1)" fill="#2a58a8"/>
<ellipse cx="305.8" cy="391.2" rx="2.6" ry="2.1" transform="rotate(70 305.8 391.2)" fill="#3446b8"/>
<ellipse cx="311.4" cy="388.5" rx="2.6" ry="2.6" transform="rotate(96 311.4 388.5)" fill="#222a80"/>
<ellipse cx="321.1" cy="390.1" rx="3.5" ry="2.8" transform="rotate(28 321.1 390.1)" fill="#2c3ab0"/>
<ellipse cx="329.9" cy="391.0" rx="3.3" ry="3.3" transform="rotate(175 329.9 391.0)" fill="#24308a"/>
<ellipse cx="338.1" cy="390.7" rx="3.2" ry="2.7" transform="rotate(103 338.1 390.7)" fill="#2a58a8"/>
<ellipse cx="346.2" cy="390.1" rx="2.4" ry="2.1" transform="rotate(129 346.2 390.1)" fill="#222a80"/>
<ellipse cx="353.0" cy="390.1" rx="2.5" ry="2.3" transform="rotate(81 353.0 390.1)" fill="#3446b8"/>
<ellipse cx="291.3" cy="396.6" rx="0.1" ry="0.1" transform="rotate(136 291.3 396.6)" fill="#3446b8"/>
<ellipse cx="297.5" cy="393.2" rx="2.8" ry="2.2" transform="rotate(64 297.5 393.2)" fill="#222a80"/>
<ellipse cx="305.3" cy="396.5" rx="1.8" ry="1.5" transform="rotate(6 305.3 396.5)" fill="#2632a0"/>
<ellipse cx="311.3" cy="395.2" rx="3.3" ry="2.5" transform="rotate(69 311.3 395.2)" fill="#2a58a8"/>
<ellipse cx="320.5" cy="395.0" rx="2.5" ry="2.1" transform="rotate(102 320.5 395.0)" fill="#202a90"/>
<ellipse cx="326.0" cy="398.0" rx="2.0" ry="1.9" transform="rotate(164 326.0 398.0)" fill="#202a90"/>
<ellipse cx="337.1" cy="397.7" rx="2.6" ry="2.2" transform="rotate(109 337.1 397.7)" fill="#202a90"/>
<ellipse cx="342.3" cy="396.9" rx="2.4" ry="2.3" transform="rotate(55 342.3 396.9)" fill="#2a58a8"/>
<ellipse cx="349.4" cy="397.1" rx="3.0" ry="2.3" transform="rotate(132 349.4 397.1)" fill="#222a80"/>
<ellipse cx="355.1" cy="394.0" rx="2.1" ry="1.6" transform="rotate(87 355.1 394.0)" fill="#3446b8"/>
<ellipse cx="294.9" cy="401.1" rx="3.3" ry="2.7" transform="rotate(69 294.9 401.1)" fill="#24308a"/>
<ellipse cx="301.6" cy="399.4" rx="2.6" ry="2.6" transform="rotate(69 301.6 399.4)" fill="#3446b8"/>
<ellipse cx="307.5" cy="403.6" rx="3.2" ry="2.7" transform="rotate(74 307.5 403.6)" fill="#2632a0"/>
<ellipse cx="315.3" cy="402.0" rx="3.6" ry="2.8" transform="rotate(180 315.3 402.0)" fill="#222a80"/>
<ellipse cx="321.5" cy="401.6" rx="2.3" ry="2.1" transform="rotate(65 321.5 401.6)" fill="#2a58a8"/>
<ellipse cx="330.7" cy="399.6" rx="2.2" ry="2.1" transform="rotate(75 330.7 399.6)" fill="#2c3ab0"/>
<ellipse cx="335.9" cy="403.9" rx="1.9" ry="1.9" transform="rotate(14 335.9 403.9)" fill="#3446b8"/>
<ellipse cx="343.0" cy="402.7" rx="3.5" ry="2.6" transform="rotate(128 343.0 402.7)" fill="#222a80"/>
<ellipse cx="350.6" cy="402.9" rx="3.1" ry="2.7" transform="rotate(167 350.6 402.9)" fill="#222a80"/>
<ellipse cx="355.3" cy="401.1" rx="1.8" ry="1.6" transform="rotate(176 355.3 401.1)" fill="#2a58a8"/>
<ellipse cx="291.9" cy="407.4" rx="1.3" ry="1.2" transform="rotate(42 291.9 407.4)" fill="#222a80"/>
<ellipse cx="296.1" cy="409.7" rx="2.7" ry="2.0" transform="rotate(22 296.1 409.7)" fill="#2c3ab0"/>
<ellipse cx="302.1" cy="408.1" rx="3.3" ry="3.0" transform="rotate(90 302.1 408.1)" fill="#222a80"/>
<ellipse cx="313.7" cy="407.9" rx="2.7" ry="2.2" transform="rotate(105 313.7 407.9)" fill="#2632a0"/>
<ellipse cx="320.0" cy="408.3" rx="2.8" ry="2.3" transform="rotate(42 320.0 408.3)" fill="#2c3ab0"/>
<ellipse cx="326.7" cy="406.0" rx="2.5" ry="2.4" transform="rotate(18 326.7 406.0)" fill="#222a80"/>
<ellipse cx="332.1" cy="408.7" rx="2.3" ry="2.3" transform="rotate(122 332.1 408.7)" fill="#202a90"/>
<ellipse cx="339.2" cy="410.5" rx="3.0" ry="2.6" transform="rotate(81 339.2 410.5)" fill="#222a80"/>
<ellipse cx="347.6" cy="409.3" rx="2.2" ry="2.1" transform="rotate(96 347.6 409.3)" fill="#2632a0"/>
<ellipse cx="354.5" cy="409.4" rx="2.4" ry="2.1" transform="rotate(1 354.5 409.4)" fill="#202a90"/>
<ellipse cx="293.3" cy="413.2" rx="2.1" ry="1.9" transform="rotate(1 293.3 413.2)" fill="#2632a0"/>
<ellipse cx="299.8" cy="415.6" rx="3.1" ry="3.1" transform="rotate(175 299.8 415.6)" fill="#24308a"/>
<ellipse cx="308.7" cy="413.3" rx="3.4" ry="3.2" transform="rotate(72 308.7 413.3)" fill="#2a58a8"/>
<ellipse cx="316.5" cy="415.4" rx="2.8" ry="2.6" transform="rotate(60 316.5 415.4)" fill="#2632a0"/>
<ellipse cx="325.4" cy="414.1" rx="2.6" ry="2.0" transform="rotate(146 325.4 414.1)" fill="#3446b8"/>
<ellipse cx="328.4" cy="416.7" rx="2.5" ry="1.9" transform="rotate(74 328.4 416.7)" fill="#2c3ab0"/>
<ellipse cx="334.1" cy="413.5" rx="2.2" ry="1.8" transform="rotate(91 334.1 413.5)" fill="#202a90"/>
<ellipse cx="343.4" cy="417.8" rx="2.9" ry="2.4" transform="rotate(42 343.4 417.8)" fill="#2a58a8"/>
<path d="M347.5 418.3L352.7 415.8L353.0 415.3L353.0 415.1L350.5 412.5L347.0 413.3Z" fill="#050308"/>
<ellipse cx="355.0" cy="415.4" rx="1.3" ry="1.1" transform="rotate(30 355.0 415.4)" fill="#2c3ab0"/>
<ellipse cx="294.1" cy="417.3" rx="1.9" ry="1.9" transform="rotate(3 294.1 417.3)" fill="#24308a"/>
<ellipse cx="294.9" cy="423.1" rx="2.8" ry="2.5" transform="rotate(104 294.9 423.1)" fill="#202a90"/>
<ellipse cx="302.9" cy="421.8" rx="3.6" ry="3.2" transform="rotate(12 302.9 421.8)" fill="#202a90"/>
<path d="M313.8 423.3L314.0 419.5L312.9 418.7L307.7 419.3L307.7 424.2L308.5 424.4Z" fill="#050308"/>
<ellipse cx="319.7" cy="422.9" rx="3.2" ry="2.7" transform="rotate(164 319.7 422.9)" fill="#24308a"/>
<ellipse cx="327.4" cy="422.1" rx="2.3" ry="2.2" transform="rotate(107 327.4 422.1)" fill="#2a58a8"/>
<ellipse cx="333.6" cy="419.5" rx="2.6" ry="2.1" transform="rotate(157 333.6 419.5)" fill="#222a80"/>
<ellipse cx="339.0" cy="419.0" rx="2.2" ry="2.0" transform="rotate(115 339.0 419.0)" fill="#2a58a8"/>
<ellipse cx="349.4" cy="421.1" rx="2.8" ry="2.5" transform="rotate(7 349.4 421.1)" fill="#2a58a8"/>
<ellipse cx="354.6" cy="420.0" rx="2.0" ry="1.6" transform="rotate(83 354.6 420.0)" fill="#2c3ab0"/>
<path d="M294.5 432.0L291.8 429.1L291.8 428.1L293.1 427.7L298.6 430.1Z" fill="#050308"/>
<ellipse cx="299.6" cy="427.4" rx="2.5" ry="1.9" transform="rotate(60 299.6 427.4)" fill="#222a80"/>
<ellipse cx="306.1" cy="429.8" rx="3.3" ry="3.0" transform="rotate(140 306.1 429.8)" fill="#2c3ab0"/>
<ellipse cx="313.1" cy="428.2" rx="2.6" ry="2.2" transform="rotate(121 313.1 428.2)" fill="#3446b8"/>
<ellipse cx="323.7" cy="427.9" rx="3.2" ry="2.7" transform="rotate(138 323.7 427.9)" fill="#24308a"/>
<ellipse cx="330.8" cy="426.4" rx="2.3" ry="1.9" transform="rotate(65 330.8 426.4)" fill="#24308a"/>
<ellipse cx="336.4" cy="425.6" rx="2.4" ry="2.1" transform="rotate(20 336.4 425.6)" fill="#2632a0"/>
<ellipse cx="344.4" cy="427.6" rx="3.1" ry="2.8" transform="rotate(112 344.4 427.6)" fill="#3446b8"/>
<ellipse cx="353.1" cy="427.5" rx="3.0" ry="2.4" transform="rotate(38 353.1 427.5)" fill="#2c3ab0"/>
<ellipse cx="356.3" cy="424.7" rx="0.9" ry="0.7" transform="rotate(112 356.3 424.7)" fill="#2632a0"/>
<ellipse cx="293.5" cy="435.2" rx="2.4" ry="1.8" transform="rotate(132 293.5 435.2)" fill="#2632a0"/>
<ellipse cx="300.0" cy="432.8" rx="2.5" ry="2.0" transform="rotate(70 300.0 432.8)" fill="#202a90"/>
<ellipse cx="305.4" cy="436.4" rx="3.4" ry="2.5" transform="rotate(98 305.4 436.4)" fill="#3446b8"/>
<ellipse cx="313.1" cy="434.0" rx="2.4" ry="2.1" transform="rotate(11 313.1 434.0)" fill="#2c3ab0"/>
<ellipse cx="319.9" cy="433.7" rx="2.7" ry="2.2" transform="rotate(163 319.9 433.7)" fill="#3446b8"/>
<ellipse cx="327.4" cy="433.6" rx="2.4" ry="1.8" transform="rotate(71 327.4 433.6)" fill="#2632a0"/>
<ellipse cx="332.8" cy="431.8" rx="2.5" ry="2.3" transform="rotate(168 332.8 431.8)" fill="#3446b8"/>
<ellipse cx="338.2" cy="433.5" rx="3.6" ry="2.9" transform="rotate(128 338.2 433.5)" fill="#2632a0"/>
<ellipse cx="351.3" cy="433.7" rx="2.3" ry="2.1" transform="rotate(108 351.3 433.7)" fill="#202a90"/>
<ellipse cx="355.2" cy="434.1" rx="1.7" ry="1.3" transform="rotate(126 355.2 434.1)" fill="#2c3ab0"/>
<ellipse cx="292.3" cy="440.6" rx="1.6" ry="1.4" transform="rotate(8 292.3 440.6)" fill="#2a58a8"/>
<ellipse cx="297.5" cy="440.5" rx="2.3" ry="2.2" transform="rotate(143 297.5 440.5)" fill="#222a80"/>
<ellipse cx="310.0" cy="441.2" rx="2.6" ry="2.5" transform="rotate(46 310.0 441.2)" fill="#222a80"/>
<path d="M315.5 442.6L314.7 442.4L312.8 438.4L318.5 437.2L320.2 437.9L316.3 442.6Z" fill="#050308"/>
<ellipse cx="321.9" cy="440.5" rx="2.5" ry="2.1" transform="rotate(62 321.9 440.5)" fill="#3446b8"/>
<ellipse cx="329.3" cy="439.5" rx="3.5" ry="3.1" transform="rotate(97 329.3 439.5)" fill="#222a80"/>
<ellipse cx="338.8" cy="441.1" rx="2.7" ry="2.4" transform="rotate(59 338.8 441.1)" fill="#202a90"/>
<ellipse cx="346.8" cy="439.9" rx="3.7" ry="3.6" transform="rotate(137 346.8 439.9)" fill="#3446b8"/>
<ellipse cx="354.0" cy="438.7" rx="2.5" ry="1.9" transform="rotate(151 354.0 438.7)" fill="#3446b8"/>
<ellipse cx="302.5" cy="442.4" rx="1.5" ry="1.3" transform="rotate(173 302.5 442.4)" fill="#2632a0"/>
<ellipse cx="314.3" cy="443.8" rx="0.2" ry="0.1" transform="rotate(1 314.3 443.8)" fill="#202a90"/>
<ellipse cx="327.5" cy="442.5" rx="1.4" ry="1.0" transform="rotate(42 327.5 442.5)" fill="#2c3ab0"/>
<ellipse cx="342.3" cy="443.5" rx="0.1" ry="0.1" transform="rotate(57 342.3 443.5)" fill="#2a58a8"/>
<ellipse cx="354.3" cy="441.9" rx="1.3" ry="1.0" transform="rotate(139 354.3 441.9)" fill="#2a58a8"/>
</g>
<path d="M297.5 429.3 h3.3 v-1.6 l3.3 3.1 l-3.3 3.1 v-1.6 h-3.3 z" fill="#f2e600"/>
<g filter="url(#bl0_5)"><circle cx="308.6" cy="430.6" r="2.3" fill="#d8fff0"/></g>
</g>
<clipPath id="cl37"><rect x="357.0" y="333.7" width="125.6" height="106.8"/></clipPath>
<g clip-path="url(#cl37)">
<rect x="357.0" y="333.7" width="125.6" height="106.8" fill="#08040c" stroke="none" stroke-width="0"/>
<g filter="url(#bl1_4)">
<path d="M460.1 331.7L458.6 331.7L459.6 332.1Z" fill="#f8f8ff" stroke="#050308" stroke-width="1.0"/>
<path d="M480.3 331.7L476.3 334.0L473.5 331.7Z" fill="#a02080" stroke="#050308" stroke-width="2.4"/>
<path d="M370.3 331.7L361.4 336.8L355.0 334.8L355.0 331.7Z" fill="#30a030" stroke="#050308" stroke-width="1.4"/>
<path d="M370.6 331.7L377.9 340.6L359.5 349.9L361.4 336.8L370.3 331.7Z" fill="#30a030" stroke="#050308" stroke-width="1.9"/>
<path d="M386.4 338.7L392.0 335.2L392.3 331.7L370.6 331.7L377.9 340.6L378.0 340.7Z" fill="#e0f0c0" stroke="#050308" stroke-width="2.3"/>
<path d="M405.1 342.6L392.0 335.2L392.3 331.7L411.5 331.7L410.8 334.7Z" fill="#0a0610" stroke="#050308" stroke-width="1.0"/>
<path d="M427.2 338.8L427.7 331.7L411.5 331.7L410.8 334.7Z" fill="#e8f060" stroke="#050308" stroke-width="2.3"/>
<path d="M427.2 338.8L427.7 331.7L441.2 331.7L444.6 339.0L443.3 343.8L441.8 343.9L427.9 340.7Z" fill="#f0f060" stroke="#050308" stroke-width="1.8"/>
<path d="M441.2 331.7L444.6 339.0L454.2 331.7Z" fill="#f0f060" stroke="#050308" stroke-width="2.0"/>
<path d="M472.9 339.7L463.8 340.4L459.6 332.1L460.1 331.7L473.5 331.7L476.3 334.0Z" fill="#0a0610" stroke="#050308" stroke-width="1.3"/>
<path d="M484.6 344.3L475.9 344.4L472.9 339.7L476.3 334.0L480.3 331.7L480.5 331.7L484.6 334.8Z" fill="#0a0610" stroke="#050308" stroke-width="1.9"/>
<path d="M484.6 331.7L480.5 331.7L484.6 334.8Z" fill="#30a030" stroke="#050308" stroke-width="1.5"/>
<path d="M355.0 350.5L355.0 334.8L361.4 336.8L359.5 349.9L358.3 351.5Z" fill="#d01840" stroke="#050308" stroke-width="1.2"/>
<path d="M358.3 351.5L359.5 349.9L377.9 340.6L378.0 340.7L378.1 356.2L372.9 358.9L363.1 361.5Z" fill="#e02028" stroke="#050308" stroke-width="1.2"/>
<path d="M382.0 358.3L391.8 354.9L386.4 338.7L378.0 340.7L378.1 356.2Z" fill="#f0e020" stroke="#050308" stroke-width="1.3"/>
<path d="M405.6 344.0L401.7 353.9L394.9 355.6L391.8 354.9L386.4 338.7L392.0 335.2L405.1 342.6Z" fill="#f0e020" stroke="#050308" stroke-width="2.2"/>
<path d="M405.6 344.0L421.4 350.2L427.9 340.7L427.2 338.8L410.8 334.7L405.1 342.6Z" fill="#40c040" stroke="#050308" stroke-width="1.6"/>
<path d="M427.9 340.7L441.8 343.9L430.5 357.3L422.6 354.7L421.4 350.2Z" fill="#f8f8ff" stroke="#050308" stroke-width="1.7"/>
<path d="M441.8 343.9L430.5 357.3L438.7 365.7L446.6 359.8L450.0 351.4L443.3 343.8Z" fill="#f0f060" stroke="#050308" stroke-width="1.7"/>
<path d="M443.3 343.8L450.0 351.4L458.4 350.6L463.8 340.4L459.6 332.1L458.6 331.7L454.2 331.7L444.6 339.0Z" fill="#f0e020" stroke="#050308" stroke-width="2.6"/>
<path d="M474.8 354.9L467.4 357.7L464.9 356.2L458.4 350.6L463.8 340.4L472.9 339.7L475.9 344.4Z" fill="#40c040" stroke="#050308" stroke-width="2.4"/>
<path d="M474.8 354.9L484.6 358.4L484.6 344.3L475.9 344.4Z" fill="#0a0610" stroke="#050308" stroke-width="2.2"/>
<path d="M355.0 350.5L355.0 370.4L360.9 368.1L363.1 361.5L358.3 351.5Z" fill="#d01840" stroke="#050308" stroke-width="1.0"/>
<path d="M363.1 361.5L372.9 358.9L380.2 377.2L376.0 379.3L370.3 379.2L360.9 368.1Z" fill="#e02028" stroke="#050308" stroke-width="1.5"/>
<path d="M382.0 358.3L387.7 373.4L392.6 368.9L394.9 355.6L391.8 354.9Z" fill="#f0f060" stroke="#050308" stroke-width="2.4"/>
<path d="M392.6 368.9L394.9 355.6L401.7 353.9L407.5 364.7Z" fill="#30a030" stroke="#050308" stroke-width="1.6"/>
<path d="M405.6 344.0L401.7 353.9L407.5 364.7L410.5 367.0L411.4 366.9L416.7 364.7L422.6 354.7L421.4 350.2Z" fill="#0a0610" stroke="#050308" stroke-width="1.8"/>
<path d="M422.6 354.7L416.7 364.7L433.8 376.4L436.2 375.2L438.7 365.7L430.5 357.3Z" fill="#f8f8ff" stroke="#050308" stroke-width="1.5"/>
<path d="M464.9 356.2L458.4 350.6L450.0 351.4L446.6 359.8L454.1 367.1Z" fill="#0a0610" stroke="#050308" stroke-width="1.6"/>
<path d="M467.7 369.3L467.4 357.7L464.9 356.2L454.1 367.1L456.0 370.4L461.1 372.6Z" fill="#30a030" stroke="#050308" stroke-width="2.6"/>
<path d="M484.6 372.2L484.6 358.4L474.8 354.9L467.4 357.7L467.7 369.3L476.0 374.6Z" fill="#0a0610" stroke="#050308" stroke-width="1.5"/>
<path d="M355.0 370.4L360.9 368.1L370.3 379.2L362.8 391.5L355.0 386.6Z" fill="#40c040" stroke="#050308" stroke-width="2.7"/>
<path d="M382.0 358.3L387.7 373.4L387.3 375.1L380.2 377.2L372.9 358.9L378.1 356.2Z" fill="#a02080" stroke="#050308" stroke-width="2.4"/>
<path d="M387.3 375.1L387.7 373.4L392.6 368.9L407.5 364.7L410.5 367.0L405.2 377.6L387.9 375.6Z" fill="#e8f060" stroke="#050308" stroke-width="1.9"/>
<path d="M410.5 367.0L411.4 366.9L421.1 384.4L406.8 384.1L405.2 377.6Z" fill="#30a030" stroke="#050308" stroke-width="1.8"/>
<path d="M411.4 366.9L421.1 384.4L426.5 386.8L433.8 376.4L416.7 364.7Z" fill="#f0e020" stroke="#050308" stroke-width="1.9"/>
<path d="M456.0 370.4L443.5 378.8L436.2 375.2L438.7 365.7L446.6 359.8L454.1 367.1Z" fill="#a02080" stroke="#050308" stroke-width="1.6"/>
<path d="M461.1 372.6L456.0 370.4L443.5 378.8L444.5 380.0L460.1 378.3Z" fill="#0a0610" stroke="#050308" stroke-width="1.1"/>
<path d="M476.0 374.6L467.7 369.3L461.1 372.6L460.1 378.3L460.2 379.4L473.7 382.2Z" fill="#0a0610" stroke="#050308" stroke-width="1.6"/>
<path d="M355.0 386.6L355.0 396.8L361.0 395.3L362.9 392.5L362.8 391.5Z" fill="#a02080" stroke="#050308" stroke-width="1.8"/>
<path d="M379.2 389.4L376.0 379.3L370.3 379.2L362.8 391.5L362.9 392.5L374.6 398.9Z" fill="#f0e020" stroke="#050308" stroke-width="1.7"/>
<path d="M392.8 394.6L379.2 389.4L376.0 379.3L380.2 377.2L387.3 375.1L387.9 375.6L394.2 393.1Z" fill="#0a0610" stroke="#050308" stroke-width="2.5"/>
<path d="M401.0 392.4L394.2 393.1L387.9 375.6L405.2 377.6L406.8 384.1L403.1 391.4Z" fill="#f0e020" stroke="#050308" stroke-width="2.5"/>
<path d="M417.3 399.6L424.6 395.1L426.7 391.9L426.5 386.8L421.1 384.4L406.8 384.1L403.1 391.4Z" fill="#f0e020" stroke="#050308" stroke-width="1.5"/>
<path d="M446.6 393.9L450.1 390.7L444.5 380.0L443.5 378.8L436.2 375.2L433.8 376.4L426.5 386.8L426.7 391.9L437.1 396.2Z" fill="#0a0610" stroke="#050308" stroke-width="2.3"/>
<path d="M460.2 379.4L460.1 378.3L444.5 380.0L450.1 390.7L459.2 392.2Z" fill="#f8f8ff" stroke="#050308" stroke-width="1.0"/>
<path d="M472.6 391.6L462.5 394.7L459.2 392.2L460.2 379.4L473.7 382.2Z" fill="#f0e020" stroke="#050308" stroke-width="1.5"/>
<path d="M484.6 389.4L476.0 393.2L472.6 391.6L473.7 382.2L476.0 374.6L484.6 372.2Z" fill="#0a0610" stroke="#050308" stroke-width="2.5"/>
<path d="M355.0 406.0L360.7 407.7L361.0 395.3L355.0 396.8Z" fill="#e8f060" stroke="#050308" stroke-width="1.3"/>
<path d="M379.5 407.4L364.5 416.8L364.4 416.8L360.7 407.7L361.0 395.3L362.9 392.5L374.6 398.9Z" fill="#a02080" stroke="#050308" stroke-width="1.5"/>
<path d="M392.8 394.6L379.2 389.4L374.6 398.9L379.5 407.4L383.1 407.9L389.1 402.6Z" fill="#0a0610" stroke="#050308" stroke-width="1.2"/>
<path d="M405.9 410.6L389.1 402.6L392.8 394.6L394.2 393.1L401.0 392.4Z" fill="#f0f060" stroke="#050308" stroke-width="1.5"/>
<path d="M405.9 410.6L401.0 392.4L403.1 391.4L417.3 399.6L411.1 416.1Z" fill="#a02080" stroke="#050308" stroke-width="1.4"/>
<path d="M437.1 396.2L426.7 391.9L424.6 395.1L431.4 411.5L437.7 411.2L439.6 408.4Z" fill="#0a0610" stroke="#050308" stroke-width="2.7"/>
<path d="M446.6 393.9L447.4 406.1L439.6 408.4L437.1 396.2Z" fill="#0a0610" stroke="#050308" stroke-width="1.7"/>
<path d="M462.5 394.7L461.1 407.2L457.8 410.6L447.4 406.1L446.6 393.9L450.1 390.7L459.2 392.2Z" fill="#d01840" stroke="#050308" stroke-width="1.1"/>
<path d="M476.0 393.2L481.9 404.1L479.9 409.9L473.4 411.3L461.1 407.2L462.5 394.7L472.6 391.6Z" fill="#40c040" stroke="#050308" stroke-width="1.7"/>
<path d="M484.6 389.4L484.6 403.4L481.9 404.1L476.0 393.2Z" fill="#40c040" stroke="#050308" stroke-width="2.5"/>
<path d="M355.0 406.0L360.7 407.7L364.4 416.8L355.0 420.3Z" fill="#0a0610" stroke="#050308" stroke-width="0.9"/>
<path d="M383.1 407.9L379.5 407.4L364.5 416.8L372.9 431.4L387.1 424.0L383.7 408.9Z" fill="#40c040" stroke="#050308" stroke-width="1.6"/>
<path d="M407.8 419.8L402.4 424.7L401.1 425.3L390.4 425.8L387.1 424.0L383.7 408.9Z" fill="#f0f060" stroke="#050308" stroke-width="2.5"/>
<path d="M405.9 410.6L389.1 402.6L383.1 407.9L383.7 408.9L407.8 419.8L411.3 417.9L411.1 416.1Z" fill="#e0f0c0" stroke="#050308" stroke-width="1.1"/>
<path d="M411.1 416.1L411.3 417.9L413.9 419.3L429.1 413.5L431.4 411.5L424.6 395.1L417.3 399.6Z" fill="#0a0610" stroke="#050308" stroke-width="1.3"/>
<path d="M444.5 422.7L437.7 411.2L431.4 411.5L429.1 413.5L436.4 430.9L436.8 431.0Z" fill="#0a0610" stroke="#050308" stroke-width="1.3"/>
<path d="M447.4 406.1L457.8 410.6L455.4 421.3L444.5 422.7L437.7 411.2L439.6 408.4Z" fill="#0a0610" stroke="#050308" stroke-width="2.2"/>
<path d="M467.8 428.5L469.0 428.1L473.4 411.3L461.1 407.2L457.8 410.6L455.4 421.3L456.8 422.9Z" fill="#f0f060" stroke="#050308" stroke-width="2.5"/>
<path d="M469.0 428.1L473.4 411.3L479.9 409.9L484.6 416.8L484.6 424.0L469.2 428.1Z" fill="#e0f0c0" stroke="#050308" stroke-width="1.6"/>
<path d="M484.6 403.4L484.6 416.8L479.9 409.9L481.9 404.1Z" fill="#e8f060" stroke="#050308" stroke-width="1.4"/>
<path d="M355.0 442.5L355.4 442.5L359.3 437.1L355.0 426.9Z" fill="#f0e020" stroke="#050308" stroke-width="1.5"/>
<path d="M372.9 431.4L372.7 432.8L359.3 437.1L355.0 426.9L355.0 420.3L364.4 416.8L364.5 416.8Z" fill="#40c040" stroke="#050308" stroke-width="1.9"/>
<path d="M390.4 425.8L387.1 424.0L372.9 431.4L372.7 432.8L372.9 433.3L377.2 440.5L389.4 436.5Z" fill="#40c040" stroke="#050308" stroke-width="1.3"/>
<path d="M401.1 425.3L396.8 442.5L395.8 442.5L389.4 436.5L390.4 425.8Z" fill="#0a0610" stroke="#050308" stroke-width="1.7"/>
<path d="M407.8 419.8L402.4 424.7L407.6 440.2L419.5 434.9L420.8 430.3L413.9 419.3L411.3 417.9Z" fill="#40c040" stroke="#050308" stroke-width="2.1"/>
<path d="M420.8 430.3L436.4 430.9L429.1 413.5L413.9 419.3Z" fill="#f0e020" stroke="#050308" stroke-width="2.7"/>
<path d="M456.8 422.9L455.4 421.3L444.5 422.7L436.8 431.0L440.5 440.8L452.1 438.8Z" fill="#0a0610" stroke="#050308" stroke-width="1.1"/>
<path d="M467.0 434.5L453.4 439.7L452.1 438.8L456.8 422.9L467.8 428.5Z" fill="#a02080" stroke="#050308" stroke-width="1.5"/>
<path d="M484.6 441.8L469.2 428.1L484.6 424.0Z" fill="#0a0610" stroke="#050308" stroke-width="2.6"/>
<path d="M366.0 442.5L355.4 442.5L359.3 437.1L372.7 432.8L372.9 433.3Z" fill="#40c040" stroke="#050308" stroke-width="1.3"/>
<path d="M377.4 442.5L377.2 440.5L372.9 433.3L366.0 442.5Z" fill="#f0e020" stroke="#050308" stroke-width="2.3"/>
<path d="M395.8 442.5L377.4 442.5L377.2 440.5L389.4 436.5Z" fill="#f0e020" stroke="#050308" stroke-width="1.4"/>
<path d="M396.8 442.5L401.1 425.3L402.4 424.7L407.6 440.2L406.1 442.5Z" fill="#f0e020" stroke="#050308" stroke-width="1.5"/>
<path d="M419.5 434.9L421.1 442.5L406.1 442.5L407.6 440.2Z" fill="#f03050" stroke="#050308" stroke-width="2.2"/>
<path d="M440.5 440.8L440.0 442.5L421.1 442.5L419.5 434.9L420.8 430.3L436.4 430.9L436.8 431.0Z" fill="#0a0610" stroke="#050308" stroke-width="2.7"/>
<path d="M452.1 438.8L440.5 440.8L440.0 442.5L455.3 442.5L453.4 439.7Z" fill="#a02080" stroke="#050308" stroke-width="0.9"/>
<path d="M467.0 434.5L468.2 442.5L455.3 442.5L453.4 439.7Z" fill="#40c040" stroke="#050308" stroke-width="2.1"/>
<path d="M484.6 442.5L484.6 441.8L469.2 428.1L469.0 428.1L467.8 428.5L467.0 434.5L468.2 442.5Z" fill="#0a0610" stroke="#050308" stroke-width="1.9"/>
<ellipse cx="458.5" cy="331.1" rx="0.3" ry="0.2" transform="rotate(47 458.5 331.1)" fill="#4434a8"/>
<ellipse cx="476.3" cy="332.2" rx="1.0" ry="0.9" transform="rotate(72 476.3 332.2)" fill="#3a3ab8"/>
<ellipse cx="360.9" cy="333.2" rx="2.9" ry="2.8" transform="rotate(142 360.9 333.2)" fill="#4434a8"/>
<ellipse cx="369.1" cy="337.9" rx="6.1" ry="5.3" transform="rotate(143 369.1 337.9)" fill="#2a2894"/>
<ellipse cx="384.1" cy="337.1" rx="4.7" ry="3.5" transform="rotate(0 384.1 337.1)" fill="#a0a0e0"/>
<ellipse cx="401.7" cy="335.0" rx="4.3" ry="3.7" transform="rotate(3 401.7 335.0)" fill="#20208a"/>
<ellipse cx="419.1" cy="333.1" rx="3.3" ry="3.2" transform="rotate(23 419.1 333.1)" fill="#242490"/>
<ellipse cx="435.8" cy="338.1" rx="5.9" ry="5.3" transform="rotate(136 435.8 338.1)" fill="#e8e8ff"/>
<ellipse cx="447.0" cy="333.7" rx="3.0" ry="2.4" transform="rotate(106 447.0 333.7)" fill="#2c2ca8"/>
<ellipse cx="468.8" cy="335.0" rx="4.5" ry="4.1" transform="rotate(154 468.8 335.0)" fill="#242490"/>
<ellipse cx="478.7" cy="336.7" rx="4.1" ry="3.4" transform="rotate(154 478.7 336.7)" fill="#4434a8"/>
<ellipse cx="482.7" cy="332.2" rx="1.2" ry="1.0" transform="rotate(27 482.7 332.2)" fill="#20208a"/>
<ellipse cx="356.9" cy="345.3" rx="4.7" ry="3.8" transform="rotate(150 356.9 345.3)" fill="#242490"/>
<ellipse cx="370.6" cy="350.9" rx="7.5" ry="6.1" transform="rotate(147 370.6 350.9)" fill="#4434a8"/>
<ellipse cx="383.2" cy="349.7" rx="5.7" ry="5.5" transform="rotate(56 383.2 349.7)" fill="#4434a8"/>
<ellipse cx="395.8" cy="345.4" rx="8.2" ry="6.2" transform="rotate(153 395.8 345.4)" fill="#3a3ab8"/>
<ellipse cx="415.7" cy="341.3" rx="5.9" ry="5.1" transform="rotate(30 415.7 341.3)" fill="#2c2ca8"/>
<ellipse cx="428.4" cy="348.4" rx="6.3" ry="5.0" transform="rotate(171 428.4 348.4)" fill="#c0c0f0"/>
<ellipse cx="441.6" cy="353.1" rx="6.1" ry="4.7" transform="rotate(158 441.6 353.1)" fill="#e8e8ff"/>
<ellipse cx="454.5" cy="339.2" rx="6.9" ry="5.4" transform="rotate(36 454.5 339.2)" fill="#2a2894"/>
<ellipse cx="468.6" cy="348.4" rx="7.2" ry="5.7" transform="rotate(69 468.6 348.4)" fill="#3a3ab8"/>
<ellipse cx="480.4" cy="351.7" rx="5.1" ry="4.8" transform="rotate(158 480.4 351.7)" fill="#242490"/>
<path d="M356.0 353.5L356.0 367.4L360.2 365.8L361.7 361.2L358.3 354.2Z" fill="#050308"/>
<ellipse cx="370.8" cy="371.4" rx="5.8" ry="5.5" transform="rotate(164 370.8 371.4)" fill="#242490"/>
<ellipse cx="390.7" cy="361.2" rx="4.6" ry="3.9" transform="rotate(104 390.7 361.2)" fill="#d8d8f8"/>
<ellipse cx="399.5" cy="362.0" rx="5.4" ry="5.4" transform="rotate(146 399.5 362.0)" fill="#c0c0f0"/>
<ellipse cx="412.7" cy="358.6" rx="6.5" ry="6.0" transform="rotate(75 412.7 358.6)" fill="#3a3ab8"/>
<ellipse cx="430.7" cy="365.8" rx="8.1" ry="7.5" transform="rotate(10 430.7 365.8)" fill="#3a3ab8"/>
<ellipse cx="455.8" cy="357.6" rx="6.9" ry="5.8" transform="rotate(94 455.8 357.6)" fill="#242490"/>
<ellipse cx="461.0" cy="365.2" rx="5.8" ry="5.1" transform="rotate(147 461.0 365.2)" fill="#3430b0"/>
<ellipse cx="476.1" cy="363.8" rx="6.4" ry="5.6" transform="rotate(21 476.1 363.8)" fill="#4434a8"/>
<ellipse cx="359.9" cy="378.7" rx="6.7" ry="6.6" transform="rotate(58 359.9 378.7)" fill="#3430b0"/>
<ellipse cx="381.3" cy="366.7" rx="5.5" ry="4.3" transform="rotate(42 381.3 366.7)" fill="#242490"/>
<ellipse cx="396.8" cy="372.4" rx="6.2" ry="5.2" transform="rotate(152 396.8 372.4)" fill="#20208a"/>
<ellipse cx="411.9" cy="375.9" rx="5.0" ry="4.3" transform="rotate(108 411.9 375.9)" fill="#242490"/>
<ellipse cx="421.4" cy="376.5" rx="6.7" ry="5.5" transform="rotate(17 421.4 376.5)" fill="#4434a8"/>
<ellipse cx="445.9" cy="369.9" rx="5.8" ry="4.8" transform="rotate(20 445.9 369.9)" fill="#4434a8"/>
<ellipse cx="454.1" cy="376.2" rx="4.7" ry="3.9" transform="rotate(153 454.1 376.2)" fill="#2c2ca8"/>
<ellipse cx="465.9" cy="376.0" rx="4.5" ry="4.0" transform="rotate(47 465.9 376.0)" fill="#2a2894"/>
<ellipse cx="359.8" cy="392.4" rx="2.8" ry="2.3" transform="rotate(83 359.8 392.4)" fill="#4a3cb0"/>
<ellipse cx="370.8" cy="388.4" rx="5.9" ry="4.9" transform="rotate(172 370.8 388.4)" fill="#4434a8"/>
<ellipse cx="384.9" cy="382.5" rx="5.6" ry="4.5" transform="rotate(28 384.9 382.5)" fill="#4434a8"/>
<ellipse cx="400.7" cy="385.5" rx="6.9" ry="6.1" transform="rotate(124 400.7 385.5)" fill="#2c2ca8"/>
<ellipse cx="417.5" cy="391.7" rx="6.0" ry="5.7" transform="rotate(98 417.5 391.7)" fill="#3a3ab8"/>
<ellipse cx="437.6" cy="385.7" rx="7.3" ry="5.6" transform="rotate(151 437.6 385.7)" fill="#4a3cb0"/>
<ellipse cx="456.0" cy="383.9" rx="4.8" ry="4.0" transform="rotate(94 456.0 383.9)" fill="#242490"/>
<ellipse cx="465.7" cy="388.9" rx="5.9" ry="5.8" transform="rotate(134 465.7 388.9)" fill="#d8d8f8"/>
<ellipse cx="478.9" cy="383.2" rx="5.8" ry="5.5" transform="rotate(123 478.9 383.2)" fill="#2a2894"/>
<path d="M355.9 404.6L359.9 405.8L360.0 397.1L355.9 398.2Z" fill="#050308"/>
<ellipse cx="367.3" cy="405.7" rx="6.7" ry="6.5" transform="rotate(72 367.3 405.7)" fill="#4434a8"/>
<ellipse cx="381.8" cy="400.3" rx="6.3" ry="5.2" transform="rotate(47 381.8 400.3)" fill="#242490"/>
<ellipse cx="397.2" cy="397.8" rx="5.3" ry="4.6" transform="rotate(12 397.2 397.8)" fill="#4a3cb0"/>
<ellipse cx="408.0" cy="402.3" rx="5.5" ry="5.0" transform="rotate(79 408.0 402.3)" fill="#242490"/>
<ellipse cx="431.7" cy="403.4" rx="6.2" ry="6.1" transform="rotate(26 431.7 403.4)" fill="#2a2894"/>
<ellipse cx="441.6" cy="401.2" rx="5.2" ry="4.4" transform="rotate(176 441.6 401.2)" fill="#2a2894"/>
<ellipse cx="455.7" cy="398.4" rx="7.4" ry="6.6" transform="rotate(106 455.7 398.4)" fill="#4434a8"/>
<ellipse cx="472.9" cy="402.5" rx="6.9" ry="6.8" transform="rotate(140 472.9 402.5)" fill="#2c2ca8"/>
<ellipse cx="481.9" cy="396.8" rx="4.0" ry="3.6" transform="rotate(101 481.9 396.8)" fill="#242490"/>
<ellipse cx="358.4" cy="413.8" rx="3.7" ry="3.1" transform="rotate(173 358.4 413.8)" fill="#4434a8"/>
<ellipse cx="379.7" cy="415.2" rx="8.5" ry="7.4" transform="rotate(105 379.7 415.2)" fill="#242490"/>
<ellipse cx="395.2" cy="420.8" rx="5.8" ry="4.9" transform="rotate(155 395.2 420.8)" fill="#4434a8"/>
<ellipse cx="400.0" cy="411.5" rx="7.2" ry="5.7" transform="rotate(89 400.0 411.5)" fill="#2a2894"/>
<ellipse cx="419.1" cy="410.5" rx="6.9" ry="5.7" transform="rotate(110 419.1 410.5)" fill="#4a3cb0"/>
<ellipse cx="436.2" cy="421.3" rx="5.7" ry="4.5" transform="rotate(89 436.2 421.3)" fill="#4a3cb0"/>
<ellipse cx="445.8" cy="413.5" rx="7.6" ry="6.1" transform="rotate(142 445.8 413.5)" fill="#4434a8"/>
<ellipse cx="463.3" cy="418.4" rx="7.2" ry="6.8" transform="rotate(48 463.3 418.4)" fill="#20208a"/>
<ellipse cx="476.2" cy="419.4" rx="7.1" ry="6.0" transform="rotate(175 476.2 419.4)" fill="#e8e8ff"/>
<ellipse cx="482.3" cy="408.2" rx="2.6" ry="2.4" transform="rotate(37 482.3 408.2)" fill="#2a2894"/>
<ellipse cx="355.3" cy="438.0" rx="2.6" ry="2.1" transform="rotate(115 355.3 438.0)" fill="#4434a8"/>
<ellipse cx="362.6" cy="426.9" rx="7.2" ry="5.7" transform="rotate(128 362.6 426.9)" fill="#4434a8"/>
<ellipse cx="379.9" cy="432.7" rx="5.9" ry="4.8" transform="rotate(104 379.9 432.7)" fill="#2a2894"/>
<ellipse cx="394.1" cy="434.5" rx="5.8" ry="4.6" transform="rotate(151 394.1 434.5)" fill="#2a2894"/>
<ellipse cx="411.3" cy="425.7" rx="7.5" ry="5.9" transform="rotate(117 411.3 425.7)" fill="#2c2ca8"/>
<ellipse cx="425.7" cy="423.9" rx="6.2" ry="5.6" transform="rotate(7 425.7 423.9)" fill="#3a3ab8"/>
<ellipse cx="447.5" cy="430.7" rx="6.2" ry="6.2" transform="rotate(121 447.5 430.7)" fill="#4a3cb0"/>
<ellipse cx="459.6" cy="431.9" rx="4.4" ry="4.3" transform="rotate(33 459.6 431.9)" fill="#2a2894"/>
<ellipse cx="479.9" cy="431.7" rx="5.8" ry="4.6" transform="rotate(39 479.9 431.7)" fill="#242490"/>
<ellipse cx="364.1" cy="438.5" rx="3.8" ry="3.5" transform="rotate(148 364.1 438.5)" fill="#4434a8"/>
<ellipse cx="372.5" cy="440.2" rx="3.2" ry="2.7" transform="rotate(55 372.5 440.2)" fill="#3430b0"/>
<ellipse cx="386.1" cy="439.6" rx="4.2" ry="3.6" transform="rotate(63 386.1 439.6)" fill="#2c2ca8"/>
<ellipse cx="403.9" cy="434.3" rx="4.4" ry="3.7" transform="rotate(114 403.9 434.3)" fill="#242490"/>
<ellipse cx="414.2" cy="440.8" rx="4.4" ry="3.5" transform="rotate(1 414.2 440.8)" fill="#20208a"/>
<ellipse cx="430.2" cy="435.6" rx="6.9" ry="6.4" transform="rotate(70 430.2 435.6)" fill="#2c2ca8"/>
<ellipse cx="448.8" cy="440.7" rx="3.1" ry="2.4" transform="rotate(134 448.8 440.7)" fill="#20208a"/>
<ellipse cx="462.1" cy="440.6" rx="3.6" ry="3.1" transform="rotate(22 462.1 440.6)" fill="#20208a"/>
<ellipse cx="473.0" cy="434.4" rx="4.6" ry="4.0" transform="rotate(47 473.0 434.4)" fill="#2c2ca8"/>
</g>
<path d="M361.5 398.5 h2.5 v-1.3 l2.6 2.5 l-2.6 2.5 v-1.3 h-2.5 z" fill="#f2e600"/>
</g>
<rect x="292.9" y="386.5" width="62.1" height="2.5" fill="#ffffff" stroke="none" stroke-width="0"/>
<rect x="355.0" y="333.7" width="2.0" height="108" fill="#ffffff" stroke="none" stroke-width="0"/>
<rect x="291.8" y="442.2" width="191.4" height="17.8" fill="#070707" stroke="none" stroke-width="0"/>
<text x="387.7" y="456.0" font-size="9" text-anchor="middle" fill="#fff" textLength="86.8" lengthAdjust="spacingAndGlyphs"><tspan fill="#4a8ed8">DAPI</tspan>/<tspan fill="#e0202a">CD3</tspan>/<tspan fill="#38b048">CD4</tspan>/FOXP3</text>
<rect x="0.5" y="0.5" width="519" height="629" fill="none" stroke="#6a6a6a" stroke-width="1"/>
</svg>
</body></html>
